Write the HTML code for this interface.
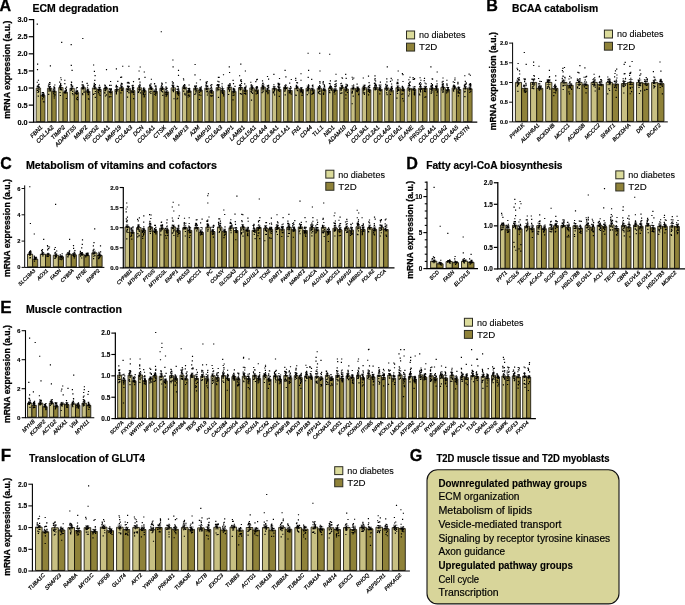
<!DOCTYPE html>
<html><head><meta charset="utf-8"><title>Figure</title>
<style>
html,body{margin:0;padding:0;background:#fff;}
body{width:685px;height:605px;overflow:hidden;}
svg{display:block;font-family:"Liberation Sans",sans-serif;}
</style></head><body>
<svg width="685" height="605" viewBox="0 0 685 605">
<rect width="685" height="605" fill="#fff"/>
<path d="M36.21 121.6V88H40.6V121.6zM47.45 121.6V88.24H51.84V121.6zM58.69 121.6V87.55H63.08V121.6zM69.93 121.6V88.34H74.32V121.6zM81.17 121.6V87.71H85.56V121.6zM92.41 121.6V87.94H96.8V121.6zM103.65 121.6V88.36H108.04V121.6zM114.89 121.6V89.47H119.28V121.6zM126.13 121.6V88.39H130.52V121.6zM137.37 121.6V87.85H141.76V121.6zM148.61 121.6V88.35H153V121.6zM159.85 121.6V88.32H164.24V121.6zM171.09 121.6V87.86H175.48V121.6zM182.33 121.6V87.31H186.72V121.6zM193.57 121.6V88.27H197.96V121.6zM204.81 121.6V88.14H209.2V121.6zM216.05 121.6V87.59H220.44V121.6zM227.29 121.6V87.15H231.68V121.6zM238.53 121.6V87.65H242.92V121.6zM249.77 121.6V87.9H254.16V121.6zM261.01 121.6V87.11H265.4V121.6zM272.25 121.6V88.38H276.64V121.6zM283.49 121.6V87.27H287.88V121.6zM294.73 121.6V88.05H299.12V121.6zM305.97 121.6V88.25H310.36V121.6zM317.21 121.6V88.28H321.6V121.6zM328.45 121.6V88.02H332.84V121.6zM339.69 121.6V87.33H344.08V121.6zM350.93 121.6V88.2H355.32V121.6zM362.17 121.6V87.65H366.56V121.6zM373.41 121.6V87.57H377.8V121.6zM384.65 121.6V87.93H389.04V121.6zM395.89 121.6V87.69H400.28V121.6zM407.13 121.6V88.36H411.52V121.6zM418.37 121.6V88.36H422.76V121.6zM429.61 121.6V88.16H434V121.6zM440.85 121.6V87.51H445.24V121.6zM452.09 121.6V87.86H456.48V121.6zM463.33 121.6V88.01H467.72V121.6z" fill="#c8c083" stroke="#151208" stroke-width="0.72"/>
<path d="M40.6 121.6V95.28H44.99V121.6zM51.84 121.6V91.18H56.23V121.6zM63.08 121.6V92.21H67.47V121.6zM74.32 121.6V92.55H78.71V121.6zM85.56 121.6V91.18H89.95V121.6zM96.8 121.6V89.47H101.19V121.6zM108.04 121.6V91.18H112.43V121.6zM119.28 121.6V87.76H123.67V121.6zM130.52 121.6V90.44H134.91V121.6zM141.76 121.6V90.64H146.15V121.6zM153 121.6V91.45H157.39V121.6zM164.24 121.6V91.86H168.63V121.6zM175.48 121.6V91.62H179.87V121.6zM186.72 121.6V90.92H191.11V121.6zM197.96 121.6V90.14H202.35V121.6zM209.2 121.6V91.3H213.59V121.6zM220.44 121.6V90.54H224.83V121.6zM231.68 121.6V91.38H236.07V121.6zM242.92 121.6V90.02H247.31V121.6zM254.16 121.6V89.75H258.55V121.6zM265.4 121.6V90.07H269.79V121.6zM276.64 121.6V89.38H281.03V121.6zM287.88 121.6V90.47H292.27V121.6zM299.12 121.6V89.62H303.51V121.6zM310.36 121.6V89.76H314.75V121.6zM321.6 121.6V89.72H325.99V121.6zM332.84 121.6V89.91H337.23V121.6zM344.08 121.6V89.06H348.47V121.6zM355.32 121.6V88.79H359.71V121.6zM366.56 121.6V89.69H370.95V121.6zM377.8 121.6V89.24H382.19V121.6zM389.04 121.6V90.42H393.43V121.6zM400.28 121.6V89.05H404.67V121.6zM411.52 121.6V89.1H415.91V121.6zM422.76 121.6V88.34H427.15V121.6zM434 121.6V88.63H438.39V121.6zM445.24 121.6V89.68H449.63V121.6zM456.48 121.6V89.42H460.87V121.6zM467.72 121.6V88.78H472.11V121.6z" fill="#8f8239" stroke="#151208" stroke-width="0.72"/>
<path d="M38.2 86.5V88.8M36.8 86.5h2.9M36.8 88.8h2.9M43 93.8V96.1M41.6 93.8h2.9M41.6 96.1h2.9M49.5 86.5V89.2M48 86.5h2.9M48 89.2h2.9M54.2 89.2V92.5M52.8 89.2h2.9M52.8 92.5h2.9M60.7 85.5V88.9M59.3 85.5h2.9M59.3 88.9h2.9M65.5 90.8V92.9M64 90.8h2.9M64 92.9h2.9M71.9 86.9V89.1M70.5 86.9h2.9M70.5 89.1h2.9M76.7 90.9V93.5M75.3 90.9h2.9M75.3 93.5h2.9M83.2 86.2V88.5M81.8 86.2h2.9M81.8 88.5h2.9M87.9 89V92.7M86.5 89h2.9M86.5 92.7h2.9M94.4 86.1V89M93 86.1h2.9M93 89h2.9M99.2 88V90.2M97.8 88h2.9M97.8 90.2h2.9M105.7 86.9V89.1M104.2 86.9h2.9M104.2 89.1h2.9M110.4 89.3V92.4M109 89.3h2.9M109 92.4h2.9M116.9 87.1V91.1M115.5 87.1h2.9M115.5 91.1h2.9M121.7 86.2V88.6M120.2 86.2h2.9M120.2 88.6h2.9M128.1 86.2V89.9M126.7 86.2h2.9M126.7 89.9h2.9M132.9 88.2V91.9M131.5 88.2h2.9M131.5 91.9h2.9M139.4 85.7V89.3M138 85.7h2.9M138 89.3h2.9M144.1 88.9V91.7M142.7 88.9h2.9M142.7 91.7h2.9M150.6 86.5V89.5M149.2 86.5h2.9M149.2 89.5h2.9M155.4 89.9V92.2M153.9 89.9h2.9M153.9 92.2h2.9M161.9 86.7V89.2M160.4 86.7h2.9M160.4 89.2h2.9M166.6 90.4V92.6M165.2 90.4h2.9M165.2 92.6h2.9M173.1 85.3V89.7M171.7 85.3h2.9M171.7 89.7h2.9M177.9 89.3V93.2M176.4 89.3h2.9M176.4 93.2h2.9M184.3 85.3V88.6M182.9 85.3h2.9M182.9 88.6h2.9M189.1 88.6V92.5M187.7 88.6h2.9M187.7 92.5h2.9M195.6 85.8V90M194.2 85.8h2.9M194.2 90h2.9M200.3 88.4V91.1M198.9 88.4h2.9M198.9 91.1h2.9M206.8 85.9V89.7M205.4 85.9h2.9M205.4 89.7h2.9M211.6 89V92.9M210.1 89h2.9M210.1 92.9h2.9M218.1 85V89.4M216.6 85h2.9M216.6 89.4h2.9M222.8 88.5V91.8M221.4 88.5h2.9M221.4 91.8h2.9M229.3 85.5V88M227.9 85.5h2.9M227.9 88h2.9M234.1 89.2V92.9M232.6 89.2h2.9M232.6 92.9h2.9M240.5 85.4V89.2M239.1 85.4h2.9M239.1 89.2h2.9M245.3 87.8V91.5M243.9 87.8h2.9M243.9 91.5h2.9M251.8 85.9V89.2M250.4 85.9h2.9M250.4 89.2h2.9M256.5 88V90.7M255.1 88h2.9M255.1 90.7h2.9M263 84.7V88.8M261.6 84.7h2.9M261.6 88.8h2.9M267.8 88.3V91.1M266.4 88.3h2.9M266.4 91.1h2.9M274.3 86.5V89.6M272.8 86.5h2.9M272.8 89.6h2.9M279 87.4V90.6M277.6 87.4h2.9M277.6 90.6h2.9M285.5 85.5V88.4M284.1 85.5h2.9M284.1 88.4h2.9M290.3 88.2V92M288.8 88.2h2.9M288.8 92h2.9M296.7 86.4V88.9M295.3 86.4h2.9M295.3 88.9h2.9M301.5 87.7V90.8M300.1 87.7h2.9M300.1 90.8h2.9M308 86V89.8M306.6 86h2.9M306.6 89.8h2.9M312.7 88.2V90.6M311.3 88.2h2.9M311.3 90.6h2.9M319.2 86.5V89.4M317.8 86.5h2.9M317.8 89.4h2.9M324 88.1V90.7M322.6 88.1h2.9M322.6 90.7h2.9M330.5 86.5V88.8M329 86.5h2.9M329 88.8h2.9M335.2 88.5V90.7M333.8 88.5h2.9M333.8 90.7h2.9M341.7 85.5V88.4M340.3 85.5h2.9M340.3 88.4h2.9M346.5 86.6V90.8M345 86.6h2.9M345 90.8h2.9M352.9 85.8V89.9M351.5 85.8h2.9M351.5 89.9h2.9M357.7 87V89.9M356.3 87h2.9M356.3 89.9h2.9M364.2 85.2V89.4M362.8 85.2h2.9M362.8 89.4h2.9M368.9 87.2V91.4M367.5 87.2h2.9M367.5 91.4h2.9M375.4 85.1V89.3M374 85.1h2.9M374 89.3h2.9M380.2 87.2V90.5M378.8 87.2h2.9M378.8 90.5h2.9M386.7 86.4V88.8M385.2 86.4h2.9M385.2 88.8h2.9M391.4 88.3V91.8M390 88.3h2.9M390 91.8h2.9M397.9 85.9V88.7M396.5 85.9h2.9M396.5 88.7h2.9M402.7 87.2V90.2M401.2 87.2h2.9M401.2 90.2h2.9M409.1 85.9V90.1M407.7 85.9h2.9M407.7 90.1h2.9M413.9 86.9V90.5M412.5 86.9h2.9M412.5 90.5h2.9M420.4 86.5V89.5M419 86.5h2.9M419 89.5h2.9M425.1 86.3V89.6M423.7 86.3h2.9M423.7 89.6h2.9M431.6 86.1V89.5M430.2 86.1h2.9M430.2 89.5h2.9M436.4 86.2V90.3M435 86.2h2.9M435 90.3h2.9M442.9 86V88.3M441.4 86h2.9M441.4 88.3h2.9M447.6 87.5V91.1M446.2 87.5h2.9M446.2 91.1h2.9M454.1 85.9V89.1M452.7 85.9h2.9M452.7 89.1h2.9M458.9 87.3V90.8M457.4 87.3h2.9M457.4 90.8h2.9M465.3 86.5V88.9M463.9 86.5h2.9M463.9 88.9h2.9M470.1 86.8V90M468.7 86.8h2.9M468.7 90h2.9" stroke="#000" stroke-width="0.6" fill="none"/>
<path d="M37.4 92.5h1.2M37.8 80.2h1.2M38.6 87.3h1.2M38 84.7h1.2M37.7 96.1h1.2M37.9 84.7h1.2M38 91.6h1.2M36.7 86.2h1.2M38.5 84.2h1.2M38.2 91.2h1.2M38.4 89.5h1.2M38.2 90.7h1.2M37.4 85.8h1.2M37.4 86.6h1.2M36.8 90.4h1.2M37.9 87h1.2M36.7 82.2h1.2M36.7 24.1h1.2M37 64.1h1.2M36.9 69.6h1.2M43.4 94.9h1.2M43.1 93.9h1.2M42.8 94.9h1.2M41.9 96h1.2M42.1 95.6h1.2M41.7 92.6h1.2M42.9 92.5h1.2M42.4 96.7h1.2M43 94.5h1.2M42 98.8h1.2M41.8 94.6h1.2M43 94.9h1.2M43.4 101.8h1.2M43.1 96.7h1.2M43 95.2h1.2M43 97.1h1.2M42.9 101.7h1.2M48.6 88.8h1.2M48.7 87.5h1.2M49.8 90.9h1.2M49.3 87.3h1.2M48.2 84.1h1.2M48.1 94.4h1.2M48.1 85.9h1.2M49.7 86.5h1.2M49.5 89.9h1.2M48.1 85.7h1.2M49.5 82.8h1.2M49.9 88.9h1.2M49.2 84.5h1.2M48.6 91h1.2M49 82.5h1.2M48.1 91h1.2M47.8 86h1.2M49.8 65.9h1.2M53.7 98h1.2M53.3 86.9h1.2M53.7 91h1.2M53.7 90.8h1.2M54.2 88h1.2M52.8 91.1h1.2M53.7 87.3h1.2M53.1 89.2h1.2M53.1 93.5h1.2M54.2 85h1.2M53.6 96.1h1.2M53.7 91.4h1.2M54.2 91h1.2M54.5 94.8h1.2M53.5 94.1h1.2M53.9 87.9h1.2M53.6 88.6h1.2M59.4 92.5h1.2M60 84.8h1.2M60.1 89.4h1.2M59.8 95.5h1.2M59.5 86.1h1.2M59.7 88.2h1.2M60.6 89.4h1.2M59.1 86.7h1.2M60.2 77.7h1.2M60 85.7h1.2M59.1 82.1h1.2M59.8 89.7h1.2M60.4 87.2h1.2M60.1 83.6h1.2M59.2 87.2h1.2M61.1 89.9h1.2M60.7 79.7h1.2M61.1 42.3h1.2M65.1 92.4h1.2M63.9 83.7h1.2M65.3 90h1.2M65.8 89.2h1.2M65.8 98.5h1.2M64.4 83.7h1.2M64.2 80.2h1.2M65.8 90.6h1.2M65.1 91.3h1.2M64.9 88.3h1.2M64.2 92.8h1.2M64.7 91.6h1.2M65.2 93h1.2M64.4 91.9h1.2M65.5 90.8h1.2M65.9 87.1h1.2M63.9 92h1.2M70.3 90.5h1.2M71.1 88.4h1.2M71 89.7h1.2M72.4 94.7h1.2M71 82.4h1.2M70.4 88.5h1.2M72.1 91.4h1.2M70.8 82h1.2M70.7 65.4h1.2M71 88.6h1.2M70.5 84.6h1.2M70.9 84.4h1.2M71.7 86.6h1.2M70.8 85.7h1.2M71.9 93.5h1.2M70.5 89.9h1.2M72 86h1.2M70.6 44.6h1.2M71.5 70.3h1.2M75.6 89h1.2M76 93.4h1.2M75.2 93.1h1.2M77 91.4h1.2M76.9 99.6h1.2M75.2 93.1h1.2M76.1 87.7h1.2M76.6 90.8h1.2M76 98.9h1.2M76.7 87.5h1.2M76.8 93.9h1.2M75.5 91.4h1.2M76.6 91.6h1.2M75.5 93.6h1.2M76.4 90.7h1.2M76 94.1h1.2M76.8 97.4h1.2M82.6 86.6h1.2M83.5 91.9h1.2M81.8 88.9h1.2M83.3 89.8h1.2M82.6 86.1h1.2M83.4 87.2h1.2M83 88.5h1.2M82 93.6h1.2M83.4 92.3h1.2M82.6 86.8h1.2M81.6 87.9h1.2M81.5 84.8h1.2M82.6 87.6h1.2M82.5 84.9h1.2M82.2 94.7h1.2M81.8 81.8h1.2M82.3 88.4h1.2M82.2 38.5h1.2M87.8 91.4h1.2M86.4 90.8h1.2M87.8 94.4h1.2M87.2 92.4h1.2M87.9 98.8h1.2M87.6 93.7h1.2M86.9 89.3h1.2M86.4 83.5h1.2M88.2 92.3h1.2M86.6 83.3h1.2M87.3 85.4h1.2M87 90.8h1.2M86.9 87.2h1.2M87.8 90h1.2M88.3 99.2h1.2M86.8 89.7h1.2M87.7 94.7h1.2M94.2 80.4h1.2M93.9 85.3h1.2M94.4 93.5h1.2M94.6 87.6h1.2M93 65h1.2M94.7 97.4h1.2M93.6 84.9h1.2M94.1 86.5h1.2M93.7 88.4h1.2M93.4 86.3h1.2M94.5 87.9h1.2M94.8 84.6h1.2M93 94.4h1.2M93.7 83.4h1.2M94.4 88.9h1.2M94.5 75.6h1.2M94.8 91.5h1.2M93.8 71.3h1.2M99.5 91.5h1.2M98.9 89.1h1.2M99.4 87.4h1.2M98.5 93.8h1.2M98 90.3h1.2M98 89.7h1.2M99.5 89.4h1.2M99 89.9h1.2M98.2 89.6h1.2M97.6 91.9h1.2M98.6 93.9h1.2M98.9 87.6h1.2M98.4 87.4h1.2M98.1 89.8h1.2M98.9 85.2h1.2M99.5 95.3h1.2M98 92.5h1.2M104.7 88.9h1.2M104.3 93.2h1.2M104.2 85h1.2M104.4 87.9h1.2M104.4 90.3h1.2M105.4 87.9h1.2M105.1 90.6h1.2M105 87.2h1.2M104.7 85.5h1.2M105.5 89.2h1.2M105.8 94.8h1.2M106.1 87.6h1.2M104.9 87h1.2M104.2 88.3h1.2M104.2 92.4h1.2M104.2 85.1h1.2M104.9 96h1.2M105.9 69.6h1.2M109.4 89.2h1.2M110.3 96.6h1.2M110 81.5h1.2M110.5 88.6h1.2M110.7 89.3h1.2M108.9 88.9h1.2M110.5 85.4h1.2M109 91.8h1.2M110.3 93.8h1.2M109.7 92.4h1.2M110.4 89.2h1.2M110.4 90.3h1.2M110.7 89.3h1.2M110.5 92.3h1.2M109 85.4h1.2M109.8 91h1.2M108.8 96.9h1.2M115.8 85.4h1.2M115.8 93.9h1.2M115.8 85.6h1.2M115.8 90.9h1.2M116.2 90.6h1.2M115.6 86.8h1.2M115.8 90.5h1.2M115.8 93.1h1.2M117.2 81.4h1.2M115.7 89.6h1.2M115.4 91.3h1.2M115.8 91.8h1.2M115.8 68.8h1.2M116.4 89.8h1.2M116.6 86.5h1.2M115.5 86.2h1.2M116.2 88.8h1.2M121.7 89.2h1.2M121.7 83.9h1.2M120.9 90.3h1.2M120.8 83.2h1.2M121.3 86.9h1.2M120.2 85.1h1.2M120.1 77.3h1.2M121 90.4h1.2M121 77.1h1.2M120.9 86.3h1.2M121.7 90.5h1.2M121.4 89.6h1.2M120.3 92.8h1.2M121.1 84.1h1.2M121.4 86.9h1.2M120.8 86.4h1.2M120.6 87.4h1.2M122.1 66.2h1.2M128.2 82.6h1.2M128.5 89.2h1.2M126.9 97.1h1.2M126.8 82.9h1.2M128.5 90.7h1.2M128.5 86.6h1.2M127.5 82.4h1.2M126.6 89.3h1.2M128.4 92.8h1.2M127.3 89.6h1.2M128.4 83.3h1.2M127.8 87.3h1.2M128.2 92.2h1.2M126.8 91.4h1.2M128.1 89.2h1.2M127 86.3h1.2M127.3 86h1.2M128.3 66.2h1.2M133 87.6h1.2M132.9 81.6h1.2M132.1 88h1.2M131.4 92.1h1.2M132 88.6h1.2M132 87h1.2M132.9 92.6h1.2M132.3 85.2h1.2M132.6 85.7h1.2M131.3 91.6h1.2M131.5 85.7h1.2M133.2 94.3h1.2M131.9 89.3h1.2M132.8 91.8h1.2M131.4 92.6h1.2M132.8 89.2h1.2M133.1 98.6h1.2M138.4 86.2h1.2M138.5 87.4h1.2M139.4 82.1h1.2M138.3 79.1h1.2M139.3 89.6h1.2M137.8 92.3h1.2M139.5 85.9h1.2M139.8 92.8h1.2M138.7 89.6h1.2M138.8 78.9h1.2M139.2 87.7h1.2M139.6 67h1.2M138.3 91.4h1.2M138.9 90.1h1.2M139.5 89.7h1.2M139.3 84.4h1.2M138.5 89.3h1.2M138.5 71h1.2M143.7 92.2h1.2M143.7 91.2h1.2M142.9 89.1h1.2M143.8 95.9h1.2M143.5 96.9h1.2M142.8 94.3h1.2M144.4 77.3h1.2M143 90.3h1.2M142.8 93.3h1.2M142.7 94.7h1.2M143.8 89.3h1.2M144.3 94.4h1.2M144.1 90.1h1.2M143.3 87.7h1.2M143 88.3h1.2M142.5 92.7h1.2M143.8 91.3h1.2M143.7 72h1.2M150.3 93.4h1.2M149.2 92.1h1.2M150.8 87.9h1.2M150.9 87.9h1.2M151 89.3h1.2M149.5 87.1h1.2M149.1 85.1h1.2M150.3 87.6h1.2M150.4 91.4h1.2M150.4 83.9h1.2M150.9 89.2h1.2M151 88h1.2M149.6 88.1h1.2M150.9 88.7h1.2M150.8 79.2h1.2M149.2 85.4h1.2M150 85.2h1.2M153.8 91.1h1.2M155.2 85.7h1.2M155.1 93.5h1.2M155.2 88.9h1.2M155.3 93h1.2M153.9 83.8h1.2M155 95.1h1.2M154.5 86.1h1.2M155.4 93.6h1.2M155.4 86.9h1.2M155.6 92h1.2M153.9 94.2h1.2M155.5 88.3h1.2M155.6 89.5h1.2M155.7 90.8h1.2M154 83.6h1.2M154.2 91.5h1.2M161.1 83.1h1.2M161.3 89.4h1.2M160.8 90.4h1.2M161.8 87.7h1.2M160.3 90h1.2M160.9 85.8h1.2M160.4 88.1h1.2M161.7 83.8h1.2M161.9 87.2h1.2M162.2 95.3h1.2M161.5 88.8h1.2M162.2 89h1.2M161.3 91.3h1.2M161.4 84.6h1.2M160.6 90h1.2M161.9 91.9h1.2M162.2 89.5h1.2M160.7 31.7h1.2M166.2 92.2h1.2M165.2 89.4h1.2M165.9 94.3h1.2M166.8 94.1h1.2M165.5 86.8h1.2M165.4 93.9h1.2M165.6 88.4h1.2M166.4 92.6h1.2M166.7 88.2h1.2M165.3 82.7h1.2M165.3 92.3h1.2M165.5 96.2h1.2M165.7 92.1h1.2M166.1 95.7h1.2M165.3 94.6h1.2M165.7 89.2h1.2M165.4 87.2h1.2M172.1 85.8h1.2M172.8 82.7h1.2M171.7 85.4h1.2M172.3 85.2h1.2M173.1 90.3h1.2M173 86.9h1.2M172.8 86.2h1.2M172 85.3h1.2M172.3 90.5h1.2M172.4 83.6h1.2M172.8 90h1.2M172.3 86.7h1.2M172.9 87.8h1.2M173.4 98.7h1.2M171.8 81.9h1.2M172.8 91.6h1.2M173.1 89.9h1.2M172.3 60h1.2M172.5 66.9h1.2M177.8 92.9h1.2M178.2 93.6h1.2M177.3 91.8h1.2M176.7 86.3h1.2M177.9 88.7h1.2M177 98.2h1.2M176.7 91.7h1.2M176.5 99h1.2M177.8 86.9h1.2M177.9 95.2h1.2M177.5 89.1h1.2M177.2 93.3h1.2M177.4 94.3h1.2M176.7 89.2h1.2M178.2 90.4h1.2M176.9 93h1.2M177.5 92.3h1.2M177.9 70.3h1.2M177.9 75.4h1.2M182.7 86.5h1.2M184.7 95h1.2M184.1 86.2h1.2M183.2 91.1h1.2M182.9 78.7h1.2M183 88h1.2M183.2 85.5h1.2M184.3 94.4h1.2M183.4 88.7h1.2M183 91.2h1.2M184.6 88.8h1.2M184.4 88.4h1.2M183.1 80h1.2M184.6 88.8h1.2M184 84.6h1.2M184.3 93.2h1.2M184.1 87.5h1.2M187.5 91.1h1.2M187.5 92.7h1.2M189 90.5h1.2M189.5 91.9h1.2M189.1 91.4h1.2M187.6 97h1.2M188.5 85h1.2M189 96.1h1.2M187.8 91.8h1.2M187.9 90.5h1.2M188.3 89.3h1.2M187.7 88.5h1.2M187.6 95.5h1.2M188.8 88.2h1.2M188.2 94.8h1.2M189.1 89.7h1.2M188.6 88.8h1.2M195.4 92.2h1.2M195.2 87h1.2M195.4 90.2h1.2M194.4 74.8h1.2M195.3 91.5h1.2M194.9 88h1.2M195.5 91.2h1.2M194.2 94.3h1.2M194.3 89.1h1.2M194 86.2h1.2M195.6 90.1h1.2M195.9 83h1.2M195.3 88.7h1.2M194.7 87.3h1.2M195.7 86.1h1.2M195.6 90.1h1.2M195.1 93.7h1.2M194.5 64.5h1.2M198.7 94.8h1.2M200.2 90.7h1.2M199.2 87.7h1.2M200.2 91.2h1.2M199.1 90h1.2M198.8 99.5h1.2M200.3 95.2h1.2M200.2 87.7h1.2M200.5 89.5h1.2M200.2 88.9h1.2M198.9 92.3h1.2M200 89h1.2M200.2 88.6h1.2M199.7 79.7h1.2M200.6 89.7h1.2M199.2 89.6h1.2M200.7 86.8h1.2M206 83.3h1.2M206 86h1.2M206.8 91.3h1.2M205.7 82.1h1.2M206.1 91.7h1.2M206.6 91h1.2M205.9 89.3h1.2M205.7 88.9h1.2M205.5 84.9h1.2M207.1 88.8h1.2M206.8 95h1.2M206.8 81.7h1.2M205.8 88.2h1.2M205.5 86.1h1.2M207 86.3h1.2M207.3 93h1.2M205.5 82.9h1.2M210.7 91.6h1.2M211.1 95.8h1.2M210.8 92.4h1.2M211 88h1.2M210.2 85.4h1.2M210 95.7h1.2M212 95.7h1.2M210.7 86.9h1.2M210.2 92.1h1.2M211.3 93.2h1.2M211.6 90.5h1.2M210.3 90.7h1.2M211.2 84.6h1.2M210.7 96.2h1.2M211 90.3h1.2M210 90.2h1.2M210 88.2h1.2M216.5 90.7h1.2M217 88.9h1.2M217.2 81.2h1.2M218.3 84.9h1.2M218.3 84.6h1.2M218.2 89.8h1.2M216.5 85.4h1.2M218.1 86.4h1.2M217.9 97.4h1.2M217.8 86.9h1.2M218.5 77.4h1.2M216.5 88.8h1.2M216.7 88.7h1.2M218 85.7h1.2M218.4 81.8h1.2M217.8 77.3h1.2M217 84.6h1.2M221.5 90.3h1.2M221.6 92.1h1.2M221.3 88.7h1.2M222.7 92.8h1.2M222.3 89.9h1.2M221.5 83.7h1.2M223 95.8h1.2M221.7 89.6h1.2M222 91.9h1.2M221.5 86.2h1.2M221.7 92.7h1.2M222.9 74.7h1.2M221.9 93.4h1.2M221.5 91.7h1.2M222.2 93.5h1.2M221.8 87.8h1.2M223.1 94.4h1.2M229.4 89.4h1.2M228.8 91.2h1.2M228.1 85.1h1.2M228 88.3h1.2M228.9 90.1h1.2M229.4 85.6h1.2M229.5 84.3h1.2M229.2 85h1.2M229.3 83.5h1.2M228 94.5h1.2M227.9 89.2h1.2M229.1 85.2h1.2M229 72.5h1.2M228.1 86.7h1.2M228.3 87.4h1.2M227.7 85.4h1.2M229.1 87.2h1.2M228.7 66.9h1.2M233.5 89.8h1.2M233.5 95h1.2M232.5 80.3h1.2M234.4 86.4h1.2M232.9 89.8h1.2M232.8 89.2h1.2M232.6 92.8h1.2M232.9 83.6h1.2M234.1 90.3h1.2M232.5 95.4h1.2M232.6 91.3h1.2M233.9 91.9h1.2M232.8 88.3h1.2M232.4 99.9h1.2M233.7 95h1.2M233.6 88.7h1.2M233.5 91.7h1.2M239 87.9h1.2M240 86h1.2M240.9 87.7h1.2M240.9 81.4h1.2M239.4 85.6h1.2M239.8 84.7h1.2M240.2 86h1.2M239.7 89.9h1.2M240 80.8h1.2M239 75.7h1.2M239.8 93.6h1.2M240 89h1.2M238.9 85.2h1.2M239.2 87.6h1.2M240.9 94.1h1.2M240.5 79.6h1.2M240.9 83.3h1.2M240.2 64.1h1.2M245 93.1h1.2M244.1 87.7h1.2M245.1 94.1h1.2M244.6 90.8h1.2M244.8 90.7h1.2M244.9 89.5h1.2M244.6 89.1h1.2M244.3 91.2h1.2M244.2 88.6h1.2M244.1 83.9h1.2M244.7 87.3h1.2M244.5 87.4h1.2M244.9 87.9h1.2M243.7 93.5h1.2M244.4 90.4h1.2M245.5 86.1h1.2M244.1 93.3h1.2M244.8 71h1.2M250.5 85h1.2M251.9 88.6h1.2M250.7 87.1h1.2M251.4 86h1.2M250.4 91.4h1.2M251.9 93.3h1.2M251.6 87.8h1.2M250.7 89.2h1.2M250.9 91.8h1.2M250.9 84.8h1.2M251.2 92.3h1.2M251.4 90.3h1.2M251.5 88.6h1.2M250.2 82.2h1.2M251.7 87.1h1.2M252.2 87.7h1.2M250.9 100.1h1.2M256.7 79.4h1.2M256.9 92.2h1.2M255.9 88.1h1.2M255.8 88.6h1.2M256.2 92h1.2M257 88h1.2M255.6 87.2h1.2M256 86.7h1.2M256.6 87.1h1.2M255.2 81.6h1.2M255.6 93.9h1.2M256.9 93.4h1.2M256.6 86.5h1.2M256 79.9h1.2M255.1 91h1.2M256.8 91.4h1.2M256.3 87.2h1.2M262.5 91.6h1.2M263.1 89.8h1.2M262.7 87.8h1.2M263.1 86.3h1.2M261.5 92.6h1.2M261.4 88.1h1.2M263 86.3h1.2M262.1 86.7h1.2M262.9 88.5h1.2M262.1 86.1h1.2M261.7 85.9h1.2M261.9 80.8h1.2M261.6 89.9h1.2M263.3 87.8h1.2M262.6 83.2h1.2M262.1 83.4h1.2M262.3 85.6h1.2M266.5 89h1.2M266.9 86.1h1.2M266.1 91.4h1.2M268 85.4h1.2M267 88.9h1.2M266.9 88.2h1.2M266.8 85.8h1.2M268 79.1h1.2M266.8 89.3h1.2M267.5 92.6h1.2M268.1 87.5h1.2M267 89.6h1.2M268 86.2h1.2M267.3 93.7h1.2M266.9 76.5h1.2M267.1 89.3h1.2M266.8 92h1.2M273.7 90.2h1.2M273.8 90.7h1.2M273.2 88.4h1.2M274.2 90h1.2M273.4 91.5h1.2M274 89.3h1.2M273.8 89.6h1.2M273.3 84.7h1.2M273.4 93.1h1.2M272.8 92.3h1.2M273 92.1h1.2M274.4 88.2h1.2M273.3 74.3h1.2M274 94.9h1.2M272.8 92.5h1.2M273.8 88.8h1.2M273.4 86.8h1.2M277.8 90.7h1.2M278 86.2h1.2M278.2 87.8h1.2M277.5 83.4h1.2M278 83.3h1.2M278.7 96.4h1.2M277.7 84.5h1.2M279.1 87h1.2M278.6 84.8h1.2M278.9 78.5h1.2M277.9 87.5h1.2M278.3 85.4h1.2M278.8 89h1.2M278.1 89.7h1.2M277.4 86.3h1.2M279.1 91.3h1.2M279 84.1h1.2M285.2 84.7h1.2M285 89h1.2M284.4 87.3h1.2M284 88.1h1.2M284.6 86.3h1.2M284.7 88.9h1.2M284.3 89h1.2M284.5 90.1h1.2M284.1 91.2h1.2M285.3 87.9h1.2M285.3 76.9h1.2M284.4 90.8h1.2M284.4 87.6h1.2M284.9 89h1.2M284.8 86.8h1.2M285.8 88.4h1.2M284.6 94.9h1.2M284.5 70.3h1.2M288.8 92.5h1.2M290.1 93h1.2M290.7 79.5h1.2M289.8 90.9h1.2M288.8 93h1.2M289.6 88.7h1.2M289.5 92h1.2M289 91h1.2M289.7 89h1.2M288.6 90.8h1.2M290.5 88h1.2M290 86.6h1.2M289.9 90.9h1.2M290.6 94.1h1.2M290 90.8h1.2M289.1 83.1h1.2M289.1 88.9h1.2M296 85.4h1.2M297.1 87.1h1.2M295.3 95.1h1.2M295.2 80.3h1.2M296 86.8h1.2M295.5 95.5h1.2M296.6 82.8h1.2M295.1 78.3h1.2M296.9 90.6h1.2M296.9 82.9h1.2M296.7 87.6h1.2M296 85.9h1.2M295.7 85.2h1.2M296.5 90h1.2M296.2 82.5h1.2M296 87.8h1.2M295.8 88.5h1.2M300.2 91.1h1.2M301.1 89.5h1.2M301 89h1.2M301.8 93.1h1.2M300.6 87.8h1.2M300.4 73.7h1.2M300.8 90.6h1.2M300.4 80.2h1.2M300.3 89.9h1.2M301.9 92.1h1.2M300.3 92.2h1.2M301.4 95.3h1.2M300.3 88.4h1.2M301.6 95.1h1.2M301.2 90.1h1.2M300.2 90.8h1.2M301.3 91.3h1.2M307.5 90.2h1.2M308.3 88.4h1.2M308.2 85.9h1.2M306.7 94.6h1.2M307.9 84.9h1.2M307.1 89.9h1.2M307.9 91h1.2M307.8 86.5h1.2M308.1 93h1.2M306.6 90.1h1.2M307.1 87.6h1.2M307.9 89.1h1.2M308.3 88.2h1.2M307.8 87.4h1.2M306.4 90.7h1.2M307.6 77.4h1.2M306.5 91h1.2M307.5 53.2h1.2M308 70.3h1.2M311.9 93.8h1.2M312.9 93.4h1.2M312.4 86.7h1.2M311.2 88.5h1.2M311.8 89.1h1.2M311.5 89h1.2M313 92.1h1.2M312.3 85.1h1.2M311.2 94.2h1.2M311.4 88.7h1.2M311.8 89.6h1.2M312.1 93h1.2M312.3 89.2h1.2M311.9 86.7h1.2M311.8 85.5h1.2M311.1 79.3h1.2M312.3 91.2h1.2M319 87.9h1.2M319.4 83.1h1.2M319.2 88.2h1.2M318.6 91.1h1.2M319.4 71h1.2M319.3 81.6h1.2M319.7 87h1.2M317.9 88h1.2M318 87.2h1.2M319.4 90.9h1.2M319 85.6h1.2M318.4 93.4h1.2M318.4 89.1h1.2M319.2 91.4h1.2M319.5 94.1h1.2M318.8 88.3h1.2M317.9 92.4h1.2M319.1 53.2h1.2M322.5 82.5h1.2M324 86.8h1.2M324.2 90.7h1.2M323 90.4h1.2M322.6 83.8h1.2M322.7 81.6h1.2M323.5 89.9h1.2M324.2 90.9h1.2M323.7 86.7h1.2M324.3 89.2h1.2M322.8 93.7h1.2M323 88.9h1.2M323.9 85.9h1.2M323.7 84.7h1.2M323.2 92.8h1.2M323.7 90.2h1.2M323 94.3h1.2M330.4 86.9h1.2M330.9 89.6h1.2M329.8 80.8h1.2M329.4 88.1h1.2M329.9 85.7h1.2M330.8 87h1.2M329.1 90.5h1.2M328.8 83.5h1.2M329.8 85.9h1.2M330.2 86.5h1.2M330.4 88.9h1.2M329.6 83.9h1.2M330.9 90.2h1.2M329.3 92.7h1.2M330.4 87.8h1.2M329 92.1h1.2M328.9 87.4h1.2M329.1 54.2h1.2M333.6 92.3h1.2M333.6 89.8h1.2M335.1 84.7h1.2M334.1 84.7h1.2M334.3 94h1.2M334.3 91.4h1.2M334.5 81.2h1.2M334.2 86.5h1.2M335.4 74.2h1.2M334.6 87h1.2M335.6 85.8h1.2M335.2 89.8h1.2M334.6 90.4h1.2M335.5 83.6h1.2M335.2 86.7h1.2M335.6 80.8h1.2M333.9 91.1h1.2M341.5 88.2h1.2M340.9 83.2h1.2M340.8 89h1.2M341.9 78.2h1.2M341.3 92.9h1.2M340.5 90.4h1.2M341.4 77.7h1.2M340.1 83.7h1.2M340.3 88.7h1.2M341.3 85.9h1.2M341.3 86.5h1.2M341.5 88.2h1.2M341.6 85.2h1.2M340.2 88.4h1.2M341.9 86.9h1.2M340.2 93.3h1.2M340.3 89.6h1.2M345.6 86.1h1.2M345.5 84.2h1.2M345.7 88.7h1.2M346.8 92.5h1.2M345.6 89.5h1.2M345.6 78.3h1.2M345.7 89.9h1.2M345.1 88.9h1.2M346.9 85.7h1.2M344.8 87.4h1.2M346.1 88.4h1.2M346.7 84.9h1.2M345.3 98.2h1.2M346.1 89h1.2M345.6 87.1h1.2M345.3 94.9h1.2M345.2 90.8h1.2M345.1 74.4h1.2M353 87.2h1.2M351.8 88.7h1.2M351.7 92.6h1.2M353 88.4h1.2M352.3 88.1h1.2M352.6 96.1h1.2M353 87h1.2M353.2 78h1.2M353.1 89h1.2M351.4 92.2h1.2M352.1 79.1h1.2M353 85h1.2M353 88.5h1.2M351.6 77.2h1.2M351.6 103.7h1.2M351.8 91.3h1.2M351.5 93.2h1.2M357.1 89.3h1.2M357.1 90.9h1.2M356.2 91.5h1.2M356.3 90.6h1.2M358.1 94.1h1.2M356.7 88.3h1.2M357.7 90.3h1.2M358 94.7h1.2M357.5 87.9h1.2M356.8 87.3h1.2M356.1 90.8h1.2M357.6 89.1h1.2M358.1 88.9h1.2M357 89.2h1.2M357.3 92h1.2M356.6 88h1.2M356.5 84.1h1.2M364.1 85.2h1.2M362.8 88.7h1.2M363 88.3h1.2M362.7 89h1.2M364.2 87.2h1.2M362.8 92.9h1.2M362.7 78h1.2M364.1 88.5h1.2M363.7 89.3h1.2M362.7 90.9h1.2M364 92.9h1.2M364 86h1.2M363.5 89.9h1.2M362.7 86.6h1.2M364 87.5h1.2M363.4 89.5h1.2M363.8 94.4h1.2M369.2 90.5h1.2M368.5 90.3h1.2M367.4 88.1h1.2M367.9 86.5h1.2M368.4 89.6h1.2M368.1 89.9h1.2M368.5 85.9h1.2M368 94.9h1.2M367.9 89.5h1.2M369 92.3h1.2M367.9 76.1h1.2M368.8 90.2h1.2M369 87.6h1.2M368.5 82.6h1.2M368.2 91.3h1.2M369.2 85.3h1.2M368.2 91.5h1.2M374.4 85.3h1.2M374.3 83h1.2M375 84.1h1.2M374.4 75.9h1.2M375 81h1.2M374.1 86.7h1.2M375.7 85.3h1.2M374.5 78.6h1.2M375.5 89.2h1.2M374.1 87.7h1.2M375.5 88.6h1.2M375.8 86.9h1.2M374.6 89.9h1.2M373.8 83.3h1.2M374.6 88.6h1.2M375.1 88.4h1.2M374.2 80h1.2M378.6 87.8h1.2M379.2 93.8h1.2M379.5 86.7h1.2M379 89.9h1.2M380.1 90.9h1.2M378.9 89.7h1.2M380.2 90.1h1.2M379.2 89.8h1.2M378.7 88.8h1.2M379.7 88.4h1.2M378.7 85.1h1.2M379.7 88.2h1.2M380.2 85h1.2M379.8 82.1h1.2M379.5 88.3h1.2M378.6 87.9h1.2M379.6 86.3h1.2M386 92.9h1.2M386.7 85.4h1.2M386.2 88.7h1.2M386.5 94.6h1.2M385.5 88.4h1.2M386.6 88.4h1.2M385.3 89.1h1.2M385.6 85.9h1.2M385.1 84.4h1.2M385.8 85.8h1.2M386.1 90.3h1.2M385.6 87.3h1.2M386.9 89.7h1.2M385.2 84.4h1.2M386.2 78.9h1.2M385.5 88.2h1.2M386.3 81.9h1.2M386.7 66.9h1.2M389.8 89.6h1.2M390.9 87.3h1.2M390.5 89.2h1.2M389.9 89.3h1.2M391 84h1.2M389.9 94.3h1.2M391.6 80h1.2M389.9 81.3h1.2M390.5 89.1h1.2M390.6 78.4h1.2M391.1 88.9h1.2M391.8 88.3h1.2M391 87.5h1.2M391.4 89.3h1.2M390.8 86.9h1.2M391.4 86.2h1.2M390.8 90.2h1.2M397.3 79.9h1.2M397.1 90.5h1.2M396.9 93.4h1.2M396.6 82.4h1.2M397.4 83.6h1.2M396.4 83.6h1.2M397.1 87h1.2M397.2 82.3h1.2M396.3 98.1h1.2M397 89.6h1.2M398.3 90.4h1.2M396.7 91.3h1.2M398.1 89.5h1.2M397.1 86.2h1.2M397.4 87.2h1.2M396.8 87.9h1.2M396.7 82.7h1.2M397.6 71h1.2M403 90.8h1.2M401.8 90.7h1.2M402.4 74.6h1.2M402.3 87.5h1.2M401.8 73.6h1.2M402.1 98.6h1.2M402.4 88.7h1.2M402.9 89h1.2M402.1 88.4h1.2M401.8 86.4h1.2M403.1 90.4h1.2M401.1 94.2h1.2M402.8 101h1.2M402.4 81.5h1.2M402.2 93.8h1.2M401.9 90.5h1.2M402.6 89.1h1.2M409.2 82.3h1.2M407.6 87.3h1.2M408.1 83.3h1.2M408.6 90.1h1.2M408.9 91.7h1.2M409.4 89.5h1.2M408.7 84h1.2M409.5 81.8h1.2M409.1 89.1h1.2M408.3 79.7h1.2M408.9 94h1.2M408.1 95.8h1.2M409.4 77.2h1.2M408.5 89.7h1.2M408.8 84.5h1.2M409.4 85.5h1.2M408.3 85.4h1.2M414.1 90.6h1.2M414.1 92.9h1.2M412.5 77.6h1.2M413.5 79.5h1.2M414 78.6h1.2M414 94.9h1.2M413.7 94.4h1.2M414.2 86.6h1.2M412.6 79.4h1.2M412.6 88.7h1.2M413.8 92.3h1.2M413.8 93.3h1.2M412.5 89.1h1.2M413.1 89.4h1.2M414 88.5h1.2M413.9 92.1h1.2M414 90.6h1.2M420 86h1.2M419.8 90.9h1.2M420 91.9h1.2M420.6 89.1h1.2M419.4 86.8h1.2M419.5 77.7h1.2M419.9 92h1.2M420.6 88.1h1.2M418.9 94h1.2M418.8 84.2h1.2M419.8 84.8h1.2M419 83.5h1.2M420.7 84h1.2M419.2 95h1.2M419.7 82.5h1.2M420.3 80.2h1.2M419.7 89.9h1.2M425.2 96.8h1.2M425.5 83.8h1.2M424.2 87h1.2M425.6 86.6h1.2M423.6 80.6h1.2M424.5 91.2h1.2M423.8 88.5h1.2M424.4 83h1.2M424.9 91.2h1.2M425 87.8h1.2M424.4 89.1h1.2M424.2 97.2h1.2M423.9 78.3h1.2M424.3 89.8h1.2M424.1 91h1.2M423.9 91.4h1.2M425 91.7h1.2M430.7 85.9h1.2M430.6 93.4h1.2M431.9 85.3h1.2M432 79.1h1.2M431.8 84.6h1.2M431.1 89.5h1.2M430.5 89.2h1.2M430.8 83.6h1.2M430.7 91.9h1.2M431.4 92h1.2M431.9 88.3h1.2M430.4 86.8h1.2M430.6 88.8h1.2M431.7 87.1h1.2M431.1 90.1h1.2M431.6 78.8h1.2M431.5 90.3h1.2M430.3 66.9h1.2M436.3 88.1h1.2M435.9 87.2h1.2M436.2 85.9h1.2M436.5 83.9h1.2M435.1 88h1.2M436.1 87.5h1.2M436.5 89.7h1.2M436.8 91.3h1.2M436.2 81h1.2M435.7 86.7h1.2M436.6 92.6h1.2M436 87.3h1.2M435 86.3h1.2M435.8 89.2h1.2M435.5 89.2h1.2M436.2 95.2h1.2M436.4 86h1.2M436.6 72h1.2M442.6 90.9h1.2M441.4 89.8h1.2M442.4 78h1.2M442.5 83.6h1.2M442.9 89.3h1.2M442.3 86.4h1.2M442.7 84.1h1.2M442.6 90.7h1.2M442.5 81.4h1.2M442.2 85.3h1.2M442.6 86.9h1.2M442.4 91.5h1.2M441.7 84.3h1.2M441.6 82.1h1.2M442.3 92.3h1.2M443 88.1h1.2M441.7 86.7h1.2M447.4 89h1.2M446.3 80.2h1.2M447.9 89.6h1.2M447.6 90.2h1.2M446.1 90.6h1.2M447.3 87.9h1.2M446.6 87.3h1.2M446.5 85.3h1.2M446.3 83.9h1.2M447.6 88h1.2M447.7 89.3h1.2M446 92.8h1.2M446.8 90.1h1.2M446.3 84.2h1.2M446.3 91h1.2M447.9 87.5h1.2M447.3 92h1.2M454.3 88.1h1.2M454 82.5h1.2M453.4 89h1.2M452.7 81.9h1.2M454.4 78h1.2M453.7 87.4h1.2M453.7 85.8h1.2M452.8 90h1.2M454.4 86.6h1.2M453.1 91.1h1.2M453.3 85.1h1.2M453.2 86.2h1.2M454.5 87.2h1.2M452.7 86.3h1.2M454.3 79.9h1.2M453.8 88.6h1.2M453.8 86.3h1.2M457.4 83h1.2M457.6 91.6h1.2M457.9 92.9h1.2M457.9 88.3h1.2M458.5 88.7h1.2M459 89.8h1.2M457.4 88.1h1.2M457.4 93h1.2M458.8 93.2h1.2M458.6 87.8h1.2M457.9 87.1h1.2M457.8 95.8h1.2M457.3 83.8h1.2M458.2 87.5h1.2M459 92.8h1.2M457.3 82.2h1.2M457.7 87.8h1.2M464.7 84.8h1.2M463.9 86.1h1.2M464.9 84.5h1.2M464.7 88.9h1.2M464.5 91.4h1.2M464.7 81.3h1.2M465.6 83.9h1.2M465.6 82.8h1.2M464.6 88.4h1.2M463.8 85.5h1.2M464.1 91.8h1.2M464.3 96.6h1.2M464.6 87.1h1.2M464.2 75.7h1.2M464.4 84.4h1.2M463.8 85.3h1.2M464.8 88.4h1.2M470.1 84.4h1.2M469.8 75.2h1.2M468.7 85h1.2M469.2 92.3h1.2M469.3 89.2h1.2M470.3 85.1h1.2M469.1 84.1h1.2M468.5 87.7h1.2M470.2 91.4h1.2M469.8 85.1h1.2M469.8 86.1h1.2M469.9 83.6h1.2M468.5 74.1h1.2M469.4 88.1h1.2M470 88.1h1.2M469.4 89h1.2M470.2 89.2h1.2" stroke="#000" stroke-width="1.15" fill="none"/>
<path d="M33.6 19V122.22H477.3" stroke="#000" stroke-width="1.25" fill="none" stroke-linejoin="miter"/>
<path d="M28.78 122.22H33.6" stroke="#000" stroke-width="1.19"/>
<path d="M28.78 105.12H33.6" stroke="#000" stroke-width="1.19"/>
<path d="M28.78 88.02H33.6" stroke="#000" stroke-width="1.19"/>
<path d="M28.78 70.92H33.6" stroke="#000" stroke-width="1.19"/>
<path d="M28.78 53.82H33.6" stroke="#000" stroke-width="1.19"/>
<path d="M28.78 36.72H33.6" stroke="#000" stroke-width="1.19"/>
<path d="M28.78 19.62H33.6" stroke="#000" stroke-width="1.19"/>
<rect x="406.5" y="31" width="8.1" height="7.9" fill="#dbdb9b" stroke="#2c2c22" stroke-width="1"/>
<rect x="406.5" y="43.15" width="8.1" height="7.9" fill="#8f8239" stroke="#2c2c22" stroke-width="1"/>
<path d="M515.42 121.4V82.42H521.55V121.4zM530.56 121.4V82.42H536.69V121.4zM545.7 121.4V82.42H551.83V121.4zM560.84 121.4V82.42H566.97V121.4zM575.98 121.4V82.42H582.11V121.4zM591.12 121.4V82.42H597.25V121.4zM606.26 121.4V82.42H612.39V121.4zM621.4 121.4V83.61H627.53V121.4zM636.54 121.4V82.42H642.67V121.4zM651.68 121.4V82.42H657.81V121.4z" fill="#c8c083" stroke="#151208" stroke-width="0.85"/>
<path d="M521.55 121.4V88.34H527.68V121.4zM536.69 121.4V88.34H542.82V121.4zM551.83 121.4V88.34H557.96V121.4zM566.97 121.4V85.18H573.1V121.4zM582.11 121.4V84.79H588.24V121.4zM597.25 121.4V84.39H603.38V121.4zM612.39 121.4V84H618.52V121.4zM627.53 121.4V82.42H633.66V121.4zM642.67 121.4V83.21H648.8V121.4zM657.81 121.4V83.61H663.94V121.4z" fill="#8f8239" stroke="#151208" stroke-width="0.85"/>
<path d="M518.3 80.2V83.8M516.3 80.2h3.9M516.3 83.8h3.9M524.8 85.8V90M522.9 85.8h3.9M522.9 90h3.9M533.4 79.3V84.7M531.4 79.3h3.9M531.4 84.7h3.9M540 86.3V89.6M538 86.3h3.9M538 89.6h3.9M548.6 79.5V84.5M546.6 79.5h3.9M546.6 84.5h3.9M555.1 86.5V89.3M553.1 86.5h3.9M553.1 89.3h3.9M563.7 80.1V83.9M561.7 80.1h3.9M561.7 83.9h3.9M570.2 83.5V86.1M568.3 83.5h3.9M568.3 86.1h3.9M578.8 79.4V84.6M576.9 79.4h3.9M576.9 84.6h3.9M585.4 83V85.7M583.4 83h3.9M583.4 85.7h3.9M594 79.6V84.4M592 79.6h3.9M592 84.4h3.9M600.5 82.5V85.5M598.6 82.5h3.9M598.6 85.5h3.9M609.1 79.3V84.7M607.1 79.3h3.9M607.1 84.7h3.9M615.7 81.2V85.9M613.7 81.2h3.9M613.7 85.9h3.9M624.3 81.5V84.9M622.3 81.5h3.9M622.3 84.9h3.9M630.8 79.5V84.5M628.8 79.5h3.9M628.8 84.5h3.9M639.4 80V84M637.4 80h3.9M637.4 84h3.9M645.9 81.4V84.2M644 81.4h3.9M644 84.2h3.9M654.5 80.3V83.7M652.6 80.3h3.9M652.6 83.7h3.9M661.1 81.4V85M659.1 81.4h3.9M659.1 85h3.9" stroke="#000" stroke-width="0.6" fill="none"/>
<path d="M518.6 79.9h1.2M516.7 86.1h1.2M518.6 77.6h1.2M518 83.6h1.2M517.6 84h1.2M517.8 79.5h1.2M517.3 91.3h1.2M517 69.6h1.2M517.9 84.2h1.2M517 85.6h1.2M517.4 84.7h1.2M518.9 70.8h1.2M519.1 74h1.2M516.6 82.7h1.2M517.2 78.3h1.2M518.4 79.4h1.2M516.7 81.4h1.2M517.5 63.5h1.2M516.5 68.2h1.2M524.6 92.4h1.2M524 81.6h1.2M525.5 91.3h1.2M523.5 78.9h1.2M525.2 88.6h1.2M524.8 91.7h1.2M522.9 86.2h1.2M524.8 79.1h1.2M523.4 85.1h1.2M523.7 91.7h1.2M525.4 84.7h1.2M524.1 90.4h1.2M523.8 85.8h1.2M525 92.2h1.2M525.5 85.1h1.2M525.3 83.4h1.2M524.1 79.9h1.2M523.7 52.5h1.2M525.6 64.3h1.2M533.2 80.1h1.2M532.2 83.4h1.2M533 62.1h1.2M532 84.2h1.2M532.1 82.5h1.2M533.1 88.6h1.2M533.6 78.9h1.2M532.4 79.7h1.2M533.8 76.1h1.2M533.2 75.5h1.2M531.8 86.9h1.2M531.6 88.3h1.2M532.7 86.7h1.2M533.3 85.2h1.2M533.6 78.7h1.2M531.5 79.1h1.2M534 83.7h1.2M533.1 65.5h1.2M538.3 86.3h1.2M540.4 87.7h1.2M538.9 87.8h1.2M539.4 88h1.2M538.3 88.2h1.2M539.7 88.5h1.2M540.8 81.5h1.2M540.2 86.9h1.2M540.1 87.8h1.2M540.3 85.8h1.2M539.1 83.9h1.2M538.8 90.1h1.2M538 78.5h1.2M538.8 85.8h1.2M538.1 87.4h1.2M539.3 81.3h1.2M538.1 83.8h1.2M538.4 66.2h1.2M548.7 77.2h1.2M548.9 88.7h1.2M548.6 80.6h1.2M549.3 89.1h1.2M548.8 70.3h1.2M547.4 81.1h1.2M547.4 80.3h1.2M548.6 87.3h1.2M546.7 88.3h1.2M548.3 82.3h1.2M546.8 81.9h1.2M546.7 80.7h1.2M548 86.1h1.2M546.9 86.9h1.2M549.2 80.9h1.2M549 76.6h1.2M547.8 80.2h1.2M555 86.5h1.2M555.5 90.1h1.2M555 92.9h1.2M554 87.2h1.2M554.6 86.3h1.2M553.5 92.5h1.2M555.1 87.6h1.2M555.1 90.9h1.2M555.2 80.4h1.2M553.2 95.6h1.2M555.7 89.8h1.2M555 85.8h1.2M554.6 84.2h1.2M555.1 75.9h1.2M554 85.4h1.2M555.4 90.9h1.2M554.8 86.3h1.2M561.7 78.4h1.2M562.3 68.4h1.2M562.6 89.5h1.2M563.9 67.5h1.2M562.4 76.1h1.2M561.8 70.5h1.2M561.8 81.3h1.2M564.5 78h1.2M562.3 85.9h1.2M562.6 80.1h1.2M564.2 77.3h1.2M564.4 85.4h1.2M562.5 76.4h1.2M563.4 81.1h1.2M562.8 85.6h1.2M562.5 71.8h1.2M564.4 82.8h1.2M568.5 86.8h1.2M569.1 82.3h1.2M568.3 88h1.2M570.5 84.5h1.2M568.9 93.8h1.2M568.4 91.9h1.2M568.4 79h1.2M570.3 88.2h1.2M568.8 85.3h1.2M569.5 81.9h1.2M569.4 86.8h1.2M570.5 77.8h1.2M571 89.4h1.2M569.1 76.3h1.2M570 87.3h1.2M570.8 85.3h1.2M569.6 87.1h1.2M578.3 82.4h1.2M579.6 84.5h1.2M578.2 84.7h1.2M579 81.5h1.2M576.8 80.5h1.2M579.3 78.5h1.2M578.5 85.3h1.2M577.9 81.1h1.2M579.2 83.7h1.2M579.4 80.8h1.2M577.3 72.3h1.2M576.8 79h1.2M578.7 88.5h1.2M579.3 65.6h1.2M577.1 86.8h1.2M578.4 72.8h1.2M576.9 87.9h1.2M585.5 76.5h1.2M585.4 92.8h1.2M585.4 85h1.2M584.1 81.7h1.2M585.8 82h1.2M586 76.3h1.2M583.5 77.2h1.2M586.1 88.5h1.2M584.6 79.9h1.2M583.6 84.1h1.2M583.5 84h1.2M585.6 84.4h1.2M585.3 88.3h1.2M583.8 86.8h1.2M584.7 84.6h1.2M585.2 77.2h1.2M586.2 85h1.2M584.3 67.8h1.2M593.1 78.7h1.2M592.4 82.1h1.2M594.4 85.6h1.2M593.6 84.5h1.2M592 84.2h1.2M594.4 80.9h1.2M594 83.7h1.2M593 82.1h1.2M593.7 80.8h1.2M594.6 91h1.2M593.1 85.8h1.2M593.2 81.5h1.2M592.8 81.6h1.2M593.5 74.2h1.2M593.8 84.1h1.2M594.1 77.7h1.2M594.7 87.2h1.2M598.9 76.2h1.2M600.5 81.4h1.2M598.5 89h1.2M599 82.9h1.2M598.7 87.8h1.2M600.8 84.5h1.2M598.9 82.6h1.2M599.1 81.7h1.2M598.6 89.4h1.2M599.2 85.1h1.2M600.6 84.1h1.2M600.6 79.5h1.2M601.1 80.9h1.2M601.2 85.7h1.2M600.1 79.6h1.2M601.1 84.3h1.2M598.7 76.9h1.2M609.4 80.8h1.2M608.9 83.8h1.2M609 90.5h1.2M608.4 79h1.2M608.9 80.8h1.2M609.7 82.1h1.2M609.3 81.3h1.2M608.7 81.3h1.2M609.6 83.3h1.2M607.1 81.5h1.2M608.3 88.8h1.2M607.1 93.9h1.2M608.9 79h1.2M609 83.1h1.2M608.5 82.1h1.2M607.5 79.9h1.2M607.2 77h1.2M616.3 75h1.2M615.8 80.1h1.2M614.1 81.2h1.2M615.8 82.1h1.2M615.3 86.8h1.2M616.2 84.6h1.2M615.3 90.4h1.2M614.9 85.2h1.2M616.3 78h1.2M613.9 81.6h1.2M615.9 87.8h1.2M613.9 87.4h1.2M614.4 73.5h1.2M614 76.8h1.2M616.1 69.1h1.2M614.9 70.8h1.2M615.7 97.4h1.2M624.8 85.1h1.2M622.3 85.8h1.2M623.6 81.2h1.2M623.6 73.8h1.2M624.3 81.2h1.2M624.3 73.6h1.2M623.2 93h1.2M624.9 78.9h1.2M622.7 80.9h1.2M622.6 83.5h1.2M624.6 62.4h1.2M622.6 78.7h1.2M622.7 86.7h1.2M623.7 86.2h1.2M623.2 82.6h1.2M622.7 84.9h1.2M624.9 78.4h1.2M623.6 64.3h1.2M629 75.3h1.2M630.2 78.2h1.2M631.6 84.2h1.2M629.7 84.3h1.2M629.8 88.4h1.2M629 73.2h1.2M629.9 73.4h1.2M629.1 82.1h1.2M631.6 87.2h1.2M630.2 72.2h1.2M629.6 93.7h1.2M629.7 84.1h1.2M630.4 82.4h1.2M629.3 66.4h1.2M631 91.6h1.2M629.7 87.6h1.2M630.1 81.8h1.2M631.5 61.5h1.2M638.8 93.5h1.2M638.4 87.3h1.2M639.4 70.1h1.2M638.9 83.9h1.2M637.9 80.5h1.2M639 78.2h1.2M640.2 83.5h1.2M640 90.8h1.2M638 81.7h1.2M638 81h1.2M637.7 85.1h1.2M639 85.5h1.2M639.5 84.9h1.2M640.1 85.7h1.2M639.3 75.4h1.2M638.5 80h1.2M640.2 73.9h1.2M646 89.3h1.2M644.6 80h1.2M644.3 90h1.2M646.6 89.5h1.2M643.9 79.7h1.2M646.5 78.8h1.2M644.9 83.2h1.2M646.1 85.5h1.2M646.3 79.7h1.2M645.6 77.5h1.2M645.1 84.8h1.2M645.3 81.4h1.2M644 81.5h1.2M646.7 84.8h1.2M646.8 79.4h1.2M644 90.1h1.2M646.8 81h1.2M653 83.4h1.2M653.7 83h1.2M653.2 77h1.2M653.1 80.8h1.2M653.2 85.6h1.2M653.8 86.8h1.2M653.2 88h1.2M653.8 82.8h1.2M654.5 79.7h1.2M654.4 79.3h1.2M652.8 71.6h1.2M653.7 86.2h1.2M654 77.2h1.2M653.3 82.5h1.2M653.5 82.2h1.2M653.2 81.2h1.2M654.4 86.3h1.2M659.7 83.8h1.2M661.8 93.9h1.2M659.8 80.5h1.2M659.5 81.9h1.2M661.4 82.4h1.2M660.2 80.7h1.2M661.4 84.8h1.2M659.5 80h1.2M660.3 71.1h1.2M659.6 87.5h1.2M659.4 62h1.2M660.6 79.9h1.2M660.3 79.2h1.2M659.7 84.3h1.2M661.7 86.4h1.2M660.9 81.3h1.2M659.8 81.6h1.2" stroke="#000" stroke-width="1.15" fill="none"/>
<path d="M512.6 42.6V121.9H667.8" stroke="#000" stroke-width="1" fill="none" stroke-linejoin="miter"/>
<path d="M509.1 121.9H512.6" stroke="#000" stroke-width="0.95"/>
<path d="M509.1 102.2H512.6" stroke="#000" stroke-width="0.95"/>
<path d="M509.1 82.5H512.6" stroke="#000" stroke-width="0.95"/>
<path d="M509.1 62.8H512.6" stroke="#000" stroke-width="0.95"/>
<path d="M509.1 43.1H512.6" stroke="#000" stroke-width="0.95"/>
<rect x="604.4" y="30.1" width="8.1" height="7.9" fill="#dbdb9b" stroke="#2c2c22" stroke-width="1"/>
<rect x="604.4" y="42.25" width="8.1" height="7.9" fill="#8f8239" stroke="#2c2c22" stroke-width="1"/>
<path d="M27.53 266.9V254.17H32.65V266.9zM40.39 266.9V254.17H45.52V266.9zM53.27 266.9V255.23H58.39V266.9zM66.14 266.9V254.17H71.26V266.9zM79 266.9V254.17H84.13V266.9zM91.87 266.9V252.86H97V266.9z" fill="#c8c083" stroke="#151208" stroke-width="0.85"/>
<path d="M32.65 266.9V259.17H37.78V266.9zM45.52 266.9V254.83H50.65V266.9zM58.39 266.9V256.81H63.52V266.9zM71.26 266.9V254.83H76.39V266.9zM84.13 266.9V255.49H89.25V266.9zM97 266.9V255.49H102.12V266.9z" fill="#8f8239" stroke="#151208" stroke-width="0.85"/>
<path d="M29.9 253V254.5M28.2 253h3.3M28.2 254.5h3.3M35.4 258.3V259.2M33.8 258.3h3.3M33.8 259.2h3.3M42.7 253V254.5M41.1 253h3.3M41.1 254.5h3.3M48.3 253.7V255.1M46.6 253.7h3.3M46.6 255.1h3.3M55.6 253.9V255.7M54 253.9h3.3M54 255.7h3.3M61.2 255.6V257.2M59.5 255.6h3.3M59.5 257.2h3.3M68.5 253.1V254.4M66.8 253.1h3.3M66.8 254.4h3.3M74 253.5V255.4M72.4 253.5h3.3M72.4 255.4h3.3M81.4 252.5V255M79.7 252.5h3.3M79.7 255h3.3M86.9 254.4V255.8M85.2 254.4h3.3M85.2 255.8h3.3M94.2 251.2V253.7M92.6 251.2h3.3M92.6 253.7h3.3M99.8 254.4V255.7M98.1 254.4h3.3M98.1 255.7h3.3" stroke="#000" stroke-width="0.6" fill="none"/>
<path d="M29.4 251.4h1.2M28.7 252.9h1.2M29.9 253.4h1.2M29.8 254.6h1.2M30 250.7h1.2M29.3 257.9h1.2M28.7 254.3h1.2M30.3 251.8h1.2M29.3 255.4h1.2M29 251.8h1.2M28.8 254.5h1.2M29 254.3h1.2M29.8 257.6h1.2M30.1 253h1.2M29.2 186.7h1.2M29.8 223.5h1.2M33.7 256.1h1.2M33.9 261.1h1.2M34.4 257.2h1.2M34.6 258.1h1.2M35.9 257.2h1.2M34.3 258.9h1.2M34 259.2h1.2M34 259.3h1.2M35.2 259h1.2M35.3 258.4h1.2M34.5 259.5h1.2M33.8 257.4h1.2M35.3 257.4h1.2M34.2 257.8h1.2M33.7 234h1.2M41.5 254.5h1.2M42.4 252.9h1.2M42.3 252.9h1.2M41.7 251.7h1.2M41 250.5h1.2M41.7 253.9h1.2M42.5 252.5h1.2M42.4 255.7h1.2M42.2 255.8h1.2M41.2 250.7h1.2M41.4 250.2h1.2M41.7 253.3h1.2M41.9 249.5h1.2M41.8 251.7h1.2M43.1 239.3h1.2M47.6 254h1.2M47 249.8h1.2M46.5 256.5h1.2M46.7 255h1.2M46.7 255h1.2M47.4 246.7h1.2M47.5 253.2h1.2M47.7 254.5h1.2M47.2 253.7h1.2M48.2 248.5h1.2M47.7 248.7h1.2M48.9 247h1.2M46.9 245.6h1.2M47.7 256.4h1.2M55.4 255.6h1.2M54.9 252.2h1.2M54.8 256.6h1.2M54.4 252.8h1.2M55.7 254.5h1.2M54.9 258h1.2M55.8 256.9h1.2M54.7 247.5h1.2M55.6 256.4h1.2M53.9 249.3h1.2M54.3 258.4h1.2M56.1 251h1.2M55.5 255.7h1.2M55.4 254.1h1.2M55 204.4h1.2M60.7 257h1.2M59.7 256.5h1.2M59.5 256.5h1.2M61.6 253.7h1.2M59.5 258.1h1.2M60.9 259.7h1.2M60.8 256.9h1.2M61 257.9h1.2M60.6 256.6h1.2M59.7 254.9h1.2M61.3 257.6h1.2M59.5 259.3h1.2M61.6 256.3h1.2M61.7 258.8h1.2M67.4 257h1.2M69 250.9h1.2M68.3 252.8h1.2M67.8 255.2h1.2M68.1 252.9h1.2M68.8 252.8h1.2M67.6 254.2h1.2M68 254.5h1.2M67.6 254.9h1.2M68.6 254.7h1.2M68.7 251.3h1.2M69 253.9h1.2M67.2 252.9h1.2M67.3 256.6h1.2M69 239.3h1.2M72.9 255.1h1.2M73.1 256.2h1.2M72.5 253.8h1.2M72.9 245.6h1.2M73.7 257.9h1.2M74.3 254.5h1.2M73 255.7h1.2M74.2 253.1h1.2M74.3 250.6h1.2M73 248.3h1.2M74.2 256.5h1.2M72.6 254h1.2M73.6 256.4h1.2M73.6 252.4h1.2M80.6 254.8h1.2M81.7 244.4h1.2M81.1 258h1.2M79.8 251.4h1.2M80.6 253h1.2M81.6 254.7h1.2M81.9 254.9h1.2M81.1 247.9h1.2M81 254h1.2M81.8 252.8h1.2M80 256.1h1.2M80.4 253h1.2M79.8 253.4h1.2M81.5 254.1h1.2M81.9 239.9h1.2M87 253h1.2M87.5 253.8h1.2M85.6 253.7h1.2M85.2 256.9h1.2M86.9 255.1h1.2M86.1 253.9h1.2M87.4 255.1h1.2M86 254.3h1.2M85.8 253.3h1.2M85.3 255.7h1.2M87.4 253.1h1.2M86.3 254.5h1.2M86.2 255.3h1.2M86.2 253.6h1.2M92.8 253.6h1.2M93.4 242.6h1.2M92.4 253.9h1.2M93.1 256.2h1.2M93.3 249.4h1.2M94.2 252.5h1.2M93.7 253.6h1.2M93 258.6h1.2M92.6 250.3h1.2M92.5 252.2h1.2M92.6 253.6h1.2M92.5 252.1h1.2M93.1 253.9h1.2M94.3 255.6h1.2M94.1 228.8h1.2M92.8 245.9h1.2M98.3 254h1.2M98.9 255.1h1.2M99.4 256.9h1.2M98.8 257.8h1.2M99.4 254h1.2M98.4 252.3h1.2M98.3 257.4h1.2M98.6 253.6h1.2M100 251.8h1.2M98.3 255.6h1.2M98 258.6h1.2M98.2 255.2h1.2M99.5 255.6h1.2M99.6 256.2h1.2M99.9 245.9h1.2" stroke="#000" stroke-width="1.15" fill="none"/>
<path d="M24.7 185.37V267.4H104.4" stroke="#000" stroke-width="1" fill="none" stroke-linejoin="miter"/>
<path d="M21.6 267.4H24.7" stroke="#000" stroke-width="0.95"/>
<path d="M21.6 241.1H24.7" stroke="#000" stroke-width="0.95"/>
<path d="M21.6 214.8H24.7" stroke="#000" stroke-width="0.95"/>
<path d="M21.6 188.5H24.7" stroke="#000" stroke-width="0.95"/>
<path d="M125.02 267.3V226.86H129.55V267.3zM136.58 267.3V227.62H141.1V267.3zM148.12 267.3V227.1H152.65V267.3zM159.68 267.3V228.16H164.2V267.3zM171.23 267.3V227.04H175.75V267.3zM182.78 267.3V227.68H187.3V267.3zM194.33 267.3V227.52H198.85V267.3zM205.88 267.3V227.01H210.4V267.3zM217.43 267.3V227.03H221.95V267.3zM228.98 267.3V227.74H233.5V267.3zM240.53 267.3V227.05H245.05V267.3zM252.08 267.3V230.34H256.6V267.3zM263.63 267.3V228.29H268.15V267.3zM275.18 267.3V227.52H279.7V267.3zM286.73 267.3V227.3H291.25V267.3zM298.28 267.3V227.02H302.8V267.3zM309.82 267.3V227.44H314.35V267.3zM321.38 267.3V227.36H325.9V267.3zM332.93 267.3V228.22H337.45V267.3zM344.48 267.3V227.86H349V267.3zM356.03 267.3V226.77H360.55V267.3zM367.57 267.3V227.62H372.1V267.3zM379.13 267.3V227.39H383.65V267.3z" fill="#c8c083" stroke="#151208" stroke-width="0.85"/>
<path d="M129.55 267.3V232H134.07V267.3zM141.1 267.3V230.11H145.62V267.3zM152.65 267.3V230.92H157.17V267.3zM164.2 267.3V229.79H168.72V267.3zM175.75 267.3V230.72H180.28V267.3zM187.3 267.3V230.34H191.82V267.3zM198.85 267.3V232.35H203.38V267.3zM210.4 267.3V231.55H214.92V267.3zM221.95 267.3V231.39H226.47V267.3zM233.5 267.3V230.54H238.03V267.3zM245.05 267.3V230.12H249.57V267.3zM256.6 267.3V227.53H261.12V267.3zM268.15 267.3V229.33H272.68V267.3zM279.7 267.3V229.2H284.22V267.3zM291.25 267.3V229.58H295.77V267.3zM302.8 267.3V230.46H307.32V267.3zM314.35 267.3V229.71H318.87V267.3zM325.9 267.3V230.98H330.43V267.3zM337.45 267.3V229.87H341.97V267.3zM349 267.3V230.13H353.52V267.3zM360.55 267.3V229.53H365.07V267.3zM372.1 267.3V229.26H376.62V267.3zM383.65 267.3V229.51H388.18V267.3z" fill="#8f8239" stroke="#151208" stroke-width="0.85"/>
<path d="M127.1 225.1V227.8M125.6 225.1h3M125.6 227.8h3M132 229.8V233.4M130.5 229.8h3M130.5 233.4h3M138.6 224.9V229.5M137.1 224.9h3M137.1 229.5h3M143.6 228.5V230.8M142.1 228.5h3M142.1 230.8h3M150.2 224.3V229.1M148.7 224.3h3M148.7 229.1h3M155.1 229.4V231.6M153.6 229.4h3M153.6 231.6h3M161.7 226.3V229.2M160.2 226.3h3M160.2 229.2h3M166.7 228.1V230.6M165.2 228.1h3M165.2 230.6h3M173.3 225.1V228.1M171.8 225.1h3M171.8 228.1h3M178.2 228.5V232.1M176.7 228.5h3M176.7 232.1h3M184.8 225.4V229.1M183.3 225.4h3M183.3 229.1h3M189.8 227.9V232M188.3 227.9h3M188.3 232h3M196.4 225.8V228.4M194.9 225.8h3M194.9 228.4h3M201.3 229.8V234M199.8 229.8h3M199.8 234h3M207.9 225.1V228M206.4 225.1h3M206.4 228h3M212.9 229.4V232.8M211.4 229.4h3M211.4 232.8h3M219.5 225.4V227.8M218 225.4h3M218 227.8h3M224.4 229.2V232.8M222.9 229.2h3M222.9 232.8h3M231 226V228.6M229.5 226h3M229.5 228.6h3M236 228.1V232.1M234.5 228.1h3M234.5 232.1h3M242.6 224.7V228.5M241.1 224.7h3M241.1 228.5h3M247.5 227.9V231.5M246 227.9h3M246 231.5h3M254.1 228.6V231.2M252.6 228.6h3M252.6 231.2h3M259.1 225.8V228.4M257.6 225.8h3M257.6 228.4h3M265.7 225.5V230.2M264.2 225.5h3M264.2 230.2h3M270.6 227.1V230.7M269.1 227.1h3M269.1 230.7h3M277.2 225.1V229.1M275.7 225.1h3M275.7 229.1h3M282.2 226.7V230.9M280.7 226.7h3M280.7 230.9h3M288.8 224.8V229M287.3 224.8h3M287.3 229h3M293.7 227.8V230.5M292.2 227.8h3M292.2 230.5h3M300.3 224.7V228.5M298.8 224.7h3M298.8 228.5h3M305.3 227.9V232.2M303.8 227.9h3M303.8 232.2h3M311.9 225.2V228.8M310.4 225.2h3M310.4 228.8h3M316.8 227.7V230.9M315.3 227.7h3M315.3 230.9h3M323.4 225.7V228.2M321.9 225.7h3M321.9 228.2h3M328.4 229.4V231.7M326.9 229.4h3M326.9 231.7h3M335 226V229.6M333.5 226h3M333.5 229.6h3M339.9 227.3V231.6M338.4 227.3h3M338.4 231.6h3M346.5 226.2V228.7M345 226.2h3M345 228.7h3M351.5 227.5V231.9M350 227.5h3M350 231.9h3M358.1 224.9V227.8M356.6 224.9h3M356.6 227.8h3M363 227V231.2M361.5 227h3M361.5 231.2h3M369.6 225.1V229.3M368.1 225.1h3M368.1 229.3h3M374.6 227V230.6M373.1 227h3M373.1 230.6h3M381.2 225V228.9M379.7 225h3M379.7 228.9h3M386.1 227.1V231.1M384.6 227.1h3M384.6 231.1h3" stroke="#000" stroke-width="0.6" fill="none"/>
<path d="M126.5 229.8h1.2M126.3 221.8h1.2M127.3 227.4h1.2M127.5 232.5h1.2M126.2 232h1.2M126.9 229.3h1.2M125.8 221.2h1.2M126.8 227.5h1.2M126.6 220.4h1.2M127.5 226.5h1.2M126 226.6h1.2M126.8 217.1h1.2M126.3 230.8h1.2M126.2 238.8h1.2M126.2 221.6h1.2M125.7 218.9h1.2M126.5 225h1.2M126.1 203h1.2M126.6 207h1.2M125.5 209h1.2M125.6 211.8h1.2M130.4 228.6h1.2M132.2 227.9h1.2M131.2 239.1h1.2M130.3 236.4h1.2M132.4 230.9h1.2M130.8 228.6h1.2M130.9 235.6h1.2M130.4 230h1.2M130.6 227.7h1.2M131.9 233h1.2M131.6 230.2h1.2M131.4 232.1h1.2M130.9 234.7h1.2M131 232.8h1.2M132.4 226.8h1.2M131.1 230.1h1.2M132.5 232.9h1.2M137.2 226.9h1.2M138.6 235.2h1.2M138.4 226.3h1.2M138.5 230.6h1.2M137.4 228.9h1.2M137.4 226h1.2M138.4 235.8h1.2M137.3 233.6h1.2M137.7 220.8h1.2M138.5 226.4h1.2M138 229h1.2M137 219.3h1.2M138.8 217.8h1.2M138.7 231.4h1.2M137.1 236.9h1.2M137.9 225h1.2M137.1 227.8h1.2M143.2 233.2h1.2M141.9 232.3h1.2M142.7 229.7h1.2M142.5 228.8h1.2M143.2 234.1h1.2M142 231.6h1.2M143.1 222.1h1.2M142.7 231.3h1.2M143 234.1h1.2M142.8 235.2h1.2M142.1 236.5h1.2M143.5 230h1.2M143.6 229.4h1.2M143.2 226.9h1.2M142.1 238.4h1.2M143.2 215.9h1.2M143.8 232.1h1.2M149 214.6h1.2M150 223.4h1.2M149.6 224.2h1.2M149.8 233.4h1.2M149.2 231.1h1.2M149.8 229h1.2M150.6 228.1h1.2M150.2 218.5h1.2M150.6 231h1.2M149 223.1h1.2M149.6 231.3h1.2M149.3 221.4h1.2M149.2 225.8h1.2M150.2 227h1.2M148.9 226.5h1.2M149.7 229.5h1.2M150.2 226.3h1.2M150.5 215h1.2M154.8 225.4h1.2M155.2 227.4h1.2M155.6 230.1h1.2M154.1 225.4h1.2M155.3 233.3h1.2M155.4 231.8h1.2M154.1 228.6h1.2M154.9 231.8h1.2M154.9 230.7h1.2M155.3 233.8h1.2M154.7 230.5h1.2M154 228.9h1.2M154 232.3h1.2M154.6 229.5h1.2M153.7 231.4h1.2M155.3 229.3h1.2M155.4 232.8h1.2M160.8 228.3h1.2M161 230h1.2M160.8 228.1h1.2M161.9 225.4h1.2M161.9 224.8h1.2M160.2 234.8h1.2M160.9 225.7h1.2M160.7 225.6h1.2M160.3 225.3h1.2M161 222h1.2M161 225.7h1.2M160.4 229.8h1.2M161.9 228.9h1.2M161.8 227.1h1.2M160.7 222.4h1.2M161.4 225.1h1.2M160.2 231.1h1.2M166.5 230.6h1.2M166.7 226h1.2M165.6 232.2h1.2M166.2 222.9h1.2M166.1 226.7h1.2M166.9 229.1h1.2M166.9 228.7h1.2M165.9 231.1h1.2M165 228.5h1.2M167.2 232.2h1.2M166.6 231.9h1.2M166.5 233.4h1.2M166.5 219.9h1.2M165.2 235.6h1.2M166.4 232.5h1.2M167.1 235.3h1.2M165.7 238.1h1.2M173.3 235.5h1.2M172.5 232.7h1.2M172.8 228.7h1.2M172.7 225.7h1.2M171.7 233.1h1.2M171.7 227.7h1.2M173 231.1h1.2M173.1 230.7h1.2M172.4 221.5h1.2M173.6 229.9h1.2M173.4 226.6h1.2M172.2 220.2h1.2M171.7 218h1.2M172.8 225.5h1.2M173 226.3h1.2M172.1 228.3h1.2M171.7 225.2h1.2M172.6 202.2h1.2M171.7 207h1.2M173.2 211h1.2M177.2 232.5h1.2M178.1 233.5h1.2M177.3 229.4h1.2M178.2 225.2h1.2M177.8 218.3h1.2M178.3 230.1h1.2M178.7 233.5h1.2M177.4 228h1.2M178.7 215.7h1.2M176.6 231.3h1.2M178.4 232h1.2M176.6 228.8h1.2M177.7 225.8h1.2M177.4 234.3h1.2M178.2 226.8h1.2M177.2 236.1h1.2M177 230.3h1.2M178.2 205h1.2M183.7 228.3h1.2M185.1 227.2h1.2M185.2 227.4h1.2M183.8 227.2h1.2M184.8 231.5h1.2M184.7 236h1.2M184.4 228.2h1.2M183.7 222.6h1.2M185.2 223.2h1.2M185.2 227.4h1.2M183.2 228.8h1.2M183.9 218.2h1.2M183.8 224.2h1.2M183.6 223.7h1.2M184.1 227.2h1.2M185.1 228.6h1.2M183.2 227.3h1.2M188.6 223.5h1.2M188.6 217.7h1.2M188.6 229h1.2M188.5 229.5h1.2M189.2 227.4h1.2M188.4 227.6h1.2M189.6 227.7h1.2M189.2 232h1.2M190 232.4h1.2M188.9 237.4h1.2M188.2 230.5h1.2M189.5 235.5h1.2M188.6 226.5h1.2M189.2 233h1.2M189.1 229.4h1.2M188.2 226h1.2M188.8 231.9h1.2M196.3 224.8h1.2M194.8 225.6h1.2M196.7 228.4h1.2M195.5 227.5h1.2M196.4 228.7h1.2M195.7 219.9h1.2M196.5 219.7h1.2M195.3 223.2h1.2M195.9 223.5h1.2M194.7 228.7h1.2M195.8 224.4h1.2M194.9 224.1h1.2M196.6 225.4h1.2M196.2 230.9h1.2M195.6 224.6h1.2M196.8 227.7h1.2M196.7 229.2h1.2M200.5 233.9h1.2M199.9 232.2h1.2M201.3 232.6h1.2M200 222.8h1.2M201.3 234.3h1.2M200.5 227.5h1.2M201.5 234.3h1.2M200.7 232.2h1.2M201.7 228h1.2M200.2 231.9h1.2M199.8 230.8h1.2M199.9 235h1.2M201.7 231.8h1.2M200.4 233.7h1.2M199.8 231.6h1.2M201.5 219.1h1.2M200.8 233.1h1.2M207.7 225.5h1.2M207.5 225.3h1.2M207.3 226.4h1.2M207.9 225.4h1.2M207.5 224.2h1.2M206.5 224.1h1.2M207.2 230h1.2M207.2 220.1h1.2M207.2 231.2h1.2M207.5 229.6h1.2M207 221.5h1.2M207.1 225.3h1.2M207.2 223.8h1.2M207 226.9h1.2M208.4 217h1.2M206.4 220.9h1.2M206.3 221.3h1.2M207.8 193.7h1.2M207.1 195.7h1.2M207.2 203h1.2M212.1 234.3h1.2M212.3 231.1h1.2M212.8 230.7h1.2M213.4 225.9h1.2M212.5 233.4h1.2M212.1 229.8h1.2M211.7 234h1.2M213.1 233.9h1.2M211.4 230.5h1.2M212.5 226h1.2M213 225.3h1.2M212.8 227.4h1.2M212.3 231.8h1.2M213.3 231.5h1.2M212.8 237.1h1.2M211.3 227.2h1.2M213.1 226h1.2M218.6 232.5h1.2M217.9 222.4h1.2M219.6 228.6h1.2M219.2 225.5h1.2M218.2 223.3h1.2M219.8 230.1h1.2M218.5 226.8h1.2M218.2 218.8h1.2M219.9 225.8h1.2M219.6 229.6h1.2M218.1 224.4h1.2M219.8 221.1h1.2M220 223.3h1.2M219.6 223.8h1.2M218.9 231.5h1.2M219.1 218.9h1.2M218.1 222.5h1.2M224.9 231.3h1.2M224.4 232.6h1.2M223.6 235.7h1.2M224.4 230h1.2M224.4 231.2h1.2M223.9 234.8h1.2M224.3 231.9h1.2M224.4 226.9h1.2M224.8 234.2h1.2M224.6 231.4h1.2M224.1 231.4h1.2M224.3 229.7h1.2M223.4 237.6h1.2M223.3 230.5h1.2M224.1 214.5h1.2M223.2 210h1.2M224.4 226.9h1.2M229.7 229.8h1.2M230.8 223.7h1.2M230 223.5h1.2M229.6 228.5h1.2M229.7 222.4h1.2M230.2 222.7h1.2M229.6 223.5h1.2M230.2 226.1h1.2M230.5 232.7h1.2M230.5 230.7h1.2M230.2 219.7h1.2M231.1 226.1h1.2M229.5 226.7h1.2M230.1 227.8h1.2M231.4 225h1.2M231.2 225.8h1.2M231.3 226.2h1.2M235.8 232.3h1.2M235.1 232.2h1.2M235.5 231.9h1.2M235.6 229.5h1.2M235.3 230.4h1.2M234.6 227.8h1.2M234.4 214.1h1.2M236.2 231.2h1.2M235.7 227.5h1.2M235.8 231.5h1.2M235.7 227.7h1.2M235.2 239.7h1.2M234.4 227.9h1.2M236.3 232.6h1.2M234.9 224.4h1.2M236.3 232.1h1.2M234.7 221.6h1.2M236.3 196.1h1.2M242 225h1.2M243 227.5h1.2M240.9 233.8h1.2M242.8 229.9h1.2M242.4 226.1h1.2M242 226.4h1.2M242.7 232h1.2M241.2 220.6h1.2M241.6 221.7h1.2M242.4 236.1h1.2M242.7 226.4h1.2M241.7 227h1.2M243.1 229.4h1.2M242.3 214.7h1.2M241 229.8h1.2M241.2 214.4h1.2M241.1 232.6h1.2M247.1 233h1.2M246.5 230h1.2M247.4 227.2h1.2M247.3 218.1h1.2M247.4 235.7h1.2M246.9 235.3h1.2M246.8 231.2h1.2M246.5 229h1.2M245.9 230.5h1.2M246.9 231.1h1.2M247.2 233.8h1.2M246.2 229.2h1.2M247.7 228.1h1.2M247.8 230h1.2M247.7 227.5h1.2M247.6 221.2h1.2M246.9 234.7h1.2M253.7 234.3h1.2M253.2 227.6h1.2M253.7 225h1.2M254.5 229.7h1.2M254.5 232.3h1.2M254.3 231.3h1.2M253 226h1.2M254.2 232.2h1.2M252.5 225.5h1.2M253.3 224.3h1.2M254.5 238.6h1.2M253 231.4h1.2M253.2 228.3h1.2M253.7 229.9h1.2M253 226.1h1.2M254 230.4h1.2M253.9 228.2h1.2M258.3 228.5h1.2M257.4 228.9h1.2M257.6 227.5h1.2M258.9 220.5h1.2M257.7 229.9h1.2M257.9 221.8h1.2M259.1 238.6h1.2M259.3 217.6h1.2M259.3 228.1h1.2M257.8 233.1h1.2M257.4 230.4h1.2M259 226.8h1.2M258.7 227.5h1.2M258.2 224.9h1.2M257.4 235.6h1.2M258.3 232.9h1.2M257.9 221.1h1.2M258.7 199h1.2M265.9 222.6h1.2M265.1 230h1.2M266 227.7h1.2M264.6 226.8h1.2M264.2 240.7h1.2M265.3 222.6h1.2M265.9 231.5h1.2M264.3 227.2h1.2M264.8 226.6h1.2M265.3 226.8h1.2M265.8 234.4h1.2M264.5 228.9h1.2M265 229.6h1.2M265.8 230.9h1.2M265.9 230.8h1.2M265.1 234.5h1.2M265.1 230.4h1.2M271 227.5h1.2M270.6 227.9h1.2M270.8 218.1h1.2M269.1 227.9h1.2M270.4 228.1h1.2M269 237.8h1.2M270.5 238.4h1.2M271 231.3h1.2M269 223.7h1.2M271 224.2h1.2M271.1 228.1h1.2M270.8 228.8h1.2M270.6 233.3h1.2M269.7 232h1.2M270.8 223h1.2M269 228.8h1.2M270.3 229.2h1.2M277 225.9h1.2M277.6 225.7h1.2M276.8 234.5h1.2M275.9 231.8h1.2M276.7 228.3h1.2M276.9 221.8h1.2M276.9 227h1.2M275.6 229.6h1.2M275.9 231.5h1.2M276 229.1h1.2M275.9 226.8h1.2M277.7 228.3h1.2M276.4 214.7h1.2M277.4 222.8h1.2M276.3 224.9h1.2M277 229.1h1.2M276.6 228.2h1.2M281.9 232.7h1.2M281.2 236.5h1.2M281.5 229.9h1.2M282.7 226.8h1.2M281.5 224.7h1.2M282.6 224h1.2M281.5 227.2h1.2M282.4 232.6h1.2M281 227.1h1.2M281 227.1h1.2M281.1 227.6h1.2M282.5 217.6h1.2M281.9 227.7h1.2M281.7 226.9h1.2M282.2 228.3h1.2M281.7 232.6h1.2M281.9 226.9h1.2M288.3 214.4h1.2M287.3 221.1h1.2M287.8 226.1h1.2M288.4 224.1h1.2M288.6 229.5h1.2M288.5 225.8h1.2M288.4 230.8h1.2M287.9 233.3h1.2M287.2 227.4h1.2M287.1 223.3h1.2M288.9 228.9h1.2M289 227.1h1.2M289.1 227.5h1.2M287.3 229.1h1.2M288.8 233.4h1.2M287.5 236.3h1.2M287.8 223.4h1.2M292.1 223.5h1.2M292.2 225.4h1.2M293.3 229.8h1.2M293.3 228.5h1.2M292.2 226.9h1.2M293.7 228h1.2M292.6 231.3h1.2M293.3 224.5h1.2M293.2 224.5h1.2M292.8 237.2h1.2M294.1 228.8h1.2M292.9 227.7h1.2M293 222.8h1.2M293.2 230.6h1.2M293.9 231h1.2M294.2 220.6h1.2M293.7 227h1.2M300.7 222.3h1.2M299.7 227.8h1.2M299.2 230.2h1.2M299.4 228.3h1.2M300 225.6h1.2M299.6 228.3h1.2M300 225h1.2M298.8 231.7h1.2M299.4 201.1h1.2M299 227.9h1.2M300.3 227.3h1.2M299.3 228.5h1.2M299.5 233.7h1.2M300 226.6h1.2M300.4 228.4h1.2M299 223.8h1.2M300.7 224.6h1.2M304.7 232.5h1.2M305.1 231.6h1.2M304.1 227h1.2M303.7 231.9h1.2M305.3 233.6h1.2M303.8 232.8h1.2M304.7 235h1.2M304.1 228.4h1.2M303.8 233.1h1.2M305.5 232.9h1.2M304.4 217.6h1.2M305.4 231.2h1.2M305.6 221.7h1.2M303.9 231h1.2M305.4 227.4h1.2M305.1 236.4h1.2M304 227.5h1.2M311.8 226.5h1.2M312.2 225.1h1.2M310.5 230h1.2M311.3 223.1h1.2M312.3 217.6h1.2M312.1 231.4h1.2M311.2 224.7h1.2M310.4 228.7h1.2M311.2 232.9h1.2M311.3 235.9h1.2M311.9 229.1h1.2M310.6 226.5h1.2M310.8 229.6h1.2M312.3 221.2h1.2M310.2 225h1.2M311.5 227.3h1.2M310.4 230.7h1.2M311.8 207h1.2M315.4 228.4h1.2M315.6 229.4h1.2M315.4 231h1.2M316.5 230.7h1.2M316.5 220h1.2M317 222.4h1.2M315.2 225.9h1.2M315.2 232.8h1.2M317.3 227.9h1.2M315.7 227.5h1.2M315.7 232.2h1.2M317 227.6h1.2M315.4 228.2h1.2M316.9 224.5h1.2M317.1 230.2h1.2M316.4 224.4h1.2M316.5 230.5h1.2M323.6 231.7h1.2M323.7 229.6h1.2M321.9 225.7h1.2M322 226h1.2M322 227.1h1.2M321.8 232.2h1.2M323.6 236.5h1.2M322.6 218.3h1.2M323.5 231.1h1.2M322.3 230.9h1.2M322.5 232.9h1.2M322 225.4h1.2M322.4 219.3h1.2M323.2 222.5h1.2M322.5 227h1.2M322.4 228h1.2M323 232.6h1.2M323.1 203h1.2M327.8 231.7h1.2M327.7 233.3h1.2M328.7 233h1.2M328.3 232.3h1.2M326.9 229.4h1.2M326.8 232.9h1.2M328.2 231.4h1.2M328 227.9h1.2M328.1 234.4h1.2M327.8 241.5h1.2M326.8 234.9h1.2M327.7 232.3h1.2M328.5 231.1h1.2M328 228.1h1.2M326.8 231.5h1.2M327 232.5h1.2M328.7 229.4h1.2M334.7 225.1h1.2M334.8 223.3h1.2M334.3 236h1.2M333.9 225.6h1.2M334.2 225.7h1.2M334.8 221h1.2M333.8 223.5h1.2M333.6 215.7h1.2M334.3 229.4h1.2M334.7 230.6h1.2M333.4 222.7h1.2M333.9 231.2h1.2M335.4 227.6h1.2M333.9 230.3h1.2M335 229.9h1.2M334 227.7h1.2M333.5 231h1.2M334.3 213h1.2M338.9 229.2h1.2M340 223.5h1.2M340.1 229.5h1.2M340.1 228h1.2M338.7 231.7h1.2M338.3 229.8h1.2M339 231.8h1.2M339.4 225.4h1.2M339.9 235.5h1.2M339.5 217.1h1.2M338.8 225.2h1.2M339.2 232.2h1.2M339.3 228.2h1.2M339.2 223.7h1.2M338.4 220.2h1.2M338.4 226.2h1.2M338.6 235.7h1.2M344.9 222h1.2M346.5 230.9h1.2M346.2 219.4h1.2M346.3 226.4h1.2M345 230.2h1.2M345 228.4h1.2M346.8 229.1h1.2M345.6 224.4h1.2M345.9 226.9h1.2M347 232.1h1.2M345.3 228h1.2M346.2 232.2h1.2M345 228.9h1.2M346.1 232.4h1.2M346.4 221.3h1.2M345.2 227.8h1.2M346.5 223.6h1.2M350.7 231.6h1.2M349.9 231h1.2M351.8 233.9h1.2M350.1 224.2h1.2M351.7 227.9h1.2M349.9 235.4h1.2M351.2 229.4h1.2M350.1 233.1h1.2M350.4 228.3h1.2M350.7 224.7h1.2M351.4 229.8h1.2M350.7 232.3h1.2M350.7 234.4h1.2M350.7 233.8h1.2M350.9 234h1.2M350.4 227h1.2M351.9 223.2h1.2M356.9 224.6h1.2M356.8 234.2h1.2M356.7 217.7h1.2M357.9 224.3h1.2M357.6 223.3h1.2M356.9 228.8h1.2M358.2 228.3h1.2M357.9 219.8h1.2M357.3 234.6h1.2M357.7 221.6h1.2M357.8 230.9h1.2M357.3 223.9h1.2M356.6 223.4h1.2M357.2 225.3h1.2M358.4 224.9h1.2M357.2 223.1h1.2M357.8 223.9h1.2M356.6 210.2h1.2M358.1 213h1.2M363.1 231.1h1.2M361.8 233.1h1.2M362.7 224.5h1.2M362.5 228.8h1.2M362 227.2h1.2M361.5 217.7h1.2M362.4 230.8h1.2M362.5 225.6h1.2M363.1 228.7h1.2M361.8 234h1.2M361.7 234.6h1.2M362 230.9h1.2M363.1 227.4h1.2M361.8 227.9h1.2M362.7 223.8h1.2M361.4 225.5h1.2M361.5 231.9h1.2M368.1 232h1.2M368.2 221.9h1.2M369.7 227.7h1.2M369.2 227.8h1.2M368.9 220h1.2M368 231.6h1.2M368.9 227.5h1.2M368.8 222.7h1.2M369 228.7h1.2M368.1 227.7h1.2M368.9 227.4h1.2M369.2 228.6h1.2M369 223h1.2M368 227h1.2M368.7 228.3h1.2M369 227.3h1.2M369.2 225.9h1.2M374.6 219.1h1.2M373.9 230.6h1.2M374.3 228.8h1.2M373.1 232.3h1.2M373.9 217.1h1.2M373.7 223.6h1.2M374.2 231h1.2M374 228.2h1.2M374.5 228.6h1.2M374.4 230h1.2M374.2 229.1h1.2M373.7 225.7h1.2M373.9 225.2h1.2M373.3 233.8h1.2M373.2 230.6h1.2M373.9 234.8h1.2M373.3 228.3h1.2M380.9 230h1.2M379.5 225.1h1.2M380.8 219.5h1.2M381.2 226.4h1.2M380.5 228.7h1.2M380.7 232.7h1.2M381.4 226.5h1.2M379.9 221.9h1.2M381.2 226.6h1.2M380.6 225.6h1.2M380.4 220.5h1.2M379.7 220.3h1.2M381.1 229.6h1.2M379.8 236h1.2M380.6 228.2h1.2M379.6 230.5h1.2M381.6 226h1.2M385.4 230h1.2M384.7 219.8h1.2M386.1 225.1h1.2M385.5 219h1.2M384.6 226.4h1.2M385.5 235.1h1.2M384.6 228.5h1.2M384.9 230.1h1.2M385.9 236.3h1.2M384.8 228.7h1.2M384.9 230.2h1.2M384.7 229.3h1.2M386 230.3h1.2M385.2 226.4h1.2M384.5 229h1.2M384.6 223.8h1.2M385.2 226.1h1.2" stroke="#000" stroke-width="1.15" fill="none"/>
<path d="M123.3 186.9V267.9H394.5" stroke="#000" stroke-width="1.2" fill="none" stroke-linejoin="miter"/>
<path d="M119.7 267.9H123.3" stroke="#000" stroke-width="1.14"/>
<path d="M119.7 247.8H123.3" stroke="#000" stroke-width="1.14"/>
<path d="M119.7 227.7H123.3" stroke="#000" stroke-width="1.14"/>
<path d="M119.7 207.6H123.3" stroke="#000" stroke-width="1.14"/>
<path d="M119.7 187.5H123.3" stroke="#000" stroke-width="1.14"/>
<rect x="325.8" y="170.2" width="8.1" height="7.9" fill="#dbdb9b" stroke="#2c2c22" stroke-width="1"/>
<rect x="325.8" y="182.35" width="8.1" height="7.9" fill="#8f8239" stroke="#2c2c22" stroke-width="1"/>
<path d="M430.62 268V261.23H436.85V268zM446.07 268V261.59H452.3V268zM461.52 268V261.23H467.75V268z" fill="#c8c083" stroke="#151208" stroke-width="0.85"/>
<path d="M436.85 268V263.75H443.07V268zM452.3 268V262.67H458.52V268zM467.75 268V262.31H473.97V268z" fill="#8f8239" stroke="#151208" stroke-width="0.85"/>
<path d="M433.5 259.9V261.7M431.5 259.9h4M431.5 261.7h4M440.2 262.7V263.9M438.2 262.7h4M438.2 263.9h4M449 260.5V261.8M447 260.5h4M447 261.8h4M455.6 261.8V262.7M453.6 261.8h4M453.6 262.7h4M464.4 260.3V261.3M462.4 260.3h4M462.4 261.3h4M471.1 261.5V262.3M469.1 261.5h4M469.1 262.3h4" stroke="#000" stroke-width="0.6" fill="none"/>
<path d="M432.9 256.7h1.2M431.9 258.5h1.2M432.8 257h1.2M433.3 262.7h1.2M433.6 260.4h1.2M431.5 259h1.2M434.3 261.9h1.2M432.2 261.6h1.2M433.7 258h1.2M434.3 260.8h1.2M433.6 260.9h1.2M433.9 257.6h1.2M433.5 187.4h1.2M439.8 263.9h1.2M440.3 264.4h1.2M440.1 263h1.2M439.3 262.3h1.2M439.6 263.4h1.2M439.6 262.5h1.2M438.7 262.2h1.2M438.9 262.5h1.2M440.6 263h1.2M440.6 265.2h1.2M440.2 260.2h1.2M440.1 264.5h1.2M439.6 226.2h1.2M448.1 260.5h1.2M447.1 262.1h1.2M449.3 261.4h1.2M448.5 260.6h1.2M448.8 262.1h1.2M449.2 260.9h1.2M449.1 259.8h1.2M449 262.4h1.2M449.4 263.4h1.2M449.6 261.7h1.2M449 261.1h1.2M447 261h1.2M447.2 233.4h1.2M456.4 261.8h1.2M454.5 256.5h1.2M454.8 261.6h1.2M454.5 261h1.2M455.5 262h1.2M456.1 262.2h1.2M455.6 262.4h1.2M454.1 258.9h1.2M456.5 262.2h1.2M455.7 263.1h1.2M455 264.4h1.2M456 262.4h1.2M465.3 260h1.2M463.3 262.2h1.2M462.6 261.5h1.2M463.1 260.5h1.2M463.8 262.8h1.2M462.4 259.9h1.2M463.1 261.6h1.2M463.7 258.6h1.2M464.4 260.4h1.2M462.8 261.3h1.2M462.7 259.2h1.2M463.3 262.7h1.2M462.6 237h1.2M462.7 252.9h1.2M469.2 262.6h1.2M471.6 262.6h1.2M471.3 260.4h1.2M470.5 260.3h1.2M470.7 261.3h1.2M470.5 261h1.2M471.2 262.5h1.2M470.6 262.5h1.2M469.8 262.4h1.2M470.5 263.1h1.2M469.6 264.1h1.2M469 258.9h1.2M470.5 254.3h1.2" stroke="#000" stroke-width="1.15" fill="none"/>
<path d="M427 181.6V268.6H478" stroke="#000" stroke-width="1.2" fill="none" stroke-linejoin="miter"/>
<path d="M423.4 268.6H427" stroke="#000" stroke-width="1.14"/>
<path d="M423.4 232.6H427" stroke="#000" stroke-width="1.14"/>
<path d="M423.4 196.6H427" stroke="#000" stroke-width="1.14"/>
<path d="M424.75 261.4H427" stroke="#000" stroke-width="1.08"/>
<path d="M424.75 254.2H427" stroke="#000" stroke-width="1.08"/>
<path d="M424.75 247H427" stroke="#000" stroke-width="1.08"/>
<path d="M424.75 239.8H427" stroke="#000" stroke-width="1.08"/>
<path d="M424.75 225.4H427" stroke="#000" stroke-width="1.08"/>
<path d="M424.75 218.2H427" stroke="#000" stroke-width="1.08"/>
<path d="M424.75 211H427" stroke="#000" stroke-width="1.08"/>
<path d="M424.75 203.8H427" stroke="#000" stroke-width="1.08"/>
<path d="M424.75 189.4H427" stroke="#000" stroke-width="1.08"/>
<path d="M424.75 182.2H427" stroke="#000" stroke-width="1.08"/>
<path d="M500.43 268.3V224.99H505.2V268.3zM512.52 268.3V225.25H517.3V268.3zM524.62 268.3V226.13H529.4V268.3zM536.72 268.3V225.61H541.5V268.3zM548.82 268.3V227.78H553.6V268.3zM560.92 268.3V225.49H565.7V268.3zM573.02 268.3V225.69H577.8V268.3zM585.12 268.3V225.61H589.9V268.3zM597.22 268.3V225.3H602V268.3zM609.32 268.3V224.97H614.1V268.3zM621.42 268.3V225.6H626.2V268.3zM633.52 268.3V225.14H638.3V268.3zM645.62 268.3V225.31H650.4V268.3zM657.72 268.3V226.28H662.5V268.3zM669.82 268.3V226.04H674.6V268.3z" fill="#c8c083" stroke="#151208" stroke-width="0.85"/>
<path d="M505.2 268.3V229.12H509.97V268.3zM517.3 268.3V228.75H522.08V268.3zM529.4 268.3V228.26H534.18V268.3zM541.5 268.3V228.66H546.27V268.3zM553.6 268.3V225.63H558.38V268.3zM565.7 268.3V227.34H570.48V268.3zM577.8 268.3V228.2H582.58V268.3zM589.9 268.3V227.27H594.68V268.3zM602 268.3V226.62H606.77V268.3zM614.1 268.3V228.53H618.88V268.3zM626.2 268.3V227.25H630.98V268.3zM638.3 268.3V226.34H643.08V268.3zM650.4 268.3V227.79H655.18V268.3zM662.5 268.3V226.43H667.27V268.3zM674.6 268.3V226.56H679.38V268.3z" fill="#8f8239" stroke="#151208" stroke-width="0.85"/>
<path d="M502.6 223V226.1M501 223h3.1M501 226.1h3.1M507.8 226.7V230.7M506.2 226.7h3.1M506.2 230.7h3.1M514.7 223.1V226.5M513.1 223.1h3.1M513.1 226.5h3.1M519.9 227V229.6M518.3 227h3.1M518.3 229.6h3.1M526.8 223.4V228M525.2 223.4h3.1M525.2 228h3.1M532 226.1V229.5M530.4 226.1h3.1M530.4 229.5h3.1M538.9 223.1V227.3M537.3 223.1h3.1M537.3 227.3h3.1M544.1 227.1V229.4M542.5 227.1h3.1M542.5 229.4h3.1M551 225.4V229.3M549.4 225.4h3.1M549.4 229.3h3.1M556.2 223.4V227M554.6 223.4h3.1M554.6 227h3.1M563.1 223.3V226.8M561.5 223.3h3.1M561.5 226.8h3.1M568.3 225.7V228.2M566.7 225.7h3.1M566.7 228.2h3.1M575.2 223.7V226.8M573.6 223.7h3.1M573.6 226.8h3.1M580.4 226.4V229.1M578.8 226.4h3.1M578.8 229.1h3.1M587.3 222.8V227.5M585.7 222.8h3.1M585.7 227.5h3.1M592.5 224.8V228.9M590.9 224.8h3.1M590.9 228.9h3.1M599.4 223.6V226.2M597.8 223.6h3.1M597.8 226.2h3.1M604.6 224.3V228.1M603 224.3h3.1M603 228.1h3.1M611.5 222.2V226.8M609.9 222.2h3.1M609.9 226.8h3.1M616.7 226.6V229.7M615.1 226.6h3.1M615.1 229.7h3.1M623.6 223.4V226.9M622 223.4h3.1M622 226.9h3.1M628.8 224.6V229M627.2 224.6h3.1M627.2 229h3.1M635.7 223V226.4M634.1 223h3.1M634.1 226.4h3.1M640.9 223.7V228.1M639.3 223.7h3.1M639.3 228.1h3.1M647.8 223.5V226.3M646.2 223.5h3.1M646.2 226.3h3.1M653 225.5V229.2M651.4 225.5h3.1M651.4 229.2h3.1M659.9 224.7V227.1M658.3 224.7h3.1M658.3 227.1h3.1M665.1 224.5V227.5M663.5 224.5h3.1M663.5 227.5h3.1M672 223.5V227.7M670.4 223.5h3.1M670.4 227.7h3.1M677.2 224.6V227.7M675.6 224.6h3.1M675.6 227.7h3.1" stroke="#000" stroke-width="0.6" fill="none"/>
<path d="M500.9 229.4h1.2M502.9 223h1.2M500.9 230h1.2M501.4 215h1.2M501 213.4h1.2M502.8 227.7h1.2M502.3 223.4h1.2M502.5 223.2h1.2M502.3 217.3h1.2M502.3 229.4h1.2M502.6 225.8h1.2M501.4 229.7h1.2M502.7 224.8h1.2M503.1 224h1.2M501.2 223.7h1.2M501.4 227.6h1.2M501 224.6h1.2M506.5 226.4h1.2M506.2 227.9h1.2M507.5 227.4h1.2M507.6 227.7h1.2M506.1 227.6h1.2M508 231.5h1.2M508.1 225.9h1.2M506.9 232.3h1.2M507.2 231h1.2M507.5 225.9h1.2M508.2 227.6h1.2M507.5 232.3h1.2M507.2 226.3h1.2M507.8 224.2h1.2M507.2 220.5h1.2M506.1 225.3h1.2M507.3 226.4h1.2M513.9 224.4h1.2M515.2 226h1.2M513.6 221.5h1.2M513.1 227.5h1.2M515.1 228.6h1.2M513.7 225.9h1.2M515 215.6h1.2M513.6 207.2h1.2M514.6 225.5h1.2M513.1 223.3h1.2M514.8 221.5h1.2M515 227.4h1.2M514.3 224h1.2M515 226.8h1.2M514.4 222h1.2M514.7 226.5h1.2M514.2 218.7h1.2M514.2 199.3h1.2M514.8 203.7h1.2M513.4 207.1h1.2M515 210.1h1.2M513.3 242.4h1.2M513.8 246.8h1.2M515.2 250.2h1.2M519.8 228.3h1.2M518.8 229.3h1.2M519.4 232h1.2M518.3 225.4h1.2M519.1 227.7h1.2M520 225.4h1.2M518.5 228.7h1.2M518.4 226.6h1.2M520 228h1.2M519.5 219.7h1.2M518.8 226.7h1.2M519.1 229h1.2M518.2 228.9h1.2M518.3 222h1.2M519.8 224.2h1.2M518.7 230h1.2M518.7 234.2h1.2M519.5 201.5h1.2M520.4 203.7h1.2M518.9 208h1.2M520.3 244.6h1.2M518.4 248.9h1.2M520.2 251.1h1.2M526.7 219.9h1.2M527 227.4h1.2M527.1 224.8h1.2M527 226.5h1.2M526.2 225.2h1.2M525.1 227h1.2M527.1 228.8h1.2M525.5 227h1.2M527 222.1h1.2M526 226.1h1.2M527.2 223.9h1.2M525.7 219.9h1.2M526.7 216h1.2M525.4 227.3h1.2M527.1 229.2h1.2M526.3 230.3h1.2M526 231h1.2M531.2 229.1h1.2M531.4 224.9h1.2M530.7 216h1.2M532.3 227h1.2M531.8 237.5h1.2M530.7 228.9h1.2M530.8 228.8h1.2M531 223.3h1.2M531.1 219.4h1.2M532.5 225.7h1.2M532.3 231.4h1.2M531.2 230h1.2M532.1 229.7h1.2M531.8 231.5h1.2M530.5 228.9h1.2M531.7 227.5h1.2M531.6 232h1.2M539.1 214.9h1.2M538.5 221.5h1.2M537.4 231.3h1.2M537.5 234.3h1.2M538.8 225.7h1.2M539.3 221.4h1.2M539 223.5h1.2M537.2 233.1h1.2M537.5 228.8h1.2M538.2 227.1h1.2M538.7 226.8h1.2M539.4 220.7h1.2M537.8 228.7h1.2M538.2 231.7h1.2M539.3 225h1.2M539.1 229h1.2M537.6 227.4h1.2M543.8 227.4h1.2M544.1 227.4h1.2M544.2 229.3h1.2M543.4 226h1.2M543.4 228h1.2M543.3 232.2h1.2M543.2 231.2h1.2M544.1 218.5h1.2M544.4 225.1h1.2M543 231h1.2M544 234.9h1.2M542.8 229.5h1.2M542.4 229.1h1.2M543.9 230.6h1.2M544.1 227.9h1.2M543.1 232.2h1.2M544.6 226.9h1.2M550.5 231.8h1.2M551.2 231.7h1.2M550.7 221.2h1.2M551.4 230h1.2M550.8 229.3h1.2M551.3 229.7h1.2M549.5 224.3h1.2M551.1 226.2h1.2M550 221.8h1.2M551.4 229.8h1.2M551.1 224.7h1.2M551.5 228.6h1.2M551 226.7h1.2M550.2 224.5h1.2M550.5 208.2h1.2M551 226h1.2M549.4 231.3h1.2M556.6 227.5h1.2M554.8 231.9h1.2M555 228.6h1.2M554.8 228.2h1.2M556.6 221.6h1.2M555.2 221.2h1.2M555.2 216.3h1.2M554.8 225.1h1.2M555.1 231.4h1.2M556 226.7h1.2M555.4 223.7h1.2M556.1 226h1.2M555.7 224.4h1.2M555.2 225.6h1.2M555.3 220.6h1.2M555.9 221.2h1.2M554.5 224.5h1.2M562.4 226.5h1.2M563 225h1.2M562.9 221.7h1.2M561.5 225.2h1.2M563 225.9h1.2M563.5 226.3h1.2M562.4 219.8h1.2M561.7 226.8h1.2M561.4 227h1.2M562 226.8h1.2M563.5 221.7h1.2M561.7 223h1.2M563.6 220.1h1.2M561.5 227.6h1.2M563.3 222.5h1.2M563 224.2h1.2M562 223.3h1.2M568.3 224h1.2M566.9 228.6h1.2M566.6 225.1h1.2M567.6 229.8h1.2M567.2 222.4h1.2M568.2 226h1.2M568.4 230.8h1.2M566.6 236.9h1.2M568.4 225.7h1.2M567.3 226.4h1.2M568.4 224.7h1.2M566.9 229.1h1.2M567.9 235.3h1.2M568.1 229.5h1.2M568.3 236.9h1.2M566.9 222.2h1.2M567.5 226.6h1.2M574.6 230.9h1.2M574 236.3h1.2M575.1 228.2h1.2M575.4 227.5h1.2M574 220.5h1.2M573.6 228.5h1.2M574.9 210.8h1.2M575.2 226.7h1.2M574.9 223.5h1.2M574.2 225.9h1.2M574.8 226.6h1.2M573.9 234.5h1.2M575.4 228.4h1.2M575.4 226.9h1.2M574.8 228.4h1.2M575.2 228.7h1.2M573.7 222.8h1.2M579.1 232.4h1.2M579.9 230.8h1.2M579.4 229.1h1.2M579.3 221.1h1.2M580.3 228.1h1.2M579.5 226.3h1.2M580.4 231.4h1.2M580.4 233.3h1.2M579.5 225.4h1.2M578.7 221h1.2M580.6 228.4h1.2M579.9 225.2h1.2M580 231.9h1.2M580.2 227.6h1.2M579.9 230.9h1.2M580.7 221.4h1.2M578.7 228.9h1.2M586.3 228h1.2M586.2 221.1h1.2M585.9 219.6h1.2M585.8 224.6h1.2M586.5 227.7h1.2M587.2 224.9h1.2M587.7 217.3h1.2M587.5 219h1.2M587.6 229.3h1.2M585.6 217.7h1.2M587.7 226.7h1.2M587.8 220h1.2M586.6 223.7h1.2M586.3 231h1.2M586.7 227.6h1.2M587.7 223.9h1.2M587.8 223.3h1.2M587.7 195h1.2M592.1 231.2h1.2M591.2 229.7h1.2M592.2 220.8h1.2M591.7 219.2h1.2M593 222.6h1.2M591.9 226.3h1.2M592.8 225.1h1.2M591.9 229.1h1.2M591.4 230.3h1.2M592.4 231.2h1.2M593 226.2h1.2M592.9 231h1.2M591.3 224.3h1.2M592.7 231.8h1.2M592.8 231.8h1.2M592.9 226.3h1.2M592.8 235.6h1.2M599.6 218.7h1.2M599.9 228.6h1.2M598.4 221.7h1.2M598.4 225.1h1.2M598.8 229.6h1.2M599.6 226.9h1.2M599.4 224.1h1.2M598.5 226.5h1.2M599.5 224.7h1.2M597.7 222.4h1.2M599.6 223h1.2M599.8 227.2h1.2M599.9 230.5h1.2M599.5 228.4h1.2M597.9 225.6h1.2M598.8 221.3h1.2M599.9 224.8h1.2M605 227.2h1.2M604 229.7h1.2M604.2 234.1h1.2M604.3 229.8h1.2M603.5 227.9h1.2M604.4 222.9h1.2M603.2 231.5h1.2M603 228.2h1.2M603.7 225h1.2M604.6 225.4h1.2M603.1 224.2h1.2M603.6 224.3h1.2M603.5 220.6h1.2M603.1 227.2h1.2M605.1 225.2h1.2M604.1 229.2h1.2M603.1 207.8h1.2M603.9 188.6h1.2M610.8 224.2h1.2M609.9 226.1h1.2M611.6 216.1h1.2M611.7 223.3h1.2M610.8 221.3h1.2M611.8 229.9h1.2M610.4 223.5h1.2M610.2 219.1h1.2M611 208.7h1.2M611.7 220.3h1.2M611.9 227.1h1.2M609.8 229.8h1.2M610.7 214.5h1.2M610.1 220.2h1.2M612 220.7h1.2M610.1 217.4h1.2M609.8 230.1h1.2M615.4 226.4h1.2M617.1 231.1h1.2M615.2 228.1h1.2M616.4 228.4h1.2M616.4 235.1h1.2M615.4 228h1.2M616.4 230.5h1.2M616.2 222h1.2M616.4 217.5h1.2M615.4 231.1h1.2M616 234.6h1.2M616.9 230.3h1.2M616.4 228.3h1.2M615.5 221.3h1.2M615.7 225.6h1.2M617 233.1h1.2M615.1 228.6h1.2M622.6 206.8h1.2M621.9 226.2h1.2M622 229.9h1.2M622.8 220.5h1.2M622.6 223.3h1.2M622.6 228.4h1.2M622.1 224.6h1.2M624 227.9h1.2M623.7 235.8h1.2M622.4 210.4h1.2M622.2 217.9h1.2M624.1 225.2h1.2M624 226.5h1.2M623.5 231.9h1.2M622.7 228.2h1.2M623.2 230.4h1.2M622.1 222h1.2M628 224.2h1.2M628.9 231h1.2M628.3 215.8h1.2M628.6 219.1h1.2M627.3 231.2h1.2M627.8 226.7h1.2M627.1 218.4h1.2M627.4 231.1h1.2M629 230.6h1.2M627.4 227.1h1.2M628.4 222.1h1.2M627.9 224h1.2M628.6 223.7h1.2M629.1 224.5h1.2M629 226.9h1.2M629.3 225.4h1.2M629.3 236.9h1.2M635.6 224.3h1.2M634.6 228.8h1.2M634.8 214.7h1.2M635.1 221.7h1.2M634.5 226.6h1.2M634.9 220.9h1.2M635.7 233.6h1.2M635.1 223.4h1.2M634.1 225.8h1.2M634.8 221.8h1.2M635.3 226.1h1.2M634.5 223.7h1.2M634.8 229.1h1.2M635.2 223.3h1.2M634.8 221.4h1.2M634.4 224.4h1.2M636 230.1h1.2M634.1 197.2h1.2M639.7 224.5h1.2M640.8 230.1h1.2M640.3 221.9h1.2M640.2 226.3h1.2M639.2 224h1.2M639.7 233.4h1.2M640.9 224.8h1.2M640.2 223.3h1.2M641.2 220.5h1.2M641 218.1h1.2M640.4 221h1.2M641.4 227.8h1.2M639.2 228.8h1.2M640.1 227.1h1.2M640.4 214.1h1.2M639.3 227.9h1.2M641.1 225.2h1.2M647.7 232.7h1.2M646.5 225.9h1.2M647.6 219.9h1.2M646.8 221.7h1.2M646.2 223.8h1.2M646.8 225.2h1.2M647.6 225.3h1.2M647 218.2h1.2M646.9 219h1.2M646.6 220.6h1.2M647.5 220h1.2M648 223.9h1.2M647.1 225.4h1.2M646.4 222.2h1.2M647.2 229.4h1.2M647.3 223.9h1.2M647.7 224.3h1.2M653.3 229h1.2M653.2 231.9h1.2M652.6 228.4h1.2M652.3 230.3h1.2M653.1 228.2h1.2M651.3 225.2h1.2M652.2 231.3h1.2M651.8 222.7h1.2M652.6 225.6h1.2M652.1 230.5h1.2M652.6 225.9h1.2M653.3 217.9h1.2M652.2 227.6h1.2M651.5 231.4h1.2M651.3 215.5h1.2M653.2 231.5h1.2M652.3 229.7h1.2M652.3 211.4h1.2M659.5 226.4h1.2M660.2 228.4h1.2M658.3 229h1.2M659.2 221.9h1.2M658.2 234.4h1.2M658.6 230.7h1.2M659.1 226.1h1.2M659.2 229.7h1.2M660.1 223h1.2M659.2 232h1.2M660 219.7h1.2M659.1 225.9h1.2M658.5 226.2h1.2M660.1 227.7h1.2M658.6 223.7h1.2M660.2 225.2h1.2M658.3 229.8h1.2M663.7 222.3h1.2M664 226.1h1.2M664.3 232.9h1.2M663.5 224.5h1.2M664.2 224.5h1.2M665.5 220.3h1.2M665.5 229.5h1.2M663.9 215.4h1.2M664.6 219.7h1.2M664.4 226.7h1.2M665.1 229.4h1.2M665.1 225.5h1.2M664.9 229.7h1.2M663.6 217.5h1.2M664.1 223.6h1.2M665.6 225.7h1.2M663.5 224.8h1.2M670.7 219.7h1.2M671.5 226h1.2M672.3 219.9h1.2M671.7 216.6h1.2M670.5 234.6h1.2M671.2 222.3h1.2M670.8 231.5h1.2M672.1 222h1.2M671.2 230.2h1.2M671.3 225.8h1.2M672.3 219.8h1.2M670.9 235.3h1.2M671.3 230.5h1.2M672.5 223.5h1.2M671 229.2h1.2M671.5 226.8h1.2M671.7 225.6h1.2M677.6 230.4h1.2M676 231h1.2M676.5 216.2h1.2M677.6 224.1h1.2M677.4 220.5h1.2M677 227.6h1.2M676.7 232.5h1.2M677.1 225.7h1.2M677 225.4h1.2M677.5 226.4h1.2M677.2 232.6h1.2M676 222.7h1.2M677 230h1.2M677.5 229h1.2M676.1 224.9h1.2M676.7 233.7h1.2M677.2 227h1.2" stroke="#000" stroke-width="1.15" fill="none"/>
<path d="M497.8 182.1V268.95H686" stroke="#000" stroke-width="1.3" fill="none" stroke-linejoin="miter"/>
<path d="M493.85 268.95H497.8" stroke="#000" stroke-width="1.23"/>
<path d="M493.85 247.4H497.8" stroke="#000" stroke-width="1.23"/>
<path d="M493.85 225.85H497.8" stroke="#000" stroke-width="1.23"/>
<path d="M493.85 204.3H497.8" stroke="#000" stroke-width="1.23"/>
<path d="M493.85 182.75H497.8" stroke="#000" stroke-width="1.23"/>
<rect x="615.8" y="170.9" width="8.1" height="7.9" fill="#dbdb9b" stroke="#2c2c22" stroke-width="1"/>
<rect x="615.8" y="183.05" width="8.1" height="7.9" fill="#8f8239" stroke="#2c2c22" stroke-width="1"/>
<path d="M27.53 417.15V403.07H31.9V417.15zM38.42 417.15V403.07H42.8V417.15zM49.33 417.15V403.07H53.7V417.15zM60.23 417.15V403.8H64.6V417.15zM71.12 417.15V403.8H75.5V417.15zM82.02 417.15V403.07H86.4V417.15z" fill="#c8c083" stroke="#151208" stroke-width="0.85"/>
<path d="M31.9 417.15V405.25H36.28V417.15zM42.8 417.15V406.7H47.18V417.15zM53.7 417.15V405.97H58.08V417.15zM64.6 417.15V404.52H68.98V417.15zM75.5 417.15V405.25H79.88V417.15zM86.4 417.15V405.25H90.77V417.15z" fill="#8f8239" stroke="#151208" stroke-width="0.85"/>
<path d="M29.5 401.8V403.5M28.1 401.8h2.9M28.1 403.5h2.9M34.3 403.8V405.8M32.9 403.8h2.9M32.9 405.8h2.9M40.4 401.4V403.9M39 401.4h2.9M39 403.9h2.9M45.2 405.2V407.4M43.8 405.2h2.9M43.8 407.4h2.9M51.3 401.4V403.9M49.9 401.4h2.9M49.9 403.9h2.9M56.1 404.4V406.7M54.7 404.4h2.9M54.7 406.7h2.9M62.2 402.4V404.4M60.8 402.4h2.9M60.8 404.4h2.9M67 402.9V405.3M65.6 402.9h2.9M65.6 405.3h2.9M73.1 402.4V404.4M71.7 402.4h2.9M71.7 404.4h2.9M77.9 403.8V405.9M76.5 403.8h2.9M76.5 405.9h2.9M84 401.5V403.8M82.6 401.5h2.9M82.6 403.8h2.9M88.8 404V405.6M87.4 404h2.9M87.4 405.6h2.9" stroke="#000" stroke-width="0.6" fill="none"/>
<path d="M28.3 404.4h1.2M28.3 403h1.2M29.7 402.7h1.2M28.1 403.6h1.2M29.7 402.2h1.2M29 394.8h1.2M29.2 402.4h1.2M29.4 407.3h1.2M29.5 400.4h1.2M28.5 398.3h1.2M28.1 402.4h1.2M28.3 403.8h1.2M28.9 398.9h1.2M28.9 404.3h1.2M29 338.1h1.2M28.2 382.3h1.2M33.1 404.4h1.2M33.5 402.4h1.2M34.2 407.5h1.2M33.8 407.1h1.2M33.1 407.3h1.2M32.7 403.3h1.2M33.8 403.8h1.2M33.6 403.1h1.2M32.8 407.7h1.2M34 402.7h1.2M33 407h1.2M34 401.2h1.2M33 402.2h1.2M33.8 405.3h1.2M34.6 342.5h1.2M32.8 391.8h1.2M40.6 403.7h1.2M40.5 404h1.2M40.7 400.3h1.2M39 403.9h1.2M39.6 404.8h1.2M40.5 402h1.2M39.4 402.4h1.2M39.3 399.8h1.2M38.8 395.7h1.2M39.9 400.5h1.2M39.9 402.9h1.2M39.2 404.8h1.2M39.3 404.1h1.2M40.1 404.4h1.2M39.1 356.2h1.2M40.4 380.9h1.2M44.8 405.3h1.2M45.2 408.9h1.2M43.8 404.6h1.2M45.4 403.5h1.2M45.5 409.4h1.2M44.8 405h1.2M45.3 407.2h1.2M44.7 404h1.2M44.5 405.3h1.2M43.9 406.4h1.2M44.6 405h1.2M45.1 406.4h1.2M45.2 409.6h1.2M45.4 408.1h1.2M50.9 403.1h1.2M51.6 402h1.2M50.4 402.2h1.2M50.9 403.8h1.2M50.9 403.1h1.2M50.4 404.2h1.2M51.6 399.6h1.2M50.7 400.1h1.2M50.6 400.1h1.2M49.7 401.7h1.2M50.6 401.1h1.2M51.6 403.1h1.2M49.7 405.5h1.2M51 403.6h1.2M49.8 364.9h1.2M50.8 383.8h1.2M56.5 405.6h1.2M55.4 405.6h1.2M56.1 402.9h1.2M55.2 407.7h1.2M56.5 407h1.2M55.2 406.6h1.2M55 403.5h1.2M55.2 406.6h1.2M55.7 403.8h1.2M55 408.1h1.2M54.8 409h1.2M56.2 402.7h1.2M54.6 402.6h1.2M55.4 403.2h1.2M60.9 404.7h1.2M61.4 405.3h1.2M61 404h1.2M61.2 389.1h1.2M60.6 404.6h1.2M61.5 405.6h1.2M61.6 404.1h1.2M61.5 404.6h1.2M60.9 405.5h1.2M60.6 410.5h1.2M62.6 394.8h1.2M61.5 406.1h1.2M60.7 402.7h1.2M61 405.2h1.2M62.1 386h1.2M60.7 391h1.2M66.5 407.4h1.2M65.7 402.8h1.2M65.9 400.6h1.2M66 404.1h1.2M66.1 407.2h1.2M66.2 407.2h1.2M67.4 388.4h1.2M66.5 406.9h1.2M66.5 403.2h1.2M66.2 406.5h1.2M66.5 405.8h1.2M67.1 407.2h1.2M66.4 406.5h1.2M66.4 402.8h1.2M72.1 403.8h1.2M72.1 404.1h1.2M72.9 398.6h1.2M72 403h1.2M72.5 403.3h1.2M73 398.8h1.2M71.9 405.6h1.2M72.1 402.2h1.2M72.6 401.1h1.2M72.8 401.4h1.2M71.8 389.6h1.2M71.8 402.4h1.2M72 404.9h1.2M72.2 406.6h1.2M73.1 375.1h1.2M72.3 393.9h1.2M77.6 403.3h1.2M78.2 404.5h1.2M76.6 404.9h1.2M76.5 404.2h1.2M77.9 407.6h1.2M77.4 403.7h1.2M76.4 407.6h1.2M78.3 406.1h1.2M77.9 406.8h1.2M77.9 408.1h1.2M77.9 402.8h1.2M76.4 404.9h1.2M76.6 406.4h1.2M76.3 405.4h1.2M83.1 404.4h1.2M82.4 403.8h1.2M82.7 399.5h1.2M83.1 401.2h1.2M82.7 403.9h1.2M82.8 406h1.2M83.7 400h1.2M84.1 400.7h1.2M84 405.1h1.2M83.5 396h1.2M83.4 400.8h1.2M83.7 402.4h1.2M82.7 404.9h1.2M82.8 397.1h1.2M83.8 386.7h1.2M83.7 389.6h1.2M83.1 392.5h1.2M89.3 406h1.2M88.9 407.3h1.2M88.2 403.7h1.2M88.7 404.8h1.2M88.6 407.2h1.2M88.1 402.2h1.2M88.2 409.3h1.2M87.4 394.4h1.2M87.7 402.4h1.2M87.9 403h1.2M87.9 391.5h1.2M88.5 407.5h1.2M87.7 404.6h1.2M87.6 405.9h1.2" stroke="#000" stroke-width="1.15" fill="none"/>
<path d="M25.5 330.15V417.7H94.3" stroke="#000" stroke-width="1.1" fill="none" stroke-linejoin="miter"/>
<path d="M21.65 417.7H25.5" stroke="#000" stroke-width="1.04"/>
<path d="M21.65 388.7H25.5" stroke="#000" stroke-width="1.04"/>
<path d="M21.65 359.7H25.5" stroke="#000" stroke-width="1.04"/>
<path d="M21.65 330.7H25.5" stroke="#000" stroke-width="1.04"/>
<path d="M117.67 418V375.03H121.67V418zM128.06 418V375.19H132.06V418zM138.45 418V374.94H142.44V418zM148.83 418V378.67H152.82V418zM159.22 418V376.2H163.21V418zM169.6 418V375.7H173.59V418zM179.99 418V375.1H183.98V418zM190.37 418V375.15H194.36V418zM200.75 418V376.14H204.75V418zM211.14 418V375.7H215.13V418zM221.53 418V375.52H225.52V418zM231.91 418V376.51H235.91V418zM242.3 418V376.11H246.29V418zM252.68 418V375.26H256.68V418zM263.06 418V375.39H267.06V418zM273.45 418V375.77H277.44V418zM283.83 418V375.55H287.83V418zM294.22 418V375.63H298.21V418zM304.61 418V375.94H308.6V418zM314.99 418V376.38H318.99V418zM325.38 418V375.26H329.37V418zM335.76 418V375.21H339.76V418zM346.15 418V375.79H350.14V418zM356.53 418V375.21H360.53V418zM366.92 418V375.11H370.91V418zM377.3 418V375.35H381.3V418zM387.69 418V375.15H391.68V418zM398.07 418V374.88H402.06V418zM408.45 418V376.46H412.45V418zM418.84 418V374.92H422.84V418zM429.23 418V375.76H433.22V418zM439.61 418V375.2H443.61V418zM450 418V375.27H453.99V418zM460.38 418V376.36H464.38V418zM470.76 418V375.53H474.76V418zM481.15 418V376.38H485.14V418zM491.54 418V375.28H495.53V418zM501.92 418V375.95H505.92V418zM512.3 418V375.89H516.3V418zM522.69 418V376.06H526.68V418z" fill="#c8c083" stroke="#151208" stroke-width="0.85"/>
<path d="M121.67 418V379.95H125.67V418zM132.06 418V380.81H136.05V418zM142.44 418V380.38H146.44V418zM152.82 418V375.68H156.82V418zM163.21 418V380.81H167.2V418zM173.59 418V378.43H177.59V418zM183.98 418V378.85H187.97V418zM194.36 418V378.35H198.36V418zM204.75 418V378.66H208.74V418zM215.13 418V377.64H219.13V418zM225.52 418V378.32H229.51V418zM235.91 418V378.84H239.9V418zM246.29 418V378.45H250.28V418zM256.68 418V378.45H260.67V418zM267.06 418V379.11H271.05V418zM277.44 418V379H281.44V418zM287.83 418V377.68H291.82V418zM298.21 418V377.58H302.21V418zM308.6 418V377.14H312.59V418zM318.99 418V377.81H322.98V418zM329.37 418V378.22H333.36V418zM339.76 418V378.45H343.75V418zM350.14 418V377.6H354.13V418zM360.53 418V377.7H364.52V418zM370.91 418V376.9H374.9V418zM381.3 418V377.35H385.29V418zM391.68 418V378.24H395.67V418zM402.06 418V378.46H406.06V418zM412.45 418V379.01H416.44V418zM422.84 418V377.08H426.83V418zM433.22 418V377.94H437.21V418zM443.61 418V377.99H447.6V418zM453.99 418V378.82H457.98V418zM464.38 418V377.64H468.37V418zM474.76 418V376.57H478.75V418zM485.14 418V378.12H489.14V418zM495.53 418V376.88H499.52V418zM505.92 418V376.8H509.91V418zM516.3 418V377.01H520.3V418zM526.68 418V377.14H530.68V418z" fill="#8f8239" stroke="#151208" stroke-width="0.85"/>
<path d="M119.5 373.1V376.1M118.1 373.1h2.7M118.1 376.1h2.7M123.9 378.3V380.7M122.6 378.3h2.7M122.6 380.7h2.7M129.8 373.3V376.2M128.5 373.3h2.7M128.5 376.2h2.7M134.3 378.9V381.8M132.9 378.9h2.7M132.9 381.8h2.7M140.2 372.9V376.1M138.9 372.9h2.7M138.9 376.1h2.7M144.7 378.3V381.6M143.3 378.3h2.7M143.3 381.6h2.7M150.6 376.9V379.6M149.3 376.9h2.7M149.3 379.6h2.7M155 373.3V377.2M153.7 373.3h2.7M153.7 377.2h2.7M161 373.7V377.8M159.7 373.7h2.7M159.7 377.8h2.7M165.4 379V381.7M164.1 379h2.7M164.1 381.7h2.7M171.4 373V377.5M170.1 373h2.7M170.1 377.5h2.7M175.8 376V380M174.5 376h2.7M174.5 380h2.7M181.8 372.9V376.5M180.4 372.9h2.7M180.4 376.5h2.7M186.2 376.8V380M184.9 376.8h2.7M184.9 380h2.7M192.2 373.1V376.4M190.8 373.1h2.7M190.8 376.4h2.7M196.6 376.5V379.3M195.2 376.5h2.7M195.2 379.3h2.7M202.5 374.5V376.9M201.2 374.5h2.7M201.2 376.9h2.7M207 376.6V379.9M205.6 376.6h2.7M205.6 379.9h2.7M212.9 373.8V376.7M211.6 373.8h2.7M211.6 376.7h2.7M217.3 375.4V379M216 375.4h2.7M216 379h2.7M223.3 373.8V376.4M222 373.8h2.7M222 376.4h2.7M227.7 375.7V380.1M226.4 375.7h2.7M226.4 380.1h2.7M233.7 374.5V377.7M232.4 374.5h2.7M232.4 377.7h2.7M238.1 377.3V379.5M236.8 377.3h2.7M236.8 379.5h2.7M244.1 373.6V377.7M242.8 373.6h2.7M242.8 377.7h2.7M248.5 376.3V379.7M247.2 376.3h2.7M247.2 379.7h2.7M254.5 373.5V376.2M253.1 373.5h2.7M253.1 376.2h2.7M258.9 376.1V380M257.6 376.1h2.7M257.6 380h2.7M264.8 373.6V376.4M263.5 373.6h2.7M263.5 376.4h2.7M269.3 376.9V380.5M267.9 376.9h2.7M267.9 380.5h2.7M275.2 374V376.6M273.9 374h2.7M273.9 376.6h2.7M279.7 377V380.2M278.3 377h2.7M278.3 380.2h2.7M285.6 373.6V376.6M284.3 373.6h2.7M284.3 376.6h2.7M290 375.4V379.1M288.7 375.4h2.7M288.7 379.1h2.7M296 373.5V376.9M294.7 373.5h2.7M294.7 376.9h2.7M300.4 375.3V379M299.1 375.3h2.7M299.1 379h2.7M306.4 373.7V377.3M305.1 373.7h2.7M305.1 377.3h2.7M310.8 375.4V378.1M309.5 375.4h2.7M309.5 378.1h2.7M316.8 374.7V377.2M315.4 374.7h2.7M315.4 377.2h2.7M321.2 376.3V378.5M319.9 376.3h2.7M319.9 378.5h2.7M327.2 373.4V376.3M325.8 373.4h2.7M325.8 376.3h2.7M331.6 376.5V379.1M330.3 376.5h2.7M330.3 379.1h2.7M337.5 373.5V376.1M336.2 373.5h2.7M336.2 376.1h2.7M342 376.8V379.2M340.6 376.8h2.7M340.6 379.2h2.7M347.9 373.7V377M346.6 373.7h2.7M346.6 377h2.7M352.4 376V378.3M351 376h2.7M351 378.3h2.7M358.3 373V376.6M357 373h2.7M357 376.6h2.7M362.7 375.3V379.2M361.4 375.3h2.7M361.4 379.2h2.7M368.7 373.3V376.1M367.4 373.3h2.7M367.4 376.1h2.7M373.1 374.3V378.7M371.8 374.3h2.7M371.8 378.7h2.7M379.1 373.3V376.5M377.8 373.3h2.7M377.8 376.5h2.7M383.5 374.8V379M382.2 374.8h2.7M382.2 379h2.7M389.5 373.5V375.9M388.1 373.5h2.7M388.1 375.9h2.7M393.9 376.6V379M392.6 376.6h2.7M392.6 379h2.7M399.9 373.2V375.7M398.5 373.2h2.7M398.5 375.7h2.7M404.3 376.7V379.3M402.9 376.7h2.7M402.9 379.3h2.7M410.2 374V378M408.9 374h2.7M408.9 378h2.7M414.7 376.7V380.5M413.3 376.7h2.7M413.3 380.5h2.7M420.6 372.5V376.5M419.3 372.5h2.7M419.3 376.5h2.7M425 374.4V378.9M423.7 374.4h2.7M423.7 378.9h2.7M431 373.8V376.9M429.7 373.8h2.7M429.7 376.9h2.7M435.4 375.6V379.5M434.1 375.6h2.7M434.1 379.5h2.7M441.4 373.2V376.3M440.1 373.2h2.7M440.1 376.3h2.7M445.8 375.4V379.7M444.5 375.4h2.7M444.5 379.7h2.7M451.8 372.5V377.2M450.5 372.5h2.7M450.5 377.2h2.7M456.2 376.6V380.2M454.9 376.6h2.7M454.9 380.2h2.7M462.2 374V377.9M460.8 374h2.7M460.8 377.9h2.7M466.6 375.1V379.3M465.3 375.1h2.7M465.3 379.3h2.7M472.5 373.6V376.6M471.2 373.6h2.7M471.2 376.6h2.7M477 374.1V378.2M475.6 374.1h2.7M475.6 378.2h2.7M482.9 374.5V377.5M481.6 374.5h2.7M481.6 377.5h2.7M487.4 376.4V378.9M486 376.4h2.7M486 378.9h2.7M493.3 372.7V377M492 372.7h2.7M492 377h2.7M497.7 375.3V377.6M496.4 375.3h2.7M496.4 377.6h2.7M503.7 374.3V376.7M502.4 374.3h2.7M502.4 376.7h2.7M508.1 374.6V378.2M506.8 374.6h2.7M506.8 378.2h2.7M514.1 373.7V377.3M512.8 373.7h2.7M512.8 377.3h2.7M518.5 375.3V377.9M517.2 375.3h2.7M517.2 377.9h2.7M524.5 373.6V377.7M523.1 373.6h2.7M523.1 377.7h2.7M528.9 375.5V378M527.6 375.5h2.7M527.6 378h2.7" stroke="#000" stroke-width="0.6" fill="none"/>
<path d="M118.3 382.6h1.2M118.2 370.3h1.2M118.8 370.5h1.2M119.1 372.9h1.2M118.1 370h1.2M118.8 381.3h1.2M118.2 365.8h1.2M119.1 382h1.2M118.6 379.4h1.2M119.2 381.3h1.2M119.4 375.2h1.2M118.7 372.2h1.2M118.6 377.4h1.2M118 379.3h1.2M118.3 379.4h1.2M119.1 369.9h1.2M119.5 379.4h1.2M123.1 378h1.2M123.2 384.1h1.2M122.3 374.9h1.2M123.4 374.2h1.2M123.5 381.3h1.2M122.9 382.2h1.2M122.9 380.6h1.2M123 380.5h1.2M124.1 375.9h1.2M123 382.4h1.2M122.9 382.5h1.2M122.5 374.9h1.2M123.9 379.1h1.2M123.4 382.8h1.2M123.1 377.6h1.2M122.9 378.4h1.2M123.3 387.5h1.2M122.5 360.3h1.2M122.9 403h1.2M129.1 373.5h1.2M128.4 373.8h1.2M129.4 384.6h1.2M130.2 375.9h1.2M129.1 381.3h1.2M129.7 363.8h1.2M128.7 379.4h1.2M130.1 371.3h1.2M128.5 380.4h1.2M128.8 370.7h1.2M129.5 377.3h1.2M129.6 372.1h1.2M129.1 372.5h1.2M128.9 375h1.2M129.3 370.8h1.2M129.6 370.5h1.2M129.9 372.1h1.2M129.7 359h1.2M133.7 380.5h1.2M133.4 380.8h1.2M132.9 378.4h1.2M133.6 378.6h1.2M134.1 384.6h1.2M132.8 381.6h1.2M134.6 374.6h1.2M133.2 381.7h1.2M134 380.9h1.2M134.4 382.3h1.2M132.9 377.3h1.2M133.2 380.6h1.2M134.4 377.3h1.2M134.5 382.8h1.2M132.8 378.8h1.2M133.9 376.7h1.2M134.1 381.8h1.2M139.6 379.7h1.2M139.1 377h1.2M139.2 368.6h1.2M139.3 382.4h1.2M138.8 373.2h1.2M138.9 372.9h1.2M139.4 374.4h1.2M138.9 375.6h1.2M139.3 378.8h1.2M139.9 371.5h1.2M139.3 373.2h1.2M138.9 376.2h1.2M139.5 373.9h1.2M139.1 364.7h1.2M139.1 375.7h1.2M140.5 377.8h1.2M139.1 365.8h1.2M139.5 359h1.2M144.1 378.2h1.2M144.8 384.2h1.2M143.3 376.7h1.2M144.5 380.1h1.2M144.2 375.6h1.2M144.8 381.4h1.2M143.7 381.5h1.2M144 379.5h1.2M144.7 379.3h1.2M143.6 383.6h1.2M143.8 381.9h1.2M144.7 382.8h1.2M144.3 376.5h1.2M144 380.8h1.2M143.1 369.6h1.2M144.6 381h1.2M143.9 372.2h1.2M149.3 378h1.2M150.3 377.6h1.2M149.2 368.2h1.2M149.3 379.3h1.2M149.1 378.5h1.2M150.1 369.3h1.2M149.4 380.6h1.2M149.6 372.9h1.2M149.3 379h1.2M150.8 374.3h1.2M149.3 382.9h1.2M150.4 378.4h1.2M150.6 382.1h1.2M149.9 377.3h1.2M150.2 381.1h1.2M149.7 378.9h1.2M150.6 373.6h1.2M154.7 377.8h1.2M153.6 375.6h1.2M155.2 378.6h1.2M154.8 372.8h1.2M155.2 369.4h1.2M154.7 372.8h1.2M154.7 373.3h1.2M155.2 374.3h1.2M154.9 380.3h1.2M154.7 375.6h1.2M153.5 381.5h1.2M153.5 375.8h1.2M154.9 366.3h1.2M155.1 370.4h1.2M154.2 375.2h1.2M153.9 374.6h1.2M154.3 381.2h1.2M155.1 332.5h1.2M160.2 370.9h1.2M160.5 370.9h1.2M161.3 375.8h1.2M159.9 359.7h1.2M161.1 373.9h1.2M160.7 372h1.2M161.2 374.7h1.2M160 376.7h1.2M160.7 376.2h1.2M161.2 375h1.2M161.1 384h1.2M160.8 372h1.2M161.1 379.6h1.2M160.7 376.9h1.2M160.5 376.2h1.2M159.8 379.9h1.2M160.4 374h1.2M161.3 343.2h1.2M161.3 347.5h1.2M159.5 351.7h1.2M164.1 382.5h1.2M164.9 383.6h1.2M164.2 379.8h1.2M164.3 375.9h1.2M164.5 375.9h1.2M165.1 380.3h1.2M164.2 382h1.2M164.8 387.1h1.2M164.6 382.2h1.2M165.5 373.3h1.2M164.9 382.1h1.2M165 383.1h1.2M165 379.4h1.2M164.3 376.3h1.2M164.3 367.3h1.2M165.3 379.3h1.2M163.9 382.4h1.2M164.9 356h1.2M171.4 375.9h1.2M170.5 382.7h1.2M171.6 380.2h1.2M170.5 373.7h1.2M171 371.1h1.2M170.3 369.2h1.2M171.2 371.5h1.2M170.4 375.9h1.2M170.6 369.5h1.2M171.2 377.2h1.2M171.4 375.8h1.2M170.1 381.4h1.2M170.1 372.1h1.2M170.2 377.8h1.2M171.3 381.2h1.2M171.1 376.4h1.2M171.2 374h1.2M174.6 374.7h1.2M175.4 378.4h1.2M174.6 385.1h1.2M174.4 376.8h1.2M174.7 375.6h1.2M174.6 381.3h1.2M174.2 379.9h1.2M174.3 377.3h1.2M175.8 377.1h1.2M175.9 379.9h1.2M175.9 382.9h1.2M174.4 377.8h1.2M174.3 377.1h1.2M175.9 391.9h1.2M175 385.1h1.2M174.9 379.2h1.2M175.6 366.4h1.2M180.4 370.1h1.2M182.1 373.9h1.2M181.3 373.2h1.2M181.7 367.6h1.2M181.1 370h1.2M181.2 372.9h1.2M180.6 378.9h1.2M181.9 379.3h1.2M181 379h1.2M181 376.5h1.2M181.6 370.8h1.2M181.9 378.5h1.2M182.1 369.2h1.2M181.1 378.2h1.2M181 371.8h1.2M181.8 376.9h1.2M181 372.4h1.2M180.6 348.7h1.2M186.5 375.1h1.2M185.7 376.4h1.2M185.6 373.7h1.2M184.7 368.8h1.2M186.4 371.9h1.2M185.1 379.2h1.2M186.1 382.8h1.2M185 384.5h1.2M185.1 378.5h1.2M184.9 365.6h1.2M185.7 377h1.2M185.2 378.5h1.2M185.7 373.3h1.2M186 375.8h1.2M185.1 379.6h1.2M184.9 379.2h1.2M185.6 377.9h1.2M191.7 360.9h1.2M192.4 377.1h1.2M190.8 377.1h1.2M191.4 377.4h1.2M191.1 364.9h1.2M191.9 356.3h1.2M190.7 375.2h1.2M192.3 367.8h1.2M191.5 373.6h1.2M191.2 375.9h1.2M192.5 368.5h1.2M190.7 374.6h1.2M191.1 374.3h1.2M192.1 377h1.2M192.2 369h1.2M190.9 374.6h1.2M191.1 368.7h1.2M195.9 369.7h1.2M195.1 387.3h1.2M195.9 379.2h1.2M195.3 378.9h1.2M195 375h1.2M195.1 380.7h1.2M195.7 383.5h1.2M195.9 390.8h1.2M195 385.7h1.2M195.3 379h1.2M196.8 372.4h1.2M196.1 376.2h1.2M196.9 382.4h1.2M196.1 377.2h1.2M196.9 379h1.2M196.3 374.3h1.2M195.8 386.6h1.2M201.1 372h1.2M201.9 379.5h1.2M202.7 372.9h1.2M202.2 370.9h1.2M201.6 370.9h1.2M201.7 375.8h1.2M201.8 377.3h1.2M201.6 379.8h1.2M201.1 380.5h1.2M201.3 377.1h1.2M201.2 374.9h1.2M201.4 376.7h1.2M201.6 375.5h1.2M201.2 370.3h1.2M202.2 375.1h1.2M201.4 375.1h1.2M202 364.8h1.2M202.3 344h1.2M207.2 378h1.2M206.4 380.3h1.2M207.1 375.7h1.2M207.2 380.8h1.2M205.8 376.9h1.2M207.3 375h1.2M205.9 364.7h1.2M205.7 374.2h1.2M205.9 383.4h1.2M207.3 377.1h1.2M207.2 370.3h1.2M206.1 382.2h1.2M206.3 385.8h1.2M207 387.7h1.2M207 372.3h1.2M207.1 379.5h1.2M206.1 381.3h1.2M212 380.7h1.2M211.8 380h1.2M212.9 370.8h1.2M212.1 378.5h1.2M212.7 382.1h1.2M212.4 371.6h1.2M211.8 383.5h1.2M211.9 375.6h1.2M212.7 380.2h1.2M213 370.9h1.2M213.1 380h1.2M211.7 374.5h1.2M211.9 375.5h1.2M211.5 365.5h1.2M211.7 374.3h1.2M212.1 368.5h1.2M212.7 376.9h1.2M213.1 344h1.2M217.3 376h1.2M217.6 368.5h1.2M216.3 381.4h1.2M217.1 379.8h1.2M216.2 384.6h1.2M216 375h1.2M216.4 378h1.2M217.6 377.3h1.2M216.3 374.1h1.2M216.4 378.3h1.2M217.6 380.6h1.2M217.7 372.6h1.2M217.2 379.7h1.2M216.5 373h1.2M217.4 380.9h1.2M215.9 383.8h1.2M215.8 379h1.2M222.4 381.1h1.2M222.1 359.3h1.2M222.5 378.3h1.2M222.3 376.8h1.2M222.9 374.6h1.2M222.3 374.8h1.2M223.4 369.2h1.2M222.6 365.5h1.2M222 372.9h1.2M223.1 382.5h1.2M222.6 377.1h1.2M223.6 364h1.2M223.4 372.7h1.2M223.3 367.6h1.2M222.8 371.1h1.2M223.2 373.3h1.2M222.4 376.2h1.2M228 380.4h1.2M227 378.2h1.2M227.3 379.1h1.2M227 379.5h1.2M226.9 378.1h1.2M226.7 390.2h1.2M226.2 378.2h1.2M226.7 376.3h1.2M227.6 376h1.2M227.7 380h1.2M227.5 375.1h1.2M227 374.3h1.2M227 370.2h1.2M226.5 377h1.2M226.6 377.1h1.2M228.1 380.2h1.2M227.3 375h1.2M233.4 379.1h1.2M233.9 375.8h1.2M233.5 380.3h1.2M233.8 369.8h1.2M233.4 373.2h1.2M232.6 378.9h1.2M233.7 377.1h1.2M233.6 376h1.2M233.1 373.3h1.2M233.9 378.1h1.2M232.2 375.7h1.2M233.9 379.3h1.2M232.8 375.6h1.2M233.2 377h1.2M233.7 378.1h1.2M232.4 378.1h1.2M233.1 373.3h1.2M238.1 378.2h1.2M237.8 376.9h1.2M238.4 379.6h1.2M238.1 374.8h1.2M238.5 384.4h1.2M237.5 380.8h1.2M237.7 378.4h1.2M237 385.6h1.2M238.4 379h1.2M238 382.8h1.2M237.2 385.8h1.2M237.2 373.1h1.2M236.6 379.7h1.2M238.2 385.1h1.2M237.4 384.5h1.2M236.8 382h1.2M238.2 373.3h1.2M243.3 381.6h1.2M244.1 378.8h1.2M244.3 378.3h1.2M242.9 374.5h1.2M243.8 374.8h1.2M242.8 367.2h1.2M244.4 367.7h1.2M244.1 370h1.2M243.3 375h1.2M243.9 373.1h1.2M243.1 381.1h1.2M242.6 372.1h1.2M243.5 375.3h1.2M242.7 373.9h1.2M243.4 374.6h1.2M244.2 376.3h1.2M243.6 367.2h1.2M243 357.3h1.2M242.9 358.1h1.2M247.4 382.8h1.2M248.2 377.2h1.2M247.9 376h1.2M246.9 376.3h1.2M248.4 377.9h1.2M248.5 379.8h1.2M248.8 373.9h1.2M248.8 388.9h1.2M248.3 381.9h1.2M247.8 376.1h1.2M247.4 374.2h1.2M248.3 380.8h1.2M247.7 387.5h1.2M247.6 381.2h1.2M247.2 379.2h1.2M248.1 378.7h1.2M248.3 383.7h1.2M248.4 359h1.2M254.2 378h1.2M253.8 375.1h1.2M254.5 376.1h1.2M254.2 378.5h1.2M253.4 376.7h1.2M254.5 370h1.2M253 379.2h1.2M253.4 379.4h1.2M252.9 372.3h1.2M254.7 375h1.2M253.9 369.8h1.2M254.5 376.9h1.2M254.8 381.5h1.2M253.1 367.5h1.2M254.6 375.3h1.2M252.9 371.7h1.2M254.3 378h1.2M257.3 378.9h1.2M258.4 381.8h1.2M258.1 378h1.2M257.5 382.9h1.2M259.1 372.6h1.2M258.6 379.9h1.2M259.2 377h1.2M258.6 379.4h1.2M258.5 379.7h1.2M257.6 376.9h1.2M258.2 379.6h1.2M259.1 374.9h1.2M258.4 379.5h1.2M258.6 375.8h1.2M258.2 377.6h1.2M258 376.7h1.2M257.3 380.9h1.2M257.7 363.7h1.2M264.7 375.1h1.2M263.9 375.4h1.2M264.8 374.2h1.2M263.6 378.8h1.2M265.1 374.2h1.2M263.8 382.5h1.2M264.9 365.2h1.2M264.1 374.1h1.2M264.9 366.5h1.2M264.2 368h1.2M264.9 377.4h1.2M264.1 374.6h1.2M263.4 376.9h1.2M264.9 372.5h1.2M264.1 375.9h1.2M264.8 370.4h1.2M263.5 374.1h1.2M268.8 370.9h1.2M269.6 376.3h1.2M267.9 379.5h1.2M267.8 388.3h1.2M268.9 384.1h1.2M268.1 375.3h1.2M268.1 379.3h1.2M269.6 380.2h1.2M268.7 384.3h1.2M268.3 380.3h1.2M268.4 381.2h1.2M268.1 373.9h1.2M268.2 381.7h1.2M268 378.4h1.2M269.6 381h1.2M269.1 371h1.2M268.4 378.4h1.2M274.9 374.5h1.2M274 376.4h1.2M275.5 380.2h1.2M274.8 374.4h1.2M275 382h1.2M274.7 377.3h1.2M275.6 370.3h1.2M275 371.3h1.2M274.7 378.4h1.2M273.9 372.1h1.2M274.6 376h1.2M273.9 373.3h1.2M275.1 379.6h1.2M274.6 375.4h1.2M274.7 376.5h1.2M275.4 376.8h1.2M274.5 374.4h1.2M274.9 359h1.2M279.2 382.2h1.2M278.7 383.7h1.2M279.9 383h1.2M278.3 373.5h1.2M279.3 380.9h1.2M278.5 378h1.2M279.9 376.9h1.2M278.4 375.6h1.2M278.8 379.3h1.2M280 379.5h1.2M278.7 376.5h1.2M279.1 379.3h1.2M279.8 378.4h1.2M279.1 379.8h1.2M278.2 379.8h1.2M279.9 381.4h1.2M280 375h1.2M284.3 379.2h1.2M284.6 371.8h1.2M285.9 375.7h1.2M285.7 387.5h1.2M285.9 380.8h1.2M285 375.3h1.2M285 374.5h1.2M284.2 380.2h1.2M284.9 378.1h1.2M285.2 372.4h1.2M286 372.7h1.2M284.2 367.3h1.2M285.3 371.5h1.2M284.1 371.4h1.2M285.9 369.2h1.2M284.4 381.3h1.2M285.4 379.6h1.2M289.3 377h1.2M289.5 380.7h1.2M290.3 376.4h1.2M288.8 381.6h1.2M288.5 371.9h1.2M288.6 381.8h1.2M288.7 378.2h1.2M289.3 374.2h1.2M289.7 382.3h1.2M289.8 373.1h1.2M289.9 366.7h1.2M289.5 378.1h1.2M288.8 370.8h1.2M289.4 379.1h1.2M288.7 383.4h1.2M290 376.6h1.2M289.3 378.2h1.2M294.9 374.5h1.2M295.9 375.7h1.2M296.1 365.7h1.2M295.9 375.6h1.2M295.1 370h1.2M295.6 372.9h1.2M295 377.5h1.2M295.5 369.9h1.2M295.5 368.3h1.2M294.7 379.2h1.2M296.1 373.4h1.2M296 378.3h1.2M295.9 373.3h1.2M294.6 372.5h1.2M294.9 376.9h1.2M295.9 378.5h1.2M296 374.2h1.2M300.1 374.7h1.2M299.3 378.3h1.2M300.2 380.4h1.2M299 385.4h1.2M299 376.7h1.2M300.6 374.1h1.2M300.7 373.2h1.2M300.7 375.9h1.2M300.8 379.6h1.2M300.3 388.3h1.2M300 382.4h1.2M299.9 383.4h1.2M299.9 378.7h1.2M300.7 381.6h1.2M300.7 379.9h1.2M299.7 378.4h1.2M299.2 375.6h1.2M306 378.4h1.2M305.3 376.9h1.2M305.1 374.8h1.2M306 371.4h1.2M306.5 378.4h1.2M306.7 374.7h1.2M306.4 367.5h1.2M306.4 372.2h1.2M306 377.3h1.2M305.3 372.4h1.2M305.4 372.3h1.2M306.5 374.5h1.2M305.3 365.2h1.2M305.8 374.5h1.2M305.9 373.6h1.2M304.9 376.5h1.2M305 380.7h1.2M309.7 373.6h1.2M310.9 368.3h1.2M309.3 366.6h1.2M310.3 375.2h1.2M310.6 379.5h1.2M311.2 376.3h1.2M310.7 379.3h1.2M309.4 367.3h1.2M310.5 376.9h1.2M310.5 378.4h1.2M310.4 377.1h1.2M310.4 374.1h1.2M310.5 371.5h1.2M309.2 376.9h1.2M310.2 377.6h1.2M309.4 377.4h1.2M310.8 378.1h1.2M315.2 373.6h1.2M317 373.1h1.2M315.5 371.1h1.2M316.3 371.5h1.2M317 377h1.2M316.7 383.1h1.2M316.4 382.7h1.2M315.8 382.6h1.2M316.5 381.1h1.2M316.8 377.1h1.2M315.6 381.6h1.2M315.6 377.3h1.2M316 378.2h1.2M316.4 369.7h1.2M316.9 363.8h1.2M316.4 367.4h1.2M315.7 373.5h1.2M316.6 351.7h1.2M315.5 357.3h1.2M315.4 361.1h1.2M320.8 374.5h1.2M320.4 360.3h1.2M320.9 379.3h1.2M320.2 379.3h1.2M320 380.5h1.2M320.8 384.6h1.2M321 372.3h1.2M320.3 373.5h1.2M321.4 379.2h1.2M319.7 379.8h1.2M319.9 380.2h1.2M321 385.4h1.2M320.3 384.6h1.2M320.4 386.2h1.2M320.5 379.5h1.2M320.5 377.1h1.2M321.4 378.4h1.2M326 384.3h1.2M326 371.1h1.2M326.9 374h1.2M327.5 377.7h1.2M325.8 379.7h1.2M326.9 375.6h1.2M326.6 372.9h1.2M325.7 371.1h1.2M325.9 381.6h1.2M326.2 374.2h1.2M326.9 375.5h1.2M325.8 371.3h1.2M326.3 376.1h1.2M326.8 379.1h1.2M327.1 382.2h1.2M327.5 384.4h1.2M327.2 382.6h1.2M330.3 374.6h1.2M331 380.5h1.2M330.3 379.7h1.2M331.8 379.1h1.2M331.1 383.8h1.2M331.6 385.1h1.2M331.2 379.6h1.2M330.2 377.6h1.2M330.8 378.9h1.2M330.1 385.7h1.2M330 380.5h1.2M330.3 380.3h1.2M330.5 374.7h1.2M331.9 380h1.2M331 379h1.2M330.4 378.9h1.2M331.5 377.7h1.2M336 370.6h1.2M336.4 379.4h1.2M336.5 372.1h1.2M337.3 377.1h1.2M337.8 375.9h1.2M337.2 375.3h1.2M337.4 376.2h1.2M337.2 371.1h1.2M336.3 376h1.2M336.5 377.5h1.2M337.1 371h1.2M337.4 380.1h1.2M336.8 376.4h1.2M337.3 380.8h1.2M336.6 384h1.2M336.6 367.8h1.2M336.3 377.5h1.2M336.8 359h1.2M337.1 361.6h1.2M341.7 379.6h1.2M342 378.7h1.2M341.5 381.1h1.2M340.8 372.9h1.2M341.2 376.3h1.2M340.9 371h1.2M342.3 378.3h1.2M341.2 380.3h1.2M342 380.8h1.2M341 374.4h1.2M341 376.9h1.2M342.1 374.9h1.2M341.7 381.8h1.2M341.6 370h1.2M342.3 376.3h1.2M342.1 372.9h1.2M341.3 378.2h1.2M341.1 359h1.2M340.8 362.4h1.2M346.5 373.8h1.2M346.8 377.5h1.2M347.1 375h1.2M347.7 374.1h1.2M347.6 371.4h1.2M348 373.8h1.2M347.4 370.3h1.2M346.5 376.1h1.2M346.7 378.3h1.2M347.8 379.7h1.2M346.7 376.6h1.2M347 375.3h1.2M346.5 374h1.2M348.2 365.8h1.2M347.8 376.2h1.2M347.5 372.1h1.2M348.3 378.8h1.2M351.1 375h1.2M351 377h1.2M352.3 375h1.2M351.9 380.3h1.2M352.1 383h1.2M352.1 375.6h1.2M352 377.4h1.2M352.4 379.6h1.2M351.8 374.9h1.2M351.8 375.4h1.2M352.2 376.9h1.2M352.1 380.8h1.2M352.7 383.4h1.2M350.9 378.1h1.2M351 375h1.2M351.7 370.5h1.2M351.9 382.4h1.2M357.1 378.4h1.2M358.1 367.9h1.2M357.2 372.5h1.2M358.1 377h1.2M358.4 382.8h1.2M357.7 377.5h1.2M357.1 376h1.2M357.2 378.3h1.2M357.4 361.2h1.2M356.9 373.8h1.2M356.9 375.7h1.2M357.4 370.2h1.2M357.4 375.3h1.2M358.4 368.7h1.2M357.9 371.3h1.2M357.7 375h1.2M357.7 378.4h1.2M357.9 359h1.2M363 378.1h1.2M361.9 382.2h1.2M362.4 378.9h1.2M362.5 376.7h1.2M362.7 380h1.2M362.6 384.8h1.2M362.8 377.9h1.2M361.8 386h1.2M362.7 376.6h1.2M362.3 379.9h1.2M363 378.6h1.2M361.8 375.6h1.2M362.4 370.9h1.2M362.8 372.2h1.2M362.6 374.1h1.2M362.5 365.6h1.2M361.4 374.4h1.2M367.1 360.2h1.2M368 377.3h1.2M367.3 373.4h1.2M368.3 371.7h1.2M368.2 376.1h1.2M368.3 373.6h1.2M367.6 370.1h1.2M367.6 372h1.2M368.8 370.8h1.2M368.7 374h1.2M368.9 365.9h1.2M368.3 349.4h1.2M368.4 377h1.2M367.9 373.8h1.2M368.5 379.2h1.2M368.3 372.1h1.2M367.2 378.3h1.2M367.9 349.6h1.2M372.5 366.1h1.2M372.7 384.9h1.2M373 381.4h1.2M371.6 372.3h1.2M371.7 377.8h1.2M371.9 377.1h1.2M372.3 375.8h1.2M373.3 377.2h1.2M371.9 374.6h1.2M372.9 376.5h1.2M371.7 377.2h1.2M372.4 375.5h1.2M372.1 379.3h1.2M372.8 381.9h1.2M372.8 374.7h1.2M372.8 379.7h1.2M373.1 375h1.2M378.3 370.8h1.2M378.9 369.9h1.2M379 371.6h1.2M377.9 376.1h1.2M378.2 367.6h1.2M378.2 372.9h1.2M378.7 371.6h1.2M378.6 371.4h1.2M377.7 375.2h1.2M379 376h1.2M378.8 370h1.2M378.3 381.3h1.2M378.2 378.6h1.2M378.7 384.1h1.2M378.5 372.4h1.2M379 382.6h1.2M378.5 370.1h1.2M383.1 375.9h1.2M383.4 379.3h1.2M383.3 374.9h1.2M383.4 377.5h1.2M382.8 374.2h1.2M383.3 373.9h1.2M382.1 379.6h1.2M383.5 370.7h1.2M383.6 377.5h1.2M383.8 375.1h1.2M382.1 372.7h1.2M382 375.5h1.2M383.7 373.9h1.2M382.9 369.4h1.2M383 385.8h1.2M382.4 379h1.2M383.7 376h1.2M387.9 384.4h1.2M388.5 371h1.2M389 378.1h1.2M389.2 378.1h1.2M388.5 374h1.2M389.3 374.3h1.2M388.4 373.6h1.2M388.7 377.9h1.2M388 369.9h1.2M389.3 375.7h1.2M388.7 371.2h1.2M389.6 370.3h1.2M388.7 374.8h1.2M389 373.6h1.2M388.7 373.8h1.2M388.1 363h1.2M389.8 374.9h1.2M392.8 380h1.2M392.5 379.1h1.2M392.4 381.2h1.2M393.2 379.5h1.2M394.2 375.9h1.2M393.2 363h1.2M392.8 376.1h1.2M394.2 376.3h1.2M393.2 372.8h1.2M393.9 384.3h1.2M392.5 375.5h1.2M394 364.1h1.2M393.9 367.7h1.2M393.5 377h1.2M393.3 376.2h1.2M394.3 382.5h1.2M393 375.1h1.2M399.3 368.2h1.2M399.3 373.8h1.2M398.7 366.8h1.2M399.8 378.3h1.2M398.5 369.7h1.2M398.6 376h1.2M398.8 372.6h1.2M398.4 372.2h1.2M398.7 379.1h1.2M398.7 370.4h1.2M399.2 375.2h1.2M399.9 377h1.2M400.1 370.8h1.2M400 360.9h1.2M399.5 375.3h1.2M400 377h1.2M398.8 375.2h1.2M400.1 349.6h1.2M398.4 353.9h1.2M399.6 358.1h1.2M402.9 379.9h1.2M403.5 373.2h1.2M404.4 374.2h1.2M404.4 375.8h1.2M403.3 374.5h1.2M403.6 385.4h1.2M403 372.6h1.2M403.7 381.7h1.2M403.4 380.9h1.2M404.2 379.1h1.2M403.5 381.2h1.2M403.8 386.6h1.2M404.2 377.2h1.2M403.1 383.1h1.2M403.8 378.8h1.2M404.3 370.3h1.2M403.6 379.1h1.2M403.6 349.6h1.2M403.5 356h1.2M402.9 396.6h1.2M409.9 369.3h1.2M409.7 373.3h1.2M410.4 368h1.2M409.8 372.2h1.2M408.7 378h1.2M410.3 375.2h1.2M408.8 374.7h1.2M410 371.4h1.2M409.1 373.8h1.2M410.5 373.5h1.2M409.1 376.2h1.2M410.6 368.3h1.2M408.8 377.3h1.2M408.8 379.2h1.2M409.7 376.8h1.2M409.4 381.9h1.2M410.2 374.2h1.2M410.1 357.3h1.2M410 360.3h1.2M409.6 362.4h1.2M414.2 377.8h1.2M414 378.6h1.2M414.7 381.3h1.2M414 379.6h1.2M414.4 376.4h1.2M414.4 377.2h1.2M414.8 379h1.2M413.7 381.9h1.2M413.5 380.9h1.2M414.7 382.8h1.2M414.4 377.1h1.2M413.3 376.8h1.2M414.9 379.4h1.2M415 377.4h1.2M414.1 380.1h1.2M413.5 388.3h1.2M413.6 378.1h1.2M414.6 356h1.2M420.5 378.7h1.2M419.6 370.4h1.2M419.1 373.2h1.2M419.3 375.1h1.2M420.4 376.9h1.2M421 370.4h1.2M420.2 379.3h1.2M420.3 377.3h1.2M419.4 377.3h1.2M420.4 368h1.2M419.1 371.3h1.2M420.8 369.5h1.2M420.6 377h1.2M420 379.3h1.2M420.9 371.7h1.2M420.1 377.3h1.2M420.1 372.5h1.2M419.1 353.9h1.2M424.1 376.8h1.2M423.9 378.1h1.2M423.6 376.7h1.2M423.8 379h1.2M423.5 375.6h1.2M423.5 379.9h1.2M423.7 374h1.2M424.5 374.1h1.2M424.4 379.1h1.2M425.2 363.7h1.2M424.4 369.1h1.2M423.6 376.2h1.2M423.8 374.1h1.2M424.8 376.5h1.2M425.4 379.2h1.2M424.9 373.5h1.2M423.9 375.4h1.2M430.2 376.7h1.2M430.7 380.6h1.2M429.9 371.2h1.2M429.6 375.5h1.2M431.2 367.1h1.2M430.1 373.5h1.2M429.6 374.1h1.2M430.2 373.9h1.2M431.1 379.5h1.2M429.9 381.4h1.2M430.1 380.1h1.2M429.8 370.2h1.2M429.5 375.8h1.2M430 378.6h1.2M430 367.7h1.2M430.4 378.1h1.2M430 369.8h1.2M434.3 380.8h1.2M435.7 376.6h1.2M434.4 382.7h1.2M434.5 375.2h1.2M434 377.9h1.2M435.6 359.3h1.2M435.5 379.7h1.2M434 374.8h1.2M434.1 379.6h1.2M434.4 377.5h1.2M433.9 367h1.2M434.8 379.9h1.2M435.5 386.1h1.2M435.3 380.7h1.2M434.8 373.6h1.2M435.8 376.6h1.2M434.4 381.2h1.2M441.1 376.4h1.2M440.4 377.5h1.2M439.9 386.4h1.2M440 373.9h1.2M440.8 383.9h1.2M441.7 374.6h1.2M441.6 377h1.2M441.7 378.1h1.2M441.3 376.2h1.2M439.9 374.7h1.2M441.3 371.7h1.2M440.6 375.6h1.2M440.9 366h1.2M440 372.2h1.2M440.3 374.8h1.2M440.1 378.3h1.2M441.3 376.6h1.2M445 373.6h1.2M445.2 382.9h1.2M444.8 383.4h1.2M445 372.6h1.2M445 380.8h1.2M444.4 374.9h1.2M445.8 380h1.2M445.1 367.3h1.2M445.1 384h1.2M444.8 380.7h1.2M446 380.1h1.2M446.1 386.2h1.2M444.5 371.8h1.2M445.3 377.9h1.2M444.5 378.5h1.2M445 378h1.2M445 379.9h1.2M452.1 374.7h1.2M451.5 376h1.2M451.2 375h1.2M451 374.9h1.2M450.8 372.7h1.2M451.2 369.8h1.2M451.7 379.3h1.2M451.6 372.9h1.2M450.2 381.3h1.2M451.2 372h1.2M451.9 378.2h1.2M450.5 377.7h1.2M451.2 373.4h1.2M451.3 381.2h1.2M451 377.8h1.2M450.5 372.1h1.2M451.5 368.2h1.2M455.3 382h1.2M456.3 380.9h1.2M456.4 377.8h1.2M454.7 381.6h1.2M455.8 379h1.2M456.1 377.4h1.2M455.6 375.7h1.2M455.4 379.7h1.2M456 382h1.2M454.9 378.2h1.2M455.6 379.2h1.2M455 388.9h1.2M456.3 371.3h1.2M456.2 382.9h1.2M455.4 379.2h1.2M456.2 384.2h1.2M455.7 380.2h1.2M461.6 374h1.2M462.2 375h1.2M460.8 377.6h1.2M462 379.2h1.2M461.1 372.8h1.2M460.8 368.2h1.2M461.5 376.2h1.2M460.8 372.4h1.2M461.5 381.3h1.2M460.9 368.9h1.2M461.5 376.1h1.2M460.9 375.5h1.2M462.5 374.3h1.2M461 379.3h1.2M461.5 376h1.2M461.8 377h1.2M461.9 381h1.2M460.8 357.3h1.2M465.2 378.6h1.2M466.5 373.8h1.2M465.9 376h1.2M465.3 379.4h1.2M466.7 384.6h1.2M465.5 375h1.2M466.8 379.5h1.2M465.8 374.2h1.2M466.1 375.1h1.2M465.9 375.1h1.2M466.5 375.8h1.2M465.7 364.3h1.2M466 374.7h1.2M465.5 383.1h1.2M465.7 376.5h1.2M465.2 376.7h1.2M465.5 377.9h1.2M472.4 376.5h1.2M471.5 376.8h1.2M471 365.2h1.2M472.1 371h1.2M471.6 370.3h1.2M471.4 376.2h1.2M471.8 371.1h1.2M472.8 375.3h1.2M472.1 374.4h1.2M472.4 375.9h1.2M471.1 372.7h1.2M472 371.9h1.2M472.3 373.5h1.2M472.7 371.6h1.2M472.5 373.9h1.2M471.1 379h1.2M472.9 381.7h1.2M471 349.6h1.2M476.6 380.4h1.2M476.3 359.4h1.2M475.4 378.5h1.2M477 376.8h1.2M476.1 378.6h1.2M475.9 373.9h1.2M476.8 374.7h1.2M476 371.9h1.2M475.7 375.2h1.2M476.9 359.2h1.2M477.3 365.9h1.2M475.7 372.5h1.2M476.5 377.3h1.2M476.4 359h1.2M476.7 376.5h1.2M476.4 374.7h1.2M476.5 376.8h1.2M483 375h1.2M481.7 381.7h1.2M482.2 376.8h1.2M481.8 380.5h1.2M483.2 374.4h1.2M482.3 388.3h1.2M483 375.6h1.2M481.9 371.7h1.2M482.5 380.1h1.2M482.8 375.5h1.2M482 371h1.2M481.9 376.4h1.2M481.5 382.5h1.2M482.6 372.9h1.2M482.2 375.9h1.2M481.8 369.3h1.2M482 370.3h1.2M482 353.9h1.2M487.5 375.9h1.2M486.4 376.4h1.2M486.8 374.3h1.2M487.6 368.6h1.2M486.5 386.2h1.2M487.2 380.7h1.2M486.7 383h1.2M486.8 375.4h1.2M486.9 378.6h1.2M486.2 374h1.2M487.6 377.2h1.2M486 376h1.2M485.9 378.2h1.2M487 378.3h1.2M486.2 377.9h1.2M487.5 374.9h1.2M487.6 375.3h1.2M492.9 368.5h1.2M492 366.9h1.2M491.8 380.9h1.2M493.6 377.1h1.2M493.2 373.8h1.2M493.6 368.4h1.2M492.4 373.4h1.2M493.2 373.3h1.2M493.4 379.1h1.2M493 372.1h1.2M491.8 379.5h1.2M492.3 378.6h1.2M492.5 382.6h1.2M492.6 370h1.2M492.9 376.1h1.2M492.1 374.1h1.2M492.2 375.1h1.2M496.6 373.9h1.2M498.1 377.7h1.2M497.8 376.2h1.2M497.9 384.1h1.2M497 376.6h1.2M497.2 382.3h1.2M497.3 378.3h1.2M496.6 380.3h1.2M496.3 382h1.2M497 376.8h1.2M497.4 376.5h1.2M497.3 377.2h1.2M497.3 385.8h1.2M496.7 375.1h1.2M496.3 373.9h1.2M497.7 378.5h1.2M497.9 377.1h1.2M504 371.9h1.2M502.2 366.3h1.2M503.9 379h1.2M504.1 370.5h1.2M502.4 367.8h1.2M503.9 377.8h1.2M503.9 379.2h1.2M502.4 371.1h1.2M503.1 375.9h1.2M503.9 378.2h1.2M502.8 384.8h1.2M502.2 371.3h1.2M503.8 367.6h1.2M503.4 374.5h1.2M503.5 377.7h1.2M502.9 377.4h1.2M503 373.7h1.2M502.8 357.3h1.2M503.4 359.4h1.2M504 362.4h1.2M508.1 372.5h1.2M508.2 380.2h1.2M507.1 378.2h1.2M507.2 376.1h1.2M507.2 367h1.2M507.1 376.1h1.2M507.2 367.1h1.2M506.6 380.5h1.2M507.7 376.4h1.2M507.8 380.1h1.2M506.6 372.8h1.2M506.7 371h1.2M508.4 371.4h1.2M507.9 376.3h1.2M507.9 369h1.2M507 384.5h1.2M508.4 367.5h1.2M514.1 372.4h1.2M514 373.2h1.2M512.9 375h1.2M513.8 380.6h1.2M514.3 379.7h1.2M513.2 373.9h1.2M513 370.2h1.2M514 378.6h1.2M513.7 373.7h1.2M513.3 375.5h1.2M512.5 371.5h1.2M513.1 376.1h1.2M513.9 376h1.2M512.9 370h1.2M513.5 378.7h1.2M514 367.1h1.2M513.2 378.3h1.2M518.7 375.9h1.2M518.5 370h1.2M517.8 369.9h1.2M518.2 370h1.2M517 376.9h1.2M518.8 368.1h1.2M517.5 388.1h1.2M517.3 374.7h1.2M517.9 381.7h1.2M517.9 377.2h1.2M517.9 384.9h1.2M518.3 381.2h1.2M517.3 371.7h1.2M518.5 374.5h1.2M517.6 367.5h1.2M517.7 384.5h1.2M518.7 383.1h1.2M524 374.2h1.2M523.9 380.5h1.2M524.5 384.4h1.2M524.6 376.6h1.2M523.8 383.6h1.2M523.6 373.1h1.2M523 376.7h1.2M523.9 380.2h1.2M523.8 376.4h1.2M523.9 377.2h1.2M523.5 367h1.2M524.2 377.1h1.2M524 372.8h1.2M523.4 383.7h1.2M524.4 387.4h1.2M524.8 376h1.2M524.5 367.7h1.2M528 383.6h1.2M527.7 376.9h1.2M528.1 378.7h1.2M529.1 377h1.2M529 371.9h1.2M527.4 368.1h1.2M527.7 377.5h1.2M527.8 370.3h1.2M528.8 364.3h1.2M528.7 376.4h1.2M527.6 368.5h1.2M528.9 381.6h1.2M529 376.9h1.2M528.9 382h1.2M528 369.6h1.2M528.9 362.6h1.2M527.8 390.5h1.2" stroke="#000" stroke-width="1.15" fill="none"/>
<path d="M115.35 332.5V418.6H535.9" stroke="#000" stroke-width="1.2" fill="none" stroke-linejoin="miter"/>
<path d="M111.35 418.6H115.35" stroke="#000" stroke-width="1.14"/>
<path d="M111.35 397.23H115.35" stroke="#000" stroke-width="1.14"/>
<path d="M111.35 375.85H115.35" stroke="#000" stroke-width="1.14"/>
<path d="M111.35 354.48H115.35" stroke="#000" stroke-width="1.14"/>
<path d="M111.35 333.1H115.35" stroke="#000" stroke-width="1.14"/>
<rect x="464.4" y="318.3" width="8.1" height="7.9" fill="#dbdb9b" stroke="#2c2c22" stroke-width="1"/>
<rect x="464.4" y="330.45" width="8.1" height="7.9" fill="#8f8239" stroke="#2c2c22" stroke-width="1"/>
<path d="M35.52 570.45V527.1H42.1V570.45zM51.73 570.45V527.79H58.31V570.45zM67.95 570.45V527.57H74.52V570.45zM84.16 570.45V527.64H90.73V570.45zM100.36 570.45V527.2H106.94V570.45zM116.58 570.45V527.25H123.15V570.45zM132.79 570.45V527.45H139.36V570.45zM149 570.45V529.64H155.57V570.45zM165.21 570.45V527.66H171.78V570.45zM181.42 570.45V527.4H187.99V570.45zM197.63 570.45V527.87H204.2V570.45zM213.84 570.45V527.28H220.41V570.45zM230.05 570.45V527.08H236.62V570.45zM246.26 570.45V527.51H252.83V570.45zM262.47 570.45V527.51H269.04V570.45zM278.68 570.45V527.4H285.25V570.45zM294.89 570.45V527.58H301.46V570.45zM311.1 570.45V527.1H317.67V570.45zM327.31 570.45V527.72H333.88V570.45zM343.52 570.45V527.49H350.09V570.45zM359.73 570.45V527.31H366.3V570.45zM375.94 570.45V527.26H382.51V570.45zM392.15 570.45V527.64H398.72V570.45z" fill="#c8c083" stroke="#151208" stroke-width="0.85"/>
<path d="M42.1 570.45V531.82H48.68V570.45zM58.31 570.45V530.06H64.89V570.45zM74.52 570.45V530.69H81.1V570.45zM90.73 570.45V531.38H97.31V570.45zM106.94 570.45V530.67H113.52V570.45zM123.15 570.45V529.48H129.72V570.45zM139.36 570.45V529.51H145.94V570.45zM155.57 570.45V527.48H162.14V570.45zM171.78 570.45V529.3H178.35V570.45zM187.99 570.45V529.39H194.56V570.45zM204.2 570.45V529.48H210.78V570.45zM220.41 570.45V529.97H226.98V570.45zM236.62 570.45V530.14H243.19V570.45zM252.83 570.45V530.06H259.41V570.45zM269.04 570.45V530.05H275.62V570.45zM285.25 570.45V529.25H291.82V570.45zM301.46 570.45V529.18H308.04V570.45zM317.67 570.45V528.82H324.25V570.45zM333.88 570.45V529.51H340.46V570.45zM350.09 570.45V529.5H356.67V570.45zM366.3 570.45V528.81H372.88V570.45zM382.51 570.45V528.87H389.09V570.45zM398.72 570.45V528.59H405.3V570.45z" fill="#8f8239" stroke="#151208" stroke-width="0.85"/>
<path d="M38.6 525.6V527.8M36.5 525.6h4.2M36.5 527.8h4.2M45.6 530.4V532.4M43.5 530.4h4.2M43.5 532.4h4.2M54.8 525.3V529.4M52.7 525.3h4.2M52.7 529.4h4.2M61.8 528V531.3M59.7 528h4.2M59.7 531.3h4.2M71 525.6V528.7M68.9 525.6h4.2M68.9 528.7h4.2M78 528.5V532.1M75.9 528.5h4.2M75.9 532.1h4.2M87.2 525.9V528.5M85.1 525.9h4.2M85.1 528.5h4.2M94.2 529.4V532.5M92.1 529.4h4.2M92.1 532.5h4.2M103.4 525.1V528.5M101.3 525.1h4.2M101.3 528.5h4.2M110.4 528.7V531.8M108.3 528.7h4.2M108.3 531.8h4.2M119.7 525.1V528.5M117.6 525.1h4.2M117.6 528.5h4.2M126.7 527.4V530.7M124.6 527.4h4.2M124.6 530.7h4.2M135.9 525.8V528.3M133.8 525.8h4.2M133.8 528.3h4.2M142.9 527.6V530.6M140.8 527.6h4.2M140.8 530.6h4.2M152.1 528V530.5M150 528h4.2M150 530.5h4.2M159.1 524.9V529.2M157 524.9h4.2M157 529.2h4.2M168.3 525.3V529.2M166.2 525.3h4.2M166.2 529.2h4.2M175.3 527.4V530.3M173.2 527.4h4.2M173.2 530.3h4.2M184.5 525.1V528.8M182.4 525.1h4.2M182.4 528.8h4.2M191.5 527.1V530.8M189.4 527.1h4.2M189.4 530.8h4.2M200.7 525.4V529.5M198.6 525.4h4.2M198.6 529.5h4.2M207.7 527.1V531M205.6 527.1h4.2M205.6 531h4.2M216.9 524.8V528.9M214.8 524.8h4.2M214.8 528.9h4.2M223.9 528.3V530.8M221.8 528.3h4.2M221.8 530.8h4.2M233.1 525.3V528M231 525.3h4.2M231 528h4.2M240.1 528.2V531.3M238 528.2h4.2M238 531.3h4.2M249.3 525V529.2M247.2 525h4.2M247.2 529.2h4.2M256.3 528.1V531.2M254.2 528.1h4.2M254.2 531.2h4.2M265.5 525.9V528.2M263.4 525.9h4.2M263.4 528.2h4.2M272.5 528.3V530.9M270.4 528.3h4.2M270.4 530.9h4.2M281.8 525.7V528.3M279.6 525.7h4.2M279.6 528.3h4.2M288.8 527.2V530.4M286.6 527.2h4.2M286.6 530.4h4.2M298 526.1V528.3M295.9 526.1h4.2M295.9 528.3h4.2M305 527V530.5M302.9 527h4.2M302.9 530.5h4.2M314.2 524.7V528.7M312.1 524.7h4.2M312.1 528.7h4.2M321.2 526.9V529.9M319.1 526.9h4.2M319.1 529.9h4.2M330.4 525.7V528.9M328.3 525.7h4.2M328.3 528.9h4.2M337.4 527.8V530.4M335.3 527.8h4.2M335.3 530.4h4.2M346.6 525.9V528.2M344.5 525.9h4.2M344.5 528.2h4.2M353.6 527.5V530.6M351.5 527.5h4.2M351.5 530.6h4.2M362.8 525.1V528.7M360.7 525.1h4.2M360.7 528.7h4.2M369.8 527.2V529.6M367.7 527.2h4.2M367.7 529.6h4.2M379 525.5V528.2M376.9 525.5h4.2M376.9 528.2h4.2M386 526.7V530.2M383.9 526.7h4.2M383.9 530.2h4.2M395.2 525.2V529.2M393.1 525.2h4.2M393.1 529.2h4.2M402.2 527.1V529.2M400.1 527.1h4.2M400.1 529.2h4.2" stroke="#000" stroke-width="0.6" fill="none"/>
<path d="M37.8 533.5h1.2M39 523.3h1.2M39.3 526.6h1.2M38.3 531.9h1.2M39 525.8h1.2M39.4 527.1h1.2M36.5 524.2h1.2M38.4 529.4h1.2M36.7 522.9h1.2M38 526.9h1.2M37.9 526.9h1.2M37.6 518.9h1.2M36.7 527.6h1.2M38.4 518.5h1.2M37.5 524.9h1.2M39.3 529.5h1.2M37.2 531.1h1.2M38.9 516.2h1.2M43.9 532.4h1.2M44.8 535.9h1.2M46.5 531.7h1.2M43.6 532.8h1.2M45 526.3h1.2M44.4 530.5h1.2M46.4 529.3h1.2M44.9 533.1h1.2M44 526.9h1.2M44.4 530.4h1.2M46 523h1.2M45.9 526.4h1.2M43.9 529.2h1.2M45.1 531.2h1.2M46.3 522.8h1.2M45.1 531.4h1.2M46.3 529.5h1.2M44.6 517.5h1.2M44.6 543.5h1.2M53.7 535h1.2M52.8 523.4h1.2M54.8 526h1.2M53.4 523.9h1.2M54.8 522h1.2M54.7 530h1.2M55.3 532h1.2M52.9 530.3h1.2M54.2 529.9h1.2M53.7 531.4h1.2M53.7 527.2h1.2M53.5 530h1.2M55.2 524.7h1.2M54.1 522.4h1.2M54.4 534.4h1.2M53 525.4h1.2M54.4 522h1.2M60.7 532.2h1.2M60.7 531.4h1.2M60.3 528h1.2M60.4 527.1h1.2M60.4 529.2h1.2M62.4 529.6h1.2M61.1 540.2h1.2M61.4 533.1h1.2M60.7 528.7h1.2M62.6 523.7h1.2M61.5 533.7h1.2M60.2 534.6h1.2M61.8 528.5h1.2M59.7 529.8h1.2M62.7 533.5h1.2M62 528.8h1.2M60.3 528.8h1.2M71 526.2h1.2M69.9 532.8h1.2M70.1 525h1.2M71.6 527.7h1.2M71.1 524.6h1.2M70.5 525.1h1.2M70.8 527.7h1.2M70.3 530.1h1.2M70.5 531.9h1.2M69 528.8h1.2M70.6 523.9h1.2M69.6 523.3h1.2M71.9 527.6h1.2M71.4 526.6h1.2M69 524.2h1.2M69.2 528.6h1.2M70.1 533.8h1.2M69.2 511h1.2M78.7 532h1.2M77 525.8h1.2M78.7 528h1.2M78.3 528.7h1.2M78 528.6h1.2M76.9 523h1.2M76.7 528h1.2M76.8 528.7h1.2M78 534.1h1.2M77.3 531.5h1.2M76.6 535h1.2M76.3 531.8h1.2M78.4 530.4h1.2M76.5 526.7h1.2M76.4 533.3h1.2M77.5 534.8h1.2M76 530.5h1.2M77.1 515.3h1.2M85.7 532.1h1.2M86.6 529.5h1.2M86.4 526.2h1.2M85.8 526.7h1.2M87.1 528.7h1.2M85.5 529.6h1.2M87.8 534.2h1.2M86.7 534.2h1.2M87.9 528.2h1.2M86.9 526h1.2M86.5 528.3h1.2M87.4 532h1.2M87.3 526.4h1.2M85.3 528.2h1.2M87.5 527.9h1.2M85.6 518.8h1.2M85.1 517.4h1.2M88 485.8h1.2M87.5 506.2h1.2M94.8 530.8h1.2M94.9 529.2h1.2M92.5 531.8h1.2M92.4 537.9h1.2M94.3 532h1.2M95.1 532h1.2M93.4 520.3h1.2M94.7 527.1h1.2M95 533.5h1.2M92.5 533.1h1.2M94.7 526.5h1.2M93.9 531.2h1.2M92.3 534h1.2M94.8 531.1h1.2M94.5 519.5h1.2M93.1 529.7h1.2M93.7 530.3h1.2M103 519.6h1.2M104.1 526.2h1.2M102.2 527.4h1.2M103.8 521.2h1.2M104.2 527.9h1.2M104.2 532.7h1.2M102.6 535.9h1.2M101.6 522.1h1.2M101.4 524.5h1.2M103.5 526.6h1.2M101.8 526.9h1.2M101.8 523.2h1.2M102.8 525.5h1.2M101.7 527.6h1.2M104.1 530.2h1.2M103 528.5h1.2M104.2 528.4h1.2M108.4 532.5h1.2M109.4 531.1h1.2M109.2 529.5h1.2M109.3 528.2h1.2M110.9 529.5h1.2M110 533.3h1.2M111.4 534.5h1.2M109.2 526.8h1.2M108.5 528.3h1.2M110.6 531.4h1.2M110.5 533.2h1.2M110.8 530.3h1.2M109.4 528.9h1.2M110.8 532.4h1.2M108.6 531.2h1.2M110.5 530.3h1.2M110.4 532.1h1.2M118.9 517.2h1.2M118.5 532.7h1.2M119.4 529.9h1.2M119.1 519.6h1.2M118.6 528.7h1.2M119.1 528.4h1.2M119.8 527.9h1.2M120.1 533.8h1.2M120.2 533.3h1.2M119.9 533h1.2M119.7 522.1h1.2M118.3 526.8h1.2M120 526.7h1.2M119.1 527.9h1.2M118.8 523.6h1.2M120 533.1h1.2M118.5 515.7h1.2M126.9 522.6h1.2M124.9 534.3h1.2M127 529.2h1.2M125.9 527.2h1.2M127.3 535.1h1.2M126.7 534.3h1.2M124.9 529h1.2M126.3 533.7h1.2M125.1 533.2h1.2M125.7 524.5h1.2M124.7 524.8h1.2M127.4 532.1h1.2M126.2 529.5h1.2M126 529.9h1.2M127.3 535.2h1.2M124.6 522h1.2M126.7 528.2h1.2M127 515.3h1.2M136.3 524.8h1.2M134.5 522.9h1.2M133.8 525.8h1.2M136.7 532.8h1.2M135.6 532.1h1.2M135.2 526.4h1.2M133.8 533.7h1.2M133.8 517h1.2M136.1 521.6h1.2M136.5 527.1h1.2M134.9 528.7h1.2M135.6 519.7h1.2M134 535.8h1.2M136.8 531.8h1.2M134.9 526.1h1.2M134.4 518.7h1.2M133.8 532.4h1.2M141.3 528.4h1.2M141.3 526h1.2M140.9 529.8h1.2M143.5 528.1h1.2M141.7 522.6h1.2M141.6 527.7h1.2M143.3 524.8h1.2M141.7 530.4h1.2M143.3 526.2h1.2M143.2 528.4h1.2M143.7 534.6h1.2M141.2 530.4h1.2M140.8 536.9h1.2M143.6 532.3h1.2M142.8 528.3h1.2M143.2 517h1.2M140.7 528.4h1.2M151.5 528.1h1.2M152.3 530.8h1.2M151.5 532.7h1.2M150.7 524.7h1.2M150.7 528.2h1.2M151.9 524.5h1.2M152.4 521h1.2M150.2 526.7h1.2M152.7 528.8h1.2M151.2 523.6h1.2M152.9 541.2h1.2M152.3 531.8h1.2M153 527.7h1.2M152.3 524.2h1.2M150.5 530.1h1.2M151.7 522.1h1.2M152.7 525.6h1.2M160 527.7h1.2M159.5 531.9h1.2M158.6 531.8h1.2M158.9 523.7h1.2M158.9 524.6h1.2M159.3 528.3h1.2M159.5 526h1.2M159.9 519.6h1.2M159.8 518.7h1.2M158 525.2h1.2M159.9 520.8h1.2M157.7 525.6h1.2M157.3 527.5h1.2M158.9 531.4h1.2M157.1 529.3h1.2M159.6 532h1.2M159.9 522.8h1.2M167.9 519.1h1.2M166.2 529.5h1.2M168.5 536.8h1.2M166.6 528.8h1.2M166.6 525.6h1.2M166.6 525.2h1.2M168.5 524.3h1.2M168.8 526.8h1.2M167.6 525.8h1.2M167.8 526.1h1.2M168.6 526.8h1.2M168.4 534.2h1.2M168.3 525.8h1.2M168.4 532.1h1.2M167.6 528.7h1.2M169.2 528.1h1.2M166.8 528.9h1.2M175.3 533.7h1.2M173.5 528.7h1.2M174 531.7h1.2M173.4 527.5h1.2M175.6 527.1h1.2M175.1 532.3h1.2M174.2 524.7h1.2M174.9 530.2h1.2M174.7 525.9h1.2M173.9 527.7h1.2M174.8 519.6h1.2M173.2 516.1h1.2M175.4 528.5h1.2M176.1 518.7h1.2M173.6 537.7h1.2M174.5 526.6h1.2M175 528.8h1.2M183.9 520.3h1.2M182.4 527.9h1.2M183.8 525.9h1.2M185.1 529.3h1.2M182.9 522h1.2M184.1 528.7h1.2M183.2 526h1.2M184 524h1.2M184.7 529.5h1.2M183.4 521.8h1.2M182.9 523.9h1.2M183.7 521.3h1.2M185.4 523.2h1.2M182.4 526.4h1.2M183.3 526.1h1.2M183 529.7h1.2M183.8 536.2h1.2M189.6 527.5h1.2M190.1 528.2h1.2M190.7 528.4h1.2M192.1 523.2h1.2M191 532.1h1.2M190.9 532.8h1.2M189.9 530.9h1.2M192 530.1h1.2M191.4 529.8h1.2M192.1 522.3h1.2M191.7 528.8h1.2M191.5 516h1.2M192 532.3h1.2M190.4 524h1.2M190 529.9h1.2M189.8 525.2h1.2M190.4 527.1h1.2M201.5 528.6h1.2M200.9 527.2h1.2M200.7 524.4h1.2M201.6 530.2h1.2M200.4 520.9h1.2M199.4 529.1h1.2M199.8 528.7h1.2M201.4 530.9h1.2M200.7 522.3h1.2M201.4 517.9h1.2M198.8 520.4h1.2M200.8 522.3h1.2M199.5 528.8h1.2M199 530.8h1.2M200.9 529.1h1.2M200.2 526.8h1.2M200.8 530.9h1.2M200.2 508.4h1.2M208.5 518.4h1.2M207.7 536h1.2M208.5 522.4h1.2M207.5 530.3h1.2M206.8 519h1.2M206.1 535.3h1.2M207.6 524.6h1.2M208.5 532h1.2M208.5 525.1h1.2M208.6 530.3h1.2M206.9 527.1h1.2M207.7 538.9h1.2M208.6 531.3h1.2M207.8 525.9h1.2M208.2 528.1h1.2M208.2 522.7h1.2M207.3 528.4h1.2M216.1 527.2h1.2M215.2 521.3h1.2M216.7 525h1.2M217.5 534.5h1.2M215.6 524.2h1.2M215 526.1h1.2M216.5 524.2h1.2M215.5 533h1.2M216.7 527.2h1.2M215 524.3h1.2M216.4 524.9h1.2M217.7 524.4h1.2M217.6 523.7h1.2M216.4 534.7h1.2M215.5 526.1h1.2M216.7 528h1.2M216.4 526.6h1.2M224.1 527.7h1.2M222.7 529.3h1.2M224.8 533.6h1.2M222.2 526.4h1.2M223.8 531h1.2M224.5 526.4h1.2M224.6 526.3h1.2M222.7 532h1.2M222.8 532.1h1.2M224.5 526.2h1.2M222.3 527.8h1.2M223.8 522.2h1.2M224 530h1.2M223 523h1.2M223.1 524.8h1.2M224.1 518.8h1.2M223.9 530.3h1.2M234 527.3h1.2M232 530h1.2M232.4 527.7h1.2M232.8 521.2h1.2M231.7 536.3h1.2M233.9 526.3h1.2M233.3 526.3h1.2M234 526.1h1.2M232.2 521.5h1.2M232.5 528.3h1.2M232.6 528h1.2M231.3 527h1.2M231.8 519.5h1.2M233 529.8h1.2M233.8 524.2h1.2M231.2 525.6h1.2M232 521.3h1.2M238.1 544.8h1.2M240 533.5h1.2M239 530.8h1.2M239.4 530.1h1.2M240 528.1h1.2M238.4 529.8h1.2M238.4 536.2h1.2M239.9 527.6h1.2M240.5 534.7h1.2M240 533.7h1.2M239 530.2h1.2M240.8 524.5h1.2M238.8 528.5h1.2M241 536.1h1.2M238.8 529.1h1.2M240.8 533.5h1.2M239.1 534.1h1.2M248.7 530.1h1.2M249.5 529.4h1.2M248.8 523.4h1.2M248.1 530.9h1.2M250.1 529.1h1.2M248.7 526.9h1.2M247.7 524.4h1.2M248.9 527.6h1.2M248.8 521.5h1.2M247.5 535.1h1.2M247.3 531.4h1.2M248.7 527.1h1.2M249.4 523.8h1.2M248.3 527.5h1.2M249.2 526.8h1.2M248 523.1h1.2M249.4 524.8h1.2M249.6 514.9h1.2M254.4 522.8h1.2M255 529.8h1.2M255.8 527.8h1.2M254.2 533.8h1.2M257 528.7h1.2M254.2 533.4h1.2M257.1 530.5h1.2M254.8 532h1.2M255.3 531.6h1.2M257 521.6h1.2M257.1 535.7h1.2M254.5 530.1h1.2M255.6 535.2h1.2M254.7 529h1.2M255.5 527.9h1.2M255.6 528.3h1.2M254.4 531.6h1.2M264.8 526.4h1.2M265.2 526.7h1.2M265.5 527.1h1.2M263.7 522.1h1.2M266.4 520.7h1.2M263.5 524.9h1.2M263.8 527h1.2M265.6 529.5h1.2M264.4 534.4h1.2M265.4 528.7h1.2M265.1 523.5h1.2M264.9 526.5h1.2M265 531.1h1.2M265.9 528.1h1.2M264.6 526.6h1.2M265.8 526h1.2M265.2 524.3h1.2M266.1 494.5h1.2M263.7 512.7h1.2M272.1 530.6h1.2M271.6 527.5h1.2M270.7 524.9h1.2M271.2 524.1h1.2M270.7 526h1.2M270.6 527h1.2M272.8 519.4h1.2M272 526h1.2M271.5 528.4h1.2M272.6 528.7h1.2M271.4 528h1.2M273.2 528.5h1.2M271.1 525.2h1.2M271 536.4h1.2M271.1 529.6h1.2M273.3 533.1h1.2M273.1 536.2h1.2M280.6 528.9h1.2M281.3 522.6h1.2M280 526.7h1.2M282.7 519.1h1.2M280.6 536.8h1.2M280.9 523.1h1.2M281.3 528h1.2M281.4 530.6h1.2M280 529.6h1.2M280 524.3h1.2M282.2 534.2h1.2M282.6 520.6h1.2M281.1 528.9h1.2M279.8 527.2h1.2M282.6 526.3h1.2M280.1 528.8h1.2M282.1 528.6h1.2M281.5 512.7h1.2M287.9 525.5h1.2M287.7 530.8h1.2M288.9 530.1h1.2M287.4 539h1.2M289 531.5h1.2M289.4 531.1h1.2M288.7 527.1h1.2M288.9 531.5h1.2M288.5 532.1h1.2M287.3 524.8h1.2M289 529h1.2M287.3 528.5h1.2M289.5 531.9h1.2M287 531.5h1.2M287.2 523.7h1.2M289.3 528.9h1.2M289.5 529.9h1.2M297.3 525.4h1.2M297.8 526.6h1.2M298.2 532.1h1.2M298.1 528.1h1.2M296.3 522.9h1.2M298.9 525.3h1.2M295.9 523.6h1.2M296.4 527.3h1.2M297.8 531.5h1.2M297.8 519.8h1.2M297 525.8h1.2M297.9 514.7h1.2M297.2 531.1h1.2M296.8 528.2h1.2M296.8 529.9h1.2M297.1 526.1h1.2M296.2 527.1h1.2M305.3 527.4h1.2M303 534.9h1.2M304.5 533.5h1.2M304.2 526.3h1.2M303 525.1h1.2M303.7 527.9h1.2M302.8 530.2h1.2M305 532.6h1.2M303.5 528.6h1.2M303.4 531.7h1.2M305.5 530.5h1.2M303.6 526.5h1.2M304.9 538.9h1.2M304.9 530.6h1.2M304.8 527.3h1.2M303.1 537h1.2M303.5 527.4h1.2M313.9 527.1h1.2M314.9 527.1h1.2M313.9 523.9h1.2M312.8 528.4h1.2M312.7 528.6h1.2M314.5 524.8h1.2M312.8 532.3h1.2M314.9 527.9h1.2M313.4 528.6h1.2M312.3 521.9h1.2M314.3 533.4h1.2M314.3 521.6h1.2M314.1 527.1h1.2M312.1 532.4h1.2M313.2 531.7h1.2M313.5 522.7h1.2M314.8 525.9h1.2M312.3 503.2h1.2M321.7 530.1h1.2M320.1 531.8h1.2M319.9 531.8h1.2M320.7 532.4h1.2M320.1 528.1h1.2M320.6 526.2h1.2M319.8 531.6h1.2M319.7 528.9h1.2M320.9 526.4h1.2M319.4 530.6h1.2M319.7 525.2h1.2M319.3 529.4h1.2M321.2 534.6h1.2M319.5 526.7h1.2M319.9 529.4h1.2M321.7 529.1h1.2M320.6 529.6h1.2M329.8 533.1h1.2M328.7 529.8h1.2M331 522.3h1.2M328.7 523.6h1.2M331.1 531.1h1.2M330.8 522.2h1.2M331.2 524.5h1.2M328.6 538h1.2M330.8 529.5h1.2M328.8 533.6h1.2M330.4 525h1.2M330.7 531.7h1.2M329.1 523.3h1.2M328.8 526.3h1.2M329.7 521.6h1.2M329.2 524.6h1.2M330.9 522.5h1.2M336.7 525.6h1.2M336 533.7h1.2M338 532h1.2M335.8 534.8h1.2M336.9 527.1h1.2M335.5 528.1h1.2M335.9 536.8h1.2M337.6 533.3h1.2M337 528.1h1.2M336 535.4h1.2M338.2 535.6h1.2M335.8 529.4h1.2M337.2 528.5h1.2M336.7 530.9h1.2M337.5 530.1h1.2M337.7 524.9h1.2M336.1 528.4h1.2M345.2 529.8h1.2M345.6 528.9h1.2M347.4 519.5h1.2M345.7 526.6h1.2M345.6 529.1h1.2M346.3 529.5h1.2M345.1 527.5h1.2M345.2 525h1.2M345.1 528.1h1.2M345.8 528.6h1.2M345.3 529.5h1.2M345.6 530.3h1.2M346.3 529.9h1.2M345.1 524.2h1.2M346.1 513.1h1.2M346.1 523.9h1.2M345.3 534.5h1.2M354.5 528.4h1.2M352.1 525h1.2M354.4 526.2h1.2M352.3 530.3h1.2M352.8 532.6h1.2M353.7 529.3h1.2M354 519.2h1.2M352.5 524.3h1.2M352.4 525h1.2M353.1 529h1.2M352.9 523.5h1.2M352.7 527.1h1.2M352.4 533.9h1.2M351.5 532.5h1.2M354.3 532.7h1.2M352.5 526.4h1.2M354.3 531.4h1.2M362.4 523.2h1.2M362.9 528.5h1.2M361.2 525.8h1.2M363.3 530.2h1.2M362.3 523.2h1.2M361.5 526.7h1.2M361.6 529.8h1.2M363.4 526.3h1.2M361.2 531.5h1.2M362.8 531.2h1.2M360.7 527.4h1.2M362.7 524.6h1.2M363.3 527.6h1.2M362.3 522.2h1.2M363.7 529.2h1.2M361.9 527.9h1.2M361.9 531.4h1.2M369.5 527.7h1.2M369.8 529.4h1.2M368.7 529.6h1.2M369.6 536.7h1.2M370.4 528.3h1.2M367.9 529.7h1.2M370.7 532.7h1.2M368.2 526.6h1.2M367.8 518.6h1.2M367.7 524.6h1.2M368.9 529.3h1.2M369.9 545.4h1.2M368.4 527.4h1.2M370.6 529.6h1.2M370 533h1.2M368.1 522.8h1.2M370.1 528.5h1.2M377.9 527.3h1.2M377.6 525.5h1.2M378.9 532.7h1.2M377.7 522.5h1.2M378.3 530.8h1.2M379.7 517.9h1.2M377.2 530.9h1.2M377.6 515.7h1.2M378.8 531.2h1.2M379.1 521.8h1.2M378.9 531.6h1.2M379.4 526.8h1.2M379.9 530.2h1.2M378 522.4h1.2M377 520.7h1.2M378.2 528.7h1.2M376.9 532.4h1.2M385.7 529h1.2M386.7 535.7h1.2M385.5 526.8h1.2M384.7 525.5h1.2M385.5 524.4h1.2M384.9 528.2h1.2M385.1 518.9h1.2M384.1 528.3h1.2M386.6 528.1h1.2M386.8 526.7h1.2M386.6 528.3h1.2M385.9 532.5h1.2M385.4 534.4h1.2M386.7 525h1.2M385.9 524.6h1.2M385.2 526.3h1.2M386.7 531.4h1.2M394.6 528.1h1.2M394.8 533.1h1.2M394.7 530.5h1.2M394 523h1.2M393.8 527.6h1.2M394 529.5h1.2M393.8 517.5h1.2M396 529.3h1.2M393.6 526.6h1.2M393.7 527.6h1.2M396.1 531.2h1.2M393.5 528h1.2M393.2 527.5h1.2M394.3 528.9h1.2M394.8 526.1h1.2M395.1 522h1.2M395.8 527.9h1.2M395.9 505.4h1.2M402 528.9h1.2M403.1 531.7h1.2M402.7 526.9h1.2M401.2 528.5h1.2M400.9 533.8h1.2M401.6 528h1.2M401.6 530.1h1.2M400.5 528.4h1.2M402 529.3h1.2M402.7 529.9h1.2M400.6 528.8h1.2M402 519.4h1.2M401.7 531.3h1.2M400.7 536.9h1.2M402.7 529.6h1.2M400.5 524.2h1.2M402.5 529.1h1.2M400.3 509.7h1.2M402.8 513.2h1.2" stroke="#000" stroke-width="1.15" fill="none"/>
<path d="M32.4 483.65V571H409.9" stroke="#000" stroke-width="1.1" fill="none" stroke-linejoin="miter"/>
<path d="M28.35 571H32.4" stroke="#000" stroke-width="1.04"/>
<path d="M28.35 549.3H32.4" stroke="#000" stroke-width="1.04"/>
<path d="M28.35 527.6H32.4" stroke="#000" stroke-width="1.04"/>
<path d="M28.35 505.9H32.4" stroke="#000" stroke-width="1.04"/>
<path d="M28.35 484.2H32.4" stroke="#000" stroke-width="1.04"/>
<rect x="334.7" y="466.7" width="8.1" height="7.9" fill="#dbdb9b" stroke="#2c2c22" stroke-width="1"/>
<rect x="334.7" y="478.85" width="8.1" height="7.9" fill="#8f8239" stroke="#2c2c22" stroke-width="1"/>
<rect x="427.0" y="469.8" width="192.0" height="134.1" rx="10.5" ry="10.5" fill="#d8d59a" stroke="#111" stroke-width="1.1"/>
<g style="filter:grayscale(1)">
<text x="-0.4" y="10.9" font-size="17" font-weight="bold" textLength="11.6" lengthAdjust="spacingAndGlyphs" stroke="#000" stroke-width="0.3">A</text>
<text x="32.6" y="11.7" font-size="10.3" font-weight="bold" textLength="86" lengthAdjust="spacingAndGlyphs" stroke="#000" stroke-width="0.2">ECM degradation</text>
<text x="10" y="69.7" font-size="9.7" font-weight="bold" stroke="#000" stroke-width="0.3" text-anchor="middle" textLength="98" lengthAdjust="spacingAndGlyphs" transform="rotate(-90 10 69.7)">mRNA expression (a.u.)</text>
<text x="27.68" y="124.84" font-size="7.3" font-weight="bold" text-anchor="end" stroke="#000" stroke-width="0.15">0.0</text>
<text x="27.68" y="107.74" font-size="7.3" font-weight="bold" text-anchor="end" stroke="#000" stroke-width="0.15">0.5</text>
<text x="27.68" y="90.64" font-size="7.3" font-weight="bold" text-anchor="end" stroke="#000" stroke-width="0.15">1.0</text>
<text x="27.68" y="73.54" font-size="7.3" font-weight="bold" text-anchor="end" stroke="#000" stroke-width="0.15">1.5</text>
<text x="27.68" y="56.44" font-size="7.3" font-weight="bold" text-anchor="end" stroke="#000" stroke-width="0.15">2.0</text>
<text x="27.68" y="39.34" font-size="7.3" font-weight="bold" text-anchor="end" stroke="#000" stroke-width="0.15">2.5</text>
<text x="27.68" y="22.24" font-size="7.3" font-weight="bold" text-anchor="end" stroke="#000" stroke-width="0.15">3.0</text>
<g font-size="5.8" font-style="italic" text-anchor="end" stroke="#000" stroke-width="0.24">
<text x="42.9" y="127.7" transform="rotate(-45 42.9 127.7)">FBN1</text>
<text x="54.14" y="127.7" transform="rotate(-45 54.14 127.7)">COL1A2</text>
<text x="65.38" y="127.7" transform="rotate(-45 65.38 127.7)">TIMP2</text>
<text x="76.62" y="127.7" transform="rotate(-45 76.62 127.7)">ADAMTS5</text>
<text x="87.86" y="127.7" transform="rotate(-45 87.86 127.7)">MMP2</text>
<text x="99.1" y="127.7" transform="rotate(-45 99.1 127.7)">HSPG2</text>
<text x="110.34" y="127.7" transform="rotate(-45 110.34 127.7)">COL3A1</text>
<text x="121.58" y="127.7" transform="rotate(-45 121.58 127.7)">MMP19</text>
<text x="132.82" y="127.7" transform="rotate(-45 132.82 127.7)">COL4A3</text>
<text x="144.06" y="127.7" transform="rotate(-45 144.06 127.7)">DCN</text>
<text x="155.3" y="127.7" transform="rotate(-45 155.3 127.7)">COL5A1</text>
<text x="166.54" y="127.7" transform="rotate(-45 166.54 127.7)">CTSK</text>
<text x="177.78" y="127.7" transform="rotate(-45 177.78 127.7)">TIMP1</text>
<text x="189.02" y="127.7" transform="rotate(-45 189.02 127.7)">MMP13</text>
<text x="200.26" y="127.7" transform="rotate(-45 200.26 127.7)">A2M</text>
<text x="211.5" y="127.7" transform="rotate(-45 211.5 127.7)">MMP10</text>
<text x="222.74" y="127.7" transform="rotate(-45 222.74 127.7)">COL6A3</text>
<text x="233.98" y="127.7" transform="rotate(-45 233.98 127.7)">BMP1</text>
<text x="245.22" y="127.7" transform="rotate(-45 245.22 127.7)">LAMB1</text>
<text x="256.46" y="127.7" transform="rotate(-45 256.46 127.7)">COL15A1</text>
<text x="267.7" y="127.7" transform="rotate(-45 267.7 127.7)">COL4A4</text>
<text x="278.94" y="127.7" transform="rotate(-45 278.94 127.7)">COL8A1</text>
<text x="290.18" y="127.7" transform="rotate(-45 290.18 127.7)">COL1A1</text>
<text x="301.42" y="127.7" transform="rotate(-45 301.42 127.7)">FN1</text>
<text x="312.66" y="127.7" transform="rotate(-45 312.66 127.7)">CD44</text>
<text x="323.9" y="127.7" transform="rotate(-45 323.9 127.7)">TLL1</text>
<text x="335.14" y="127.7" transform="rotate(-45 335.14 127.7)">NID1</text>
<text x="346.38" y="127.7" transform="rotate(-45 346.38 127.7)">ADAM10</text>
<text x="357.62" y="127.7" transform="rotate(-45 357.62 127.7)">KLK2</text>
<text x="368.86" y="127.7" transform="rotate(-45 368.86 127.7)">COL9A1</text>
<text x="380.1" y="127.7" transform="rotate(-45 380.1 127.7)">COL2A1</text>
<text x="391.34" y="127.7" transform="rotate(-45 391.34 127.7)">COL4A2</text>
<text x="402.58" y="127.7" transform="rotate(-45 402.58 127.7)">COL6A1</text>
<text x="413.82" y="127.7" transform="rotate(-45 413.82 127.7)">ELANE</text>
<text x="425.06" y="127.7" transform="rotate(-45 425.06 127.7)">PRSS2</text>
<text x="436.3" y="127.7" transform="rotate(-45 436.3 127.7)">COL4A1</text>
<text x="447.54" y="127.7" transform="rotate(-45 447.54 127.7)">COL9A2</text>
<text x="458.78" y="127.7" transform="rotate(-45 458.78 127.7)">COL4A5</text>
<text x="470.02" y="127.7" transform="rotate(-45 470.02 127.7)">NCSTN</text>
</g>
<text x="419" y="38.3" font-size="9.6" textLength="46.6" lengthAdjust="spacingAndGlyphs" stroke="#000" stroke-width="0.12">no diabetes</text>
<text x="419" y="50.45" font-size="9.6" textLength="18.4" lengthAdjust="spacingAndGlyphs" stroke="#000" stroke-width="0.12">T2D</text>
<text x="486.3" y="11.4" font-size="17" font-weight="bold" textLength="11.66" lengthAdjust="spacingAndGlyphs" stroke="#000" stroke-width="0.3">B</text>
<text x="512" y="11.8" font-size="10.3" font-weight="bold" textLength="86.2" lengthAdjust="spacingAndGlyphs" stroke="#000" stroke-width="0.2">BCAA catabolism</text>
<text x="495.6" y="81.2" font-size="9.7" font-weight="bold" stroke="#000" stroke-width="0.3" text-anchor="middle" textLength="98" lengthAdjust="spacingAndGlyphs" transform="rotate(-90 495.6 81.2)">mRNA expression (a.u.)</text>
<text x="508" y="123.94" font-size="5.7" font-weight="bold" text-anchor="end" stroke="#000" stroke-width="0.15">0.0</text>
<text x="508" y="104.24" font-size="5.7" font-weight="bold" text-anchor="end" stroke="#000" stroke-width="0.15">0.5</text>
<text x="508" y="84.54" font-size="5.7" font-weight="bold" text-anchor="end" stroke="#000" stroke-width="0.15">1.0</text>
<text x="508" y="64.84" font-size="5.7" font-weight="bold" text-anchor="end" stroke="#000" stroke-width="0.15">1.5</text>
<text x="508" y="45.14" font-size="5.7" font-weight="bold" text-anchor="end" stroke="#000" stroke-width="0.15">2.0</text>
<g font-size="5.5" font-style="italic" text-anchor="end" stroke="#000" stroke-width="0.24">
<text x="524.8" y="125.6" transform="rotate(-45 524.8 125.6)">PPM1K</text>
<text x="539.94" y="125.6" transform="rotate(-45 539.94 125.6)">ALDH6A1</text>
<text x="555.08" y="125.6" transform="rotate(-45 555.08 125.6)">BCKDHB</text>
<text x="570.22" y="125.6" transform="rotate(-45 570.22 125.6)">MCCC1</text>
<text x="585.36" y="125.6" transform="rotate(-45 585.36 125.6)">ACADSB</text>
<text x="600.5" y="125.6" transform="rotate(-45 600.5 125.6)">MCCC2</text>
<text x="615.64" y="125.6" transform="rotate(-45 615.64 125.6)">SHMT1</text>
<text x="630.78" y="125.6" transform="rotate(-45 630.78 125.6)">BCKDHA</text>
<text x="645.92" y="125.6" transform="rotate(-45 645.92 125.6)">DBT</text>
<text x="661.06" y="125.6" transform="rotate(-45 661.06 125.6)">BCAT2</text>
</g>
<text x="616.9" y="37.4" font-size="9.6" textLength="46.6" lengthAdjust="spacingAndGlyphs" stroke="#000" stroke-width="0.12">no diabetes</text>
<text x="616.9" y="49.55" font-size="9.6" textLength="18.4" lengthAdjust="spacingAndGlyphs" stroke="#000" stroke-width="0.12">T2D</text>
<text x="0.3" y="168.5" font-size="17" font-weight="bold" textLength="11.54" lengthAdjust="spacingAndGlyphs" stroke="#000" stroke-width="0.3">C</text>
<text x="25.9" y="169" font-size="10.3" font-weight="bold" textLength="191" lengthAdjust="spacingAndGlyphs" stroke="#000" stroke-width="0.2">Metabolism of vitamins and cofactors</text>
<text x="10.3" y="228" font-size="9.7" font-weight="bold" stroke="#000" stroke-width="0.3" text-anchor="middle" textLength="98" lengthAdjust="spacingAndGlyphs" transform="rotate(-90 10.3 228)">mRNA expression (a.u.)</text>
<text x="20.5" y="269.44" font-size="5.7" font-weight="bold" text-anchor="end" stroke="#000" stroke-width="0.15">0</text>
<text x="20.5" y="243.14" font-size="5.7" font-weight="bold" text-anchor="end" stroke="#000" stroke-width="0.15">2</text>
<text x="20.5" y="216.84" font-size="5.7" font-weight="bold" text-anchor="end" stroke="#000" stroke-width="0.15">4</text>
<text x="20.5" y="190.54" font-size="5.7" font-weight="bold" text-anchor="end" stroke="#000" stroke-width="0.15">6</text>
<g font-size="5.05" font-style="italic" text-anchor="end" stroke="#000" stroke-width="0.24">
<text x="35.65" y="270.95" transform="rotate(-45 35.65 270.95)">SLC19A3</text>
<text x="48.52" y="270.95" transform="rotate(-45 48.52 270.95)">AOX1</text>
<text x="61.39" y="270.95" transform="rotate(-45 61.39 270.95)">FASN</text>
<text x="74.26" y="270.95" transform="rotate(-45 74.26 270.95)">CYB5A</text>
<text x="87.13" y="270.95" transform="rotate(-45 87.13 270.95)">NT5E</text>
<text x="100" y="270.95" transform="rotate(-45 100 270.95)">ENPP2</text>
</g>
<text x="118.6" y="270.05" font-size="6" font-weight="bold" text-anchor="end" stroke="#000" stroke-width="0.15">0.0</text>
<text x="118.6" y="249.95" font-size="6" font-weight="bold" text-anchor="end" stroke="#000" stroke-width="0.15">0.5</text>
<text x="118.6" y="229.85" font-size="6" font-weight="bold" text-anchor="end" stroke="#000" stroke-width="0.15">1.0</text>
<text x="118.6" y="209.75" font-size="6" font-weight="bold" text-anchor="end" stroke="#000" stroke-width="0.15">1.5</text>
<text x="118.6" y="189.65" font-size="6" font-weight="bold" text-anchor="end" stroke="#000" stroke-width="0.15">2.0</text>
<g font-size="5" font-style="italic" text-anchor="end" stroke="#000" stroke-width="0.24">
<text x="132.25" y="271.4" transform="rotate(-45 132.25 271.4)">CYP8B1</text>
<text x="143.8" y="271.4" transform="rotate(-45 143.8 271.4)">MTHFD1</text>
<text x="155.35" y="271.4" transform="rotate(-45 155.35 271.4)">PTGIS</text>
<text x="166.9" y="271.4" transform="rotate(-45 166.9 271.4)">MTHFD2L</text>
<text x="178.45" y="271.4" transform="rotate(-45 178.45 271.4)">ENPP1</text>
<text x="190" y="271.4" transform="rotate(-45 190 271.4)">PRSS3</text>
<text x="201.55" y="271.4" transform="rotate(-45 201.55 271.4)">MCCC1</text>
<text x="213.1" y="271.4" transform="rotate(-45 213.1 271.4)">PC</text>
<text x="224.65" y="271.4" transform="rotate(-45 224.65 271.4)">COASY</text>
<text x="236.2" y="271.4" transform="rotate(-45 236.2 271.4)">SLC52A3</text>
<text x="247.75" y="271.4" transform="rotate(-45 247.75 271.4)">MCCC2</text>
<text x="259.3" y="271.4" transform="rotate(-45 259.3 271.4)">ALDH1L2</text>
<text x="270.85" y="271.4" transform="rotate(-45 270.85 271.4)">TCN2</text>
<text x="282.4" y="271.4" transform="rotate(-45 282.4 271.4)">SHMT1</text>
<text x="293.95" y="271.4" transform="rotate(-45 293.95 271.4)">PARP4</text>
<text x="305.5" y="271.4" transform="rotate(-45 305.5 271.4)">NMNAT2</text>
<text x="317.05" y="271.4" transform="rotate(-45 317.05 271.4)">ACACA</text>
<text x="328.6" y="271.4" transform="rotate(-45 328.6 271.4)">ALDH1L1</text>
<text x="340.15" y="271.4" transform="rotate(-45 340.15 271.4)">MOCS1</text>
<text x="351.7" y="271.4" transform="rotate(-45 351.7 271.4)">PARP10</text>
<text x="363.25" y="271.4" transform="rotate(-45 363.25 271.4)">LMBRD1</text>
<text x="374.8" y="271.4" transform="rotate(-45 374.8 271.4)">FOLR2</text>
<text x="386.35" y="271.4" transform="rotate(-45 386.35 271.4)">PCCA</text>
</g>
<text x="338.3" y="177.5" font-size="9.6" textLength="46.6" lengthAdjust="spacingAndGlyphs" stroke="#000" stroke-width="0.12">no diabetes</text>
<text x="338.3" y="189.65" font-size="9.6" textLength="18.4" lengthAdjust="spacingAndGlyphs" stroke="#000" stroke-width="0.12">T2D</text>
<text x="406.2" y="168.5" font-size="17" font-weight="bold" textLength="11.66" lengthAdjust="spacingAndGlyphs" stroke="#000" stroke-width="0.3">D</text>
<text x="426.2" y="169" font-size="10.3" font-weight="bold" textLength="136.3" lengthAdjust="spacingAndGlyphs" stroke="#000" stroke-width="0.2">Fatty acyl-CoA biosynthesis</text>
<text x="412.9" y="229.8" font-size="9.7" font-weight="bold" stroke="#000" stroke-width="0.3" text-anchor="middle" textLength="98" lengthAdjust="spacingAndGlyphs" transform="rotate(-90 412.9 229.8)">mRNA expression (a.u.)</text>
<text x="422.3" y="270.86" font-size="6.3" font-weight="bold" text-anchor="end" stroke="#000" stroke-width="0.15">0</text>
<text x="422.3" y="234.86" font-size="6.3" font-weight="bold" text-anchor="end" stroke="#000" stroke-width="0.15">5</text>
<text x="422.3" y="198.86" font-size="6.3" font-weight="bold" text-anchor="end" stroke="#000" stroke-width="0.15">10</text>
<g font-size="5.3" font-style="italic" text-anchor="end" stroke="#000" stroke-width="0.24">
<text x="439.35" y="272.6" transform="rotate(-45 439.35 272.6)">SCD</text>
<text x="454.8" y="272.6" transform="rotate(-45 454.8 272.6)">FASN</text>
<text x="470.25" y="272.6" transform="rotate(-45 470.25 272.6)">ELOVL5</text>
</g>
<text x="492.75" y="271.24" font-size="6.4" font-weight="bold" text-anchor="end" stroke="#000" stroke-width="0.15">0.0</text>
<text x="492.75" y="249.69" font-size="6.4" font-weight="bold" text-anchor="end" stroke="#000" stroke-width="0.15">0.5</text>
<text x="492.75" y="228.14" font-size="6.4" font-weight="bold" text-anchor="end" stroke="#000" stroke-width="0.15">1.0</text>
<text x="492.75" y="206.59" font-size="6.4" font-weight="bold" text-anchor="end" stroke="#000" stroke-width="0.15">1.5</text>
<text x="492.75" y="185.04" font-size="6.4" font-weight="bold" text-anchor="end" stroke="#000" stroke-width="0.15">2.0</text>
<g font-size="5.26" font-style="italic" text-anchor="end" stroke="#000" stroke-width="0.24">
<text x="507.5" y="272.95" transform="rotate(-45 507.5 272.95)">PPT1</text>
<text x="519.6" y="272.95" transform="rotate(-45 519.6 272.95)">ACSL6</text>
<text x="531.7" y="272.95" transform="rotate(-45 531.7 272.95)">TECRL</text>
<text x="543.8" y="272.95" transform="rotate(-45 543.8 272.95)">ACACA</text>
<text x="555.9" y="272.95" transform="rotate(-45 555.9 272.95)">SCD5</text>
<text x="568" y="272.95" transform="rotate(-45 568 272.95)">ACSF3</text>
<text x="580.1" y="272.95" transform="rotate(-45 580.1 272.95)">HSD17B8</text>
<text x="592.2" y="272.95" transform="rotate(-45 592.2 272.95)">ELOVL1</text>
<text x="604.3" y="272.95" transform="rotate(-45 604.3 272.95)">ACLY</text>
<text x="616.4" y="272.95" transform="rotate(-45 616.4 272.95)">TECR</text>
<text x="628.5" y="272.95" transform="rotate(-45 628.5 272.95)">CBR4</text>
<text x="640.6" y="272.95" transform="rotate(-45 640.6 272.95)">ELOVL6</text>
<text x="652.7" y="272.95" transform="rotate(-45 652.7 272.95)">ELOVL2</text>
<text x="664.8" y="272.95" transform="rotate(-45 664.8 272.95)">HSD17B3</text>
<text x="676.9" y="272.95" transform="rotate(-45 676.9 272.95)">MORC2</text>
</g>
<text x="628.3" y="178.2" font-size="9.6" textLength="46.6" lengthAdjust="spacingAndGlyphs" stroke="#000" stroke-width="0.12">no diabetes</text>
<text x="628.3" y="190.35" font-size="9.6" textLength="18.4" lengthAdjust="spacingAndGlyphs" stroke="#000" stroke-width="0.12">T2D</text>
<text x="0.3" y="312.9" font-size="17" font-weight="bold" textLength="11.34" lengthAdjust="spacingAndGlyphs" stroke="#000" stroke-width="0.3">E</text>
<text x="25.9" y="313.3" font-size="10.3" font-weight="bold" textLength="96" lengthAdjust="spacingAndGlyphs" stroke="#000" stroke-width="0.2">Muscle contraction</text>
<text x="10" y="374" font-size="9.7" font-weight="bold" stroke="#000" stroke-width="0.3" text-anchor="middle" textLength="98" lengthAdjust="spacingAndGlyphs" transform="rotate(-90 10 374)">mRNA expression (a.u.)</text>
<text x="20.55" y="419.92" font-size="6.2" font-weight="bold" text-anchor="end" stroke="#000" stroke-width="0.15">0</text>
<text x="20.55" y="390.92" font-size="6.2" font-weight="bold" text-anchor="end" stroke="#000" stroke-width="0.15">2</text>
<text x="20.55" y="361.92" font-size="6.2" font-weight="bold" text-anchor="end" stroke="#000" stroke-width="0.15">4</text>
<text x="20.55" y="332.92" font-size="6.2" font-weight="bold" text-anchor="end" stroke="#000" stroke-width="0.15">6</text>
<g font-size="5.5" font-style="italic" text-anchor="end" stroke="#000" stroke-width="0.24">
<text x="35.1" y="421.95" transform="rotate(-45 35.1 421.95)">MYH8</text>
<text x="46" y="421.95" transform="rotate(-45 46 421.95)">KCNIP2</text>
<text x="56.9" y="421.95" transform="rotate(-45 56.9 421.95)">ACTG2</text>
<text x="67.8" y="421.95" transform="rotate(-45 67.8 421.95)">ANXA1</text>
<text x="78.7" y="421.95" transform="rotate(-45 78.7 421.95)">VIM</text>
<text x="89.6" y="421.95" transform="rotate(-45 89.6 421.95)">MYH11</text>
</g>
<text x="110.25" y="420.89" font-size="6.4" font-weight="bold" text-anchor="end" stroke="#000" stroke-width="0.15">0.0</text>
<text x="110.25" y="399.52" font-size="6.4" font-weight="bold" text-anchor="end" stroke="#000" stroke-width="0.15">0.5</text>
<text x="110.25" y="378.14" font-size="6.4" font-weight="bold" text-anchor="end" stroke="#000" stroke-width="0.15">1.0</text>
<text x="110.25" y="356.77" font-size="6.4" font-weight="bold" text-anchor="end" stroke="#000" stroke-width="0.15">1.5</text>
<text x="110.25" y="335.39" font-size="6.4" font-weight="bold" text-anchor="end" stroke="#000" stroke-width="0.15">2.0</text>
<g font-size="5.06" font-style="italic" text-anchor="end" stroke="#000" stroke-width="0.24">
<text x="123.92" y="422.95" transform="rotate(-45 123.92 422.95)">SCN7A</text>
<text x="134.31" y="422.95" transform="rotate(-45 134.31 422.95)">FXYD6</text>
<text x="144.69" y="422.95" transform="rotate(-45 144.69 422.95)">WWTR1</text>
<text x="155.07" y="422.95" transform="rotate(-45 155.07 422.95)">NPR1</text>
<text x="165.46" y="422.95" transform="rotate(-45 165.46 422.95)">CLIC2</text>
<text x="175.84" y="422.95" transform="rotate(-45 175.84 422.95)">KCNE4</text>
<text x="186.23" y="422.95" transform="rotate(-45 186.23 422.95)">ATP2B4</text>
<text x="196.61" y="422.95" transform="rotate(-45 196.61 422.95)">TBX5</text>
<text x="207" y="422.95" transform="rotate(-45 207 422.95)">MYL9</text>
<text x="217.38" y="422.95" transform="rotate(-45 217.38 422.95)">CALD1</text>
<text x="227.77" y="422.95" transform="rotate(-45 227.77 422.95)">CACNB4</text>
<text x="238.16" y="422.95" transform="rotate(-45 238.16 422.95)">CACNG4</text>
<text x="248.54" y="422.95" transform="rotate(-45 248.54 422.95)">KCND3</text>
<text x="258.93" y="422.95" transform="rotate(-45 258.93 422.95)">SCN1A</text>
<text x="269.31" y="422.95" transform="rotate(-45 269.31 422.95)">ACTA2</text>
<text x="279.69" y="422.95" transform="rotate(-45 279.69 422.95)">CACNG1</text>
<text x="290.08" y="422.95" transform="rotate(-45 290.08 422.95)">FKBP1B</text>
<text x="300.46" y="422.95" transform="rotate(-45 300.46 422.95)">TMOD3</text>
<text x="310.85" y="422.95" transform="rotate(-45 310.85 422.95)">ATP1B3</text>
<text x="321.24" y="422.95" transform="rotate(-45 321.24 422.95)">ATP1A1</text>
<text x="331.62" y="422.95" transform="rotate(-45 331.62 422.95)">CACNA1S</text>
<text x="342.01" y="422.95" transform="rotate(-45 342.01 422.95)">NOS1</text>
<text x="352.39" y="422.95" transform="rotate(-45 352.39 422.95)">KCNQ1</text>
<text x="362.78" y="422.95" transform="rotate(-45 362.78 422.95)">KCNK10</text>
<text x="373.16" y="422.95" transform="rotate(-45 373.16 422.95)">ITGB5</text>
<text x="383.55" y="422.95" transform="rotate(-45 383.55 422.95)">NPPA</text>
<text x="393.93" y="422.95" transform="rotate(-45 393.93 422.95)">KCNJ14</text>
<text x="404.31" y="422.95" transform="rotate(-45 404.31 422.95)">LMOD1</text>
<text x="414.7" y="422.95" transform="rotate(-45 414.7 422.95)">ATP2B2</text>
<text x="425.09" y="422.95" transform="rotate(-45 425.09 422.95)">TRPC1</text>
<text x="435.47" y="422.95" transform="rotate(-45 435.47 422.95)">RYR1</text>
<text x="445.86" y="422.95" transform="rotate(-45 445.86 422.95)">SORBS1</text>
<text x="456.24" y="422.95" transform="rotate(-45 456.24 422.95)">ANXA6</text>
<text x="466.62" y="422.95" transform="rotate(-45 466.62 422.95)">AHCYL1</text>
<text x="477.01" y="422.95" transform="rotate(-45 477.01 422.95)">TLN1</text>
<text x="487.39" y="422.95" transform="rotate(-45 487.39 422.95)">ORAI1</text>
<text x="497.78" y="422.95" transform="rotate(-45 497.78 422.95)">KCNH2</text>
<text x="508.17" y="422.95" transform="rotate(-45 508.17 422.95)">DMPK</text>
<text x="518.55" y="422.95" transform="rotate(-45 518.55 422.95)">FGF13</text>
<text x="528.93" y="422.95" transform="rotate(-45 528.93 422.95)">FXYD4</text>
</g>
<text x="476.9" y="325.6" font-size="9.6" textLength="46.6" lengthAdjust="spacingAndGlyphs" stroke="#000" stroke-width="0.12">no diabetes</text>
<text x="476.9" y="337.75" font-size="9.6" textLength="18.4" lengthAdjust="spacingAndGlyphs" stroke="#000" stroke-width="0.12">T2D</text>
<text x="0.8" y="461.1" font-size="17" font-weight="bold" textLength="10.39" lengthAdjust="spacingAndGlyphs" stroke="#000" stroke-width="0.3">F</text>
<text x="29.1" y="462" font-size="10.3" font-weight="bold" textLength="116" lengthAdjust="spacingAndGlyphs" stroke="#000" stroke-width="0.2">Translocation of GLUT4</text>
<text x="9.7" y="526.8" font-size="9.7" font-weight="bold" stroke="#000" stroke-width="0.3" text-anchor="middle" textLength="98" lengthAdjust="spacingAndGlyphs" transform="rotate(-90 9.7 526.8)">mRNA expression (a.u.)</text>
<text x="27.25" y="573.36" font-size="6.6" font-weight="bold" text-anchor="end" stroke="#000" stroke-width="0.15">0.0</text>
<text x="27.25" y="551.66" font-size="6.6" font-weight="bold" text-anchor="end" stroke="#000" stroke-width="0.15">0.5</text>
<text x="27.25" y="529.96" font-size="6.6" font-weight="bold" text-anchor="end" stroke="#000" stroke-width="0.15">1.0</text>
<text x="27.25" y="508.26" font-size="6.6" font-weight="bold" text-anchor="end" stroke="#000" stroke-width="0.15">1.5</text>
<text x="27.25" y="486.56" font-size="6.6" font-weight="bold" text-anchor="end" stroke="#000" stroke-width="0.15">2.0</text>
<g font-size="5.4" font-style="italic" text-anchor="end" stroke="#000" stroke-width="0.24">
<text x="45.35" y="575.5" transform="rotate(-45 45.35 575.5)">TUBA1C</text>
<text x="61.56" y="575.5" transform="rotate(-45 61.56 575.5)">SNAP23</text>
<text x="77.77" y="575.5" transform="rotate(-45 77.77 575.5)">RAB8A</text>
<text x="93.98" y="575.5" transform="rotate(-45 93.98 575.5)">MYO1C</text>
<text x="110.19" y="575.5" transform="rotate(-45 110.19 575.5)">KIF5B</text>
<text x="126.4" y="575.5" transform="rotate(-45 126.4 575.5)">GLUT4</text>
<text x="142.61" y="575.5" transform="rotate(-45 142.61 575.5)">AKT2</text>
<text x="158.82" y="575.5" transform="rotate(-45 158.82 575.5)">YWHAB</text>
<text x="175.03" y="575.5" transform="rotate(-45 175.03 575.5)">PRKAB1</text>
<text x="191.24" y="575.5" transform="rotate(-45 191.24 575.5)">TUBA3E</text>
<text x="207.45" y="575.5" transform="rotate(-45 207.45 575.5)">ACTB</text>
<text x="223.66" y="575.5" transform="rotate(-45 223.66 575.5)">EXOC3</text>
<text x="239.87" y="575.5" transform="rotate(-45 239.87 575.5)">TUBB3</text>
<text x="256.08" y="575.5" transform="rotate(-45 256.08 575.5)">ACTG1</text>
<text x="272.29" y="575.5" transform="rotate(-45 272.29 575.5)">TUBA1B</text>
<text x="288.5" y="575.5" transform="rotate(-45 288.5 575.5)">TUBB2A</text>
<text x="304.71" y="575.5" transform="rotate(-45 304.71 575.5)">TUBA3C</text>
<text x="320.92" y="575.5" transform="rotate(-45 320.92 575.5)">TUBA1A</text>
<text x="337.13" y="575.5" transform="rotate(-45 337.13 575.5)">RAB14</text>
<text x="353.34" y="575.5" transform="rotate(-45 353.34 575.5)">EXOC1</text>
<text x="369.55" y="575.5" transform="rotate(-45 369.55 575.5)">RHOQ</text>
<text x="385.76" y="575.5" transform="rotate(-45 385.76 575.5)">ASPSCR1</text>
<text x="401.97" y="575.5" transform="rotate(-45 401.97 575.5)">PRKAG2</text>
</g>
<text x="347.2" y="474" font-size="9.6" textLength="46.6" lengthAdjust="spacingAndGlyphs" stroke="#000" stroke-width="0.12">no diabetes</text>
<text x="347.2" y="486.15" font-size="9.6" textLength="18.4" lengthAdjust="spacingAndGlyphs" stroke="#000" stroke-width="0.12">T2D</text>
<text x="409.7" y="461" font-size="17" font-weight="bold" textLength="12.56" lengthAdjust="spacingAndGlyphs" stroke="#000" stroke-width="0.3">G</text>
<text x="436.5" y="462.2" font-size="10.3" font-weight="bold" textLength="173" lengthAdjust="spacingAndGlyphs" stroke="#000" stroke-width="0.2">T2D muscle tissue and T2D myoblasts</text>
<text x="438.5" y="486.7" font-size="10.4" font-weight="bold" textLength="148.5" lengthAdjust="spacingAndGlyphs" stroke="#000" stroke-width="0.1">Downregulated pathway groups</text>
<text x="438.5" y="500.4" font-size="10.4" textLength="81" lengthAdjust="spacingAndGlyphs" stroke="#000" stroke-width="0.2">ECM organization</text>
<text x="438.5" y="514.1" font-size="10.4" textLength="93.5" lengthAdjust="spacingAndGlyphs" stroke="#000" stroke-width="0.2">Metabolism of lipids</text>
<text x="438.5" y="527.8" font-size="10.4" textLength="123" lengthAdjust="spacingAndGlyphs" stroke="#000" stroke-width="0.2">Vesicle-mediated transport</text>
<text x="438.5" y="541.5" font-size="10.4" textLength="171.7" lengthAdjust="spacingAndGlyphs" stroke="#000" stroke-width="0.2">Signaling by receptor tyrosine kinases</text>
<text x="438.5" y="555.2" font-size="10.4" textLength="66.5" lengthAdjust="spacingAndGlyphs" stroke="#000" stroke-width="0.2">Axon guidance</text>
<text x="438.5" y="568.9" font-size="10.4" font-weight="bold" textLength="134.5" lengthAdjust="spacingAndGlyphs" stroke="#000" stroke-width="0.1">Upregulated pathway groups</text>
<text x="438.5" y="582.6" font-size="10.4" textLength="40.5" lengthAdjust="spacingAndGlyphs" stroke="#000" stroke-width="0.2">Cell cycle</text>
<text x="438.5" y="596.3" font-size="10.4" textLength="60" lengthAdjust="spacingAndGlyphs" stroke="#000" stroke-width="0.2">Transcription</text>
</g>
</svg>
</body></html>
